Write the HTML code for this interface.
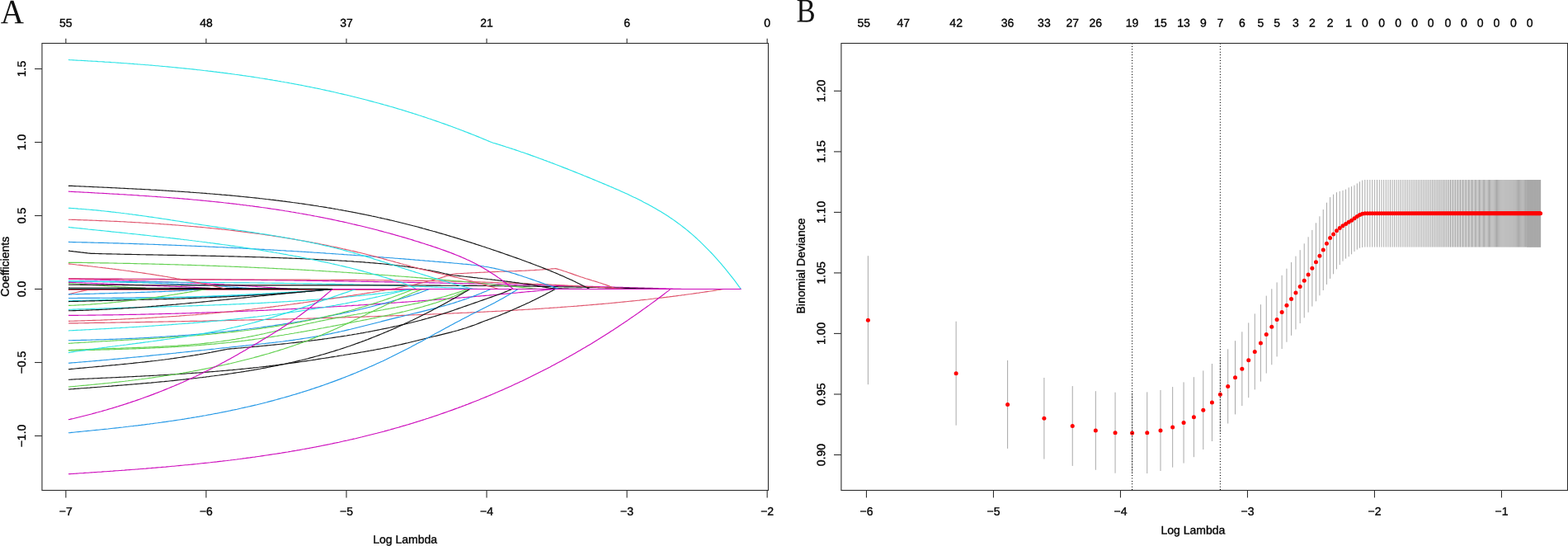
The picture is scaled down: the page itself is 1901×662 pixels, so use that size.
<!DOCTYPE html>
<html lang="en"><head><meta charset="utf-8"><title>LASSO coefficient paths and cross-validation</title>
<style>
html,body{margin:0;padding:0;background:#fff;}
body{width:1901px;height:662px;overflow:hidden;}
svg{display:block;}
</style></head><body>
<svg width="1901" height="662" viewBox="0 0 1901 662" role="img" aria-label="LASSO coefficient profiles and cross-validated binomial deviance">
<rect x="0" y="0" width="1901" height="662" fill="#ffffff"/>
<g fill="none" stroke-linejoin="round" stroke-linecap="butt" stroke-width="1.15">
<path d="M83.0,338.0 L85.0,338.0 L87.0,338.0 L89.0,338.0 L91.0,338.0 L93.0,338.0 L95.0,338.0 L97.0,338.0 L99.0,338.0 L101.0,338.0 L103.0,338.0 L105.1,338.0 L107.1,338.0 L109.1,338.0 L111.1,338.0 L113.1,338.0 L115.1,338.0 L117.1,338.0 L119.1,338.0 L121.1,338.0 L123.1,338.0 L125.1,338.1 L127.1,338.1 L129.1,338.1 L131.1,338.1 L133.1,338.1 L135.1,338.1 L137.1,338.1 L139.1,338.1 L141.1,338.1 L143.1,338.1 L145.1,338.1 L147.1,338.1 L149.2,338.2 L151.2,338.2 L153.2,338.2 L155.2,338.2 L157.2,338.2 L159.2,338.2 L161.2,338.2 L163.2,338.2 L165.2,338.2 L167.2,338.2 L169.2,338.3 L171.2,338.3 L173.2,338.3 L175.2,338.3 L177.2,338.3 L179.2,338.3 L181.2,338.3 L183.2,338.3 L185.2,338.3 L187.2,338.4 L189.2,338.4 L191.2,338.4 L193.3,338.4 L195.3,338.4 L197.3,338.4 L199.3,338.4 L201.3,338.5 L203.3,338.5 L205.3,338.5 L207.3,338.5 L209.3,338.5 L211.3,338.5 L213.3,338.5 L215.3,338.6 L217.3,338.6 L219.3,338.6 L221.3,338.6 L223.3,338.6 L225.3,338.6 L227.3,338.6 L229.3,338.7 L231.3,338.7 L233.3,338.7 L235.3,338.7 L237.4,338.7 L239.4,338.7 L241.4,338.8 L243.4,338.8 L245.4,338.8 L247.4,338.8 L249.4,338.8 L251.4,338.9 L253.4,338.9 L255.4,338.9 L257.4,338.9 L259.4,338.9 L261.4,339.0 L263.4,339.0 L265.4,339.0 L267.4,339.0 L269.4,339.0 L271.4,339.0 L273.4,339.1 L275.4,339.1 L277.4,339.1 L279.4,339.1 L281.5,339.2 L283.5,339.2 L285.5,339.2 L287.5,339.2 L289.5,339.2 L291.5,339.3 L293.5,339.3 L295.5,339.3 L297.5,339.3 L299.5,339.3 L301.5,339.4 L303.5,339.4 L305.5,339.4 L307.5,339.4 L309.5,339.5 L311.5,339.5 L313.5,339.5 L315.5,339.5 L317.5,339.6 L319.5,339.6 L321.5,339.6 L323.5,339.6 L325.6,339.7 L327.6,339.7 L329.6,339.7 L331.6,339.7 L333.6,339.8 L335.6,339.8 L337.6,339.8 L339.6,339.8 L341.6,339.9 L343.6,339.9 L345.6,339.9 L347.6,339.9 L349.6,340.0 L351.6,340.0 L353.6,340.0 L355.6,340.0 L357.6,340.1 L359.6,340.1 L361.6,340.1 L363.6,340.1 L365.6,340.2 L367.7,340.2 L369.7,340.2 L371.7,340.3 L373.7,340.3 L375.7,340.3 L377.7,340.3 L379.7,340.4 L381.7,340.4 L383.7,340.4 L385.7,340.5 L387.7,340.5 L389.7,340.5 L391.7,340.6 L393.7,340.6 L395.7,340.6 L397.7,340.6 L399.7,340.7 L401.7,340.7 L403.7,340.7 L405.7,340.8 L407.7,340.8 L409.7,340.8 L411.8,340.9 L413.8,340.9 L415.8,340.9 L417.8,341.0 L419.8,341.0 L421.8,341.0 L423.8,341.1 L425.8,341.1 L427.8,341.1 L429.8,341.1 L431.8,341.2 L433.8,341.2 L435.8,341.2 L437.8,341.3 L439.8,341.3 L441.8,341.4 L443.8,341.4 L445.8,341.4 L447.8,341.5 L449.8,341.5 L451.8,341.5 L453.8,341.6 L455.9,341.6 L457.9,341.6 L459.9,341.7 L461.9,341.7 L463.9,341.7 L465.9,341.8 L467.9,341.8 L469.9,341.8 L471.9,341.9 L473.9,341.9 L475.9,341.9 L477.9,342.0 L479.9,342.0 L481.9,342.1 L483.9,342.1 L485.9,342.1 L487.9,342.2 L489.9,342.2 L491.9,342.2 L493.9,342.3 L495.9,342.3 L497.9,342.4 L500.0,342.4 L502.0,342.4 L504.0,342.5 L506.0,342.5 L508.0,342.6 L510.0,342.6 L512.0,342.6 L514.0,342.7 L516.0,342.7 L518.0,342.7 L520.0,342.8 L522.0,342.8 L524.0,342.9 L526.0,342.9 L528.0,343.0 L530.0,343.0 L532.0,343.0 L534.0,343.1 L536.0,343.1 L538.0,343.2 L540.0,343.2 L542.0,343.2 L544.1,343.3 L546.1,343.3 L548.1,343.4 L550.1,343.4 L552.1,343.4 L554.1,343.5 L556.1,343.5 L558.1,343.6 L560.1,343.6 L562.1,343.7 L564.1,343.7 L566.1,343.7 L568.1,343.8 L570.1,343.8 L572.1,343.9 L574.1,343.9 L576.1,344.0 L578.1,344.0 L580.1,344.1 L582.1,344.1 L584.1,344.1 L586.2,344.2 L588.2,344.2 L590.2,344.3 L592.2,344.3 L594.2,344.4 L596.2,344.4 L598.2,344.5 L600.2,344.5 L602.2,344.5 L604.2,344.6 L606.2,344.6 L608.2,344.7 L610.2,344.7 L612.2,344.8 L614.2,344.8 L616.2,344.9 L618.2,344.9 L620.2,345.0 L622.2,345.0 L624.2,345.1 L626.2,345.1 L628.2,345.2 L630.3,345.2 L632.3,345.2 L634.3,345.3 L636.3,345.3 L638.3,345.4 L640.3,345.4 L642.3,345.5 L644.3,345.5 L646.3,345.6 L648.3,345.6 L650.3,345.7 L652.3,345.7 L654.3,345.8 L656.3,345.8 L658.3,345.9 L660.3,345.9 L662.3,346.0 L664.3,346.0 L666.3,346.1 L668.3,346.1 L670.3,346.2 L672.3,346.2 L674.4,346.3 L676.4,346.3 L678.4,346.4 L680.4,346.4 L682.4,346.5 L684.4,346.5 L686.4,346.6 L688.4,346.6 L690.4,346.7 L692.4,346.7 L694.4,346.8 L696.4,346.8 L698.4,346.9 L700.4,347.0 L702.4,347.0 L704.4,347.1 L706.4,347.1 L708.4,347.2 L710.4,347.2 L712.4,347.3 L714.4,347.3 L716.4,347.4 L718.5,347.4 L720.5,347.5 L722.5,347.5 L724.5,347.6 L726.5,347.6 L728.5,347.7 L730.5,347.8 L732.5,347.8 L734.5,347.9 L736.5,347.9 L738.5,348.0 L740.5,348.0 L742.5,348.1 L744.5,348.1 L746.5,348.2 L748.5,348.2 L750.5,348.3 L752.5,348.4 L754.5,348.4 L756.5,348.5 L758.5,348.5 L760.5,348.6 L762.6,348.6 L764.6,348.7 L766.6,348.7 L768.6,348.8 L770.6,348.9 L772.6,348.9 L774.6,349.0 L776.6,349.0 L778.6,349.1 L780.6,349.1 L782.6,349.2 L784.6,349.3 L786.6,349.3 L788.6,349.4 L790.6,349.4 L792.6,349.5 L794.6,349.6 L796.6,349.6 L798.6,349.7 L800.6,349.7 L802.6,349.8 L804.6,349.8 L806.7,349.9 L808.7,350.0 L810.7,350.0 L812.7,350.1 L814.7,350.1 L816.7,350.2 L818.7,350.3 L820.7,350.3 L822.7,350.4 L824.7,350.4 L826.7,350.5" stroke="#CD0BBC"/>
<path d="M83.0,338.2 L85.0,338.3 L87.0,338.3 L89.0,338.4 L91.1,338.4 L93.1,338.5 L95.1,338.5 L97.1,338.6 L99.1,338.6 L101.1,338.7 L103.1,338.8 L105.1,338.8 L107.2,338.9 L109.2,338.9 L111.2,339.0 L113.2,339.0 L115.2,339.1 L117.2,339.1 L119.2,339.2 L121.2,339.3 L123.3,339.3 L125.3,339.4 L127.3,339.4 L129.3,339.5 L131.3,339.5 L133.3,339.6 L135.3,339.7 L137.3,339.7 L139.4,339.8 L141.4,339.8 L143.4,339.9 L145.4,340.0 L147.4,340.0 L149.4,340.1 L151.4,340.2 L153.4,340.2 L155.5,340.3 L157.5,340.4 L159.5,340.4 L161.5,340.5 L163.5,340.5 L165.5,340.6 L167.5,340.7 L169.5,340.7 L171.6,340.8 L173.6,340.9 L175.6,340.9 L177.6,341.0 L179.6,341.1 L181.6,341.2 L183.6,341.2 L185.6,341.3 L187.7,341.4 L189.7,341.4 L191.7,341.5 L193.7,341.6 L195.7,341.6 L197.7,341.7 L199.7,341.8 L201.7,341.9 L203.8,341.9 L205.8,342.0 L207.8,342.1 L209.8,342.2 L211.8,342.2 L213.8,342.3 L215.8,342.4 L217.8,342.5 L219.9,342.6 L221.9,342.6 L223.9,342.7 L225.9,342.8 L227.9,342.9 L229.9,343.0 L231.9,343.1 L233.9,343.1 L236.0,343.2 L238.0,343.3 L240.0,343.4 L242.0,343.5 L244.0,343.6 L246.0,343.7 L248.0,343.8 L250.0,343.9 L252.1,344.0 L254.1,344.1 L256.1,344.2 L258.1,344.3 L260.1,344.4 L262.1,344.5 L264.1,344.6 L266.1,344.7 L268.2,344.8 L270.2,344.9 L272.2,345.1 L274.2,345.2 L276.2,345.3 L278.2,345.4 L280.2,345.5 L282.2,345.7 L284.3,345.8 L286.3,345.9 L288.3,346.0 L290.3,346.2 L292.3,346.3 L294.3,346.4 L296.3,346.5 L298.3,346.7 L300.4,346.8 L302.4,346.9 L304.4,347.0 L306.4,347.2 L308.4,347.3 L310.4,347.4 L312.4,347.6 L314.4,347.7 L316.5,347.8 L318.5,348.0 L320.5,348.1 L322.5,348.2 L324.5,348.4 L326.5,348.5 L328.5,348.6 L330.5,348.8 L332.6,348.9 L334.6,349.1 L336.6,349.2 L338.6,349.3 L340.6,349.5 L342.6,349.6 L344.6,349.8 L346.6,349.9 L348.7,350.1 L350.7,350.2 L352.7,350.4 L354.7,350.5" stroke="#CD0BBC"/>
<path d="M83.0,340.9 L85.0,340.9 L87.0,340.9 L89.0,340.9 L91.0,341.0 L93.0,341.0 L95.0,341.0 L97.0,341.0 L99.0,341.1 L101.1,341.1 L103.1,341.2 L105.1,341.2 L107.1,341.2 L109.1,341.3 L111.1,341.3 L113.1,341.3 L115.1,341.4 L117.1,341.4 L119.1,341.5 L121.1,341.5 L123.1,341.5 L125.1,341.6 L127.1,341.6 L129.1,341.7 L131.1,341.7 L133.1,341.8 L135.2,341.8 L137.2,341.9 L139.2,341.9 L141.2,342.0 L143.2,342.0 L145.2,342.1 L147.2,342.1 L149.2,342.2 L151.2,342.2 L153.2,342.3 L155.2,342.3 L157.2,342.4 L159.2,342.5 L161.2,342.5 L163.2,342.6 L165.2,342.6 L167.2,342.7 L169.3,342.7 L171.3,342.8 L173.3,342.9 L175.3,342.9 L177.3,343.0 L179.3,343.0 L181.3,343.1 L183.3,343.2 L185.3,343.2 L187.3,343.3 L189.3,343.4 L191.3,343.4 L193.3,343.5 L195.3,343.6 L197.3,343.7 L199.3,343.7 L201.3,343.8 L203.4,343.9 L205.4,344.0 L207.4,344.1 L209.4,344.1 L211.4,344.2 L213.4,344.3 L215.4,344.4 L217.4,344.5 L219.4,344.6 L221.4,344.6 L223.4,344.7 L225.4,344.8 L227.4,344.9 L229.4,345.0 L231.4,345.1 L233.4,345.2 L235.5,345.3 L237.5,345.4 L239.5,345.5 L241.5,345.6 L243.5,345.7 L245.5,345.8 L247.5,345.9 L249.5,346.0 L251.5,346.1 L253.5,346.2 L255.5,346.3 L257.5,346.4 L259.5,346.5 L261.5,346.6 L263.5,346.8 L265.5,346.9 L267.5,347.0 L269.6,347.2 L271.6,347.3 L273.6,347.4 L275.6,347.6 L277.6,347.7 L279.6,347.9 L281.6,348.0 L283.6,348.1 L285.6,348.3 L287.6,348.4 L289.6,348.6 L291.6,348.7 L293.6,348.8 L295.6,349.0 L297.6,349.1 L299.6,349.2 L301.6,349.4 L303.7,349.5 L305.7,349.6 L307.7,349.8 L309.7,349.9 L311.7,350.0 L313.7,350.1 L315.7,350.3 L317.7,350.4 L319.7,350.5" stroke="#2297E6"/>
<path d="M83.0,340.7 L85.0,340.7 L87.0,340.7 L89.0,340.7 L91.0,340.8 L93.0,340.8 L95.0,340.8 L97.0,340.9 L99.0,340.9 L101.0,340.9 L103.0,341.0 L105.0,341.0 L107.0,341.0 L109.0,341.0 L111.0,341.1 L113.0,341.1 L115.0,341.1 L117.0,341.1 L119.1,341.2 L121.1,341.2 L123.1,341.2 L125.1,341.2 L127.1,341.3 L129.1,341.3 L131.1,341.3 L133.1,341.3 L135.1,341.4 L137.1,341.4 L139.1,341.4 L141.1,341.4 L143.1,341.5 L145.1,341.5 L147.1,341.5 L149.1,341.5 L151.1,341.5 L153.1,341.6 L155.1,341.6 L157.1,341.6 L159.1,341.6 L161.1,341.7 L163.1,341.7 L165.1,341.7 L167.1,341.7 L169.1,341.7 L171.1,341.8 L173.1,341.8 L175.1,341.8 L177.1,341.8 L179.1,341.8 L181.1,341.8 L183.1,341.9 L185.1,341.9 L187.1,341.9 L189.1,341.9 L191.2,341.9 L193.2,342.0 L195.2,342.0 L197.2,342.0 L199.2,342.0 L201.2,342.0 L203.2,342.0 L205.2,342.1 L207.2,342.1 L209.2,342.1 L211.2,342.1 L213.2,342.1 L215.2,342.2 L217.2,342.2 L219.2,342.2 L221.2,342.2 L223.2,342.2 L225.2,342.2 L227.2,342.3 L229.2,342.3 L231.2,342.3 L233.2,342.3 L235.2,342.3 L237.2,342.3 L239.2,342.4 L241.2,342.4 L243.2,342.4 L245.2,342.4 L247.2,342.4 L249.2,342.4 L251.2,342.5 L253.2,342.5 L255.2,342.5 L257.2,342.5 L259.2,342.5 L261.3,342.6 L263.3,342.6 L265.3,342.6 L267.3,342.6 L269.3,342.6 L271.3,342.6 L273.3,342.7 L275.3,342.7 L277.3,342.7 L279.3,342.7 L281.3,342.7 L283.3,342.8 L285.3,342.8 L287.3,342.8 L289.3,342.8 L291.3,342.8 L293.3,342.9 L295.3,342.9 L297.3,342.9 L299.3,342.9 L301.3,342.9 L303.3,343.0 L305.3,343.0 L307.3,343.0 L309.3,343.0 L311.3,343.0 L313.3,343.1 L315.3,343.1 L317.3,343.1 L319.3,343.1 L321.3,343.2 L323.3,343.2 L325.3,343.2 L327.3,343.2 L329.3,343.3 L331.4,343.3 L333.4,343.3 L335.4,343.3 L337.4,343.4 L339.4,343.4 L341.4,343.4 L343.4,343.4 L345.4,343.5 L347.4,343.5 L349.4,343.5 L351.4,343.5 L353.4,343.6 L355.4,343.6 L357.4,343.6 L359.4,343.7 L361.4,343.7 L363.4,343.7 L365.4,343.7 L367.4,343.8 L369.4,343.8 L371.4,343.8 L373.4,343.9 L375.4,343.9 L377.4,343.9 L379.4,344.0 L381.4,344.0 L383.4,344.0 L385.4,344.1 L387.4,344.1 L389.4,344.1 L391.4,344.2 L393.4,344.2 L395.4,344.3 L397.4,344.3 L399.4,344.3 L401.4,344.4 L403.5,344.4 L405.5,344.4 L407.5,344.5 L409.5,344.5 L411.5,344.6 L413.5,344.6 L415.5,344.7 L417.5,344.7 L419.5,344.7 L421.5,344.8 L423.5,344.8 L425.5,344.9 L427.5,344.9 L429.5,345.0 L431.5,345.0 L433.5,345.1 L435.5,345.1 L437.5,345.2 L439.5,345.2 L441.5,345.3 L443.5,345.3 L445.5,345.4 L447.5,345.4 L449.5,345.5 L451.5,345.5 L453.5,345.6 L455.5,345.6 L457.5,345.7 L459.5,345.7 L461.5,345.8 L463.5,345.8 L465.5,345.9 L467.5,346.0 L469.5,346.0 L471.5,346.1 L473.6,346.1 L475.6,346.2 L477.6,346.3 L479.6,346.3 L481.6,346.4 L483.6,346.5 L485.6,346.5 L487.6,346.6 L489.6,346.6 L491.6,346.7 L493.6,346.8 L495.6,346.9 L497.6,346.9 L499.6,347.0 L501.6,347.1 L503.6,347.1 L505.6,347.2 L507.6,347.3 L509.6,347.4 L511.6,347.4 L513.6,347.5 L515.6,347.6 L517.6,347.7 L519.6,347.7 L521.6,347.8 L523.6,347.9 L525.6,348.0 L527.6,348.1 L529.6,348.1 L531.6,348.2 L533.6,348.3 L535.6,348.4 L537.6,348.5 L539.6,348.6 L541.6,348.7 L543.6,348.7 L545.7,348.8 L547.7,348.9 L549.7,349.0 L551.7,349.1 L553.7,349.2 L555.7,349.3 L557.7,349.4 L559.7,349.5 L561.7,349.6 L563.7,349.7 L565.7,349.8 L567.7,349.9 L569.7,350.0 L571.7,350.1 L573.7,350.2 L575.7,350.3 L577.7,350.4 L579.7,350.5" stroke="#28E2E5"/>
<path d="M83.0,342.4 L85.0,342.4 L87.0,342.5 L89.0,342.6 L91.0,342.6 L93.0,342.7 L95.0,342.8 L97.1,342.9 L99.1,342.9 L101.1,343.0 L103.1,343.1 L105.1,343.2 L107.1,343.2 L109.1,343.3 L111.1,343.4 L113.1,343.5 L115.1,343.5 L117.1,343.6 L119.1,343.7 L121.1,343.8 L123.2,343.9 L125.2,343.9 L127.2,344.0 L129.2,344.1 L131.2,344.2 L133.2,344.3 L135.2,344.3 L137.2,344.4 L139.2,344.5 L141.2,344.6 L143.2,344.7 L145.2,344.7 L147.3,344.8 L149.3,344.9 L151.3,345.0 L153.3,345.1 L155.3,345.1 L157.3,345.2 L159.3,345.3 L161.3,345.4 L163.3,345.5 L165.3,345.6 L167.3,345.6 L169.3,345.7 L171.3,345.8 L173.4,345.9 L175.4,346.0 L177.4,346.1 L179.4,346.1 L181.4,346.2 L183.4,346.3 L185.4,346.4 L187.4,346.4 L189.4,346.5 L191.4,346.6 L193.4,346.6 L195.4,346.7 L197.4,346.8 L199.5,346.9 L201.5,346.9 L203.5,347.0 L205.5,347.1 L207.5,347.2 L209.5,347.2 L211.5,347.3 L213.5,347.4 L215.5,347.5 L217.5,347.6 L219.5,347.6 L221.5,347.7 L223.6,347.8 L225.6,347.9 L227.6,348.0 L229.6,348.1 L231.6,348.2 L233.6,348.3 L235.6,348.4 L237.6,348.5 L239.6,348.6 L241.6,348.8 L243.6,348.9 L245.6,349.0 L247.6,349.1 L249.7,349.3 L251.7,349.4 L253.7,349.6 L255.7,349.7 L257.7,350.0 L259.7,350.2 L261.7,350.5" stroke="#CD0BBC"/>
<path d="M83.0,343.4 L85.0,343.6 L87.0,343.7 L89.0,343.9 L91.1,344.0 L93.1,344.2 L95.1,344.3 L97.1,344.5 L99.1,344.6 L101.1,344.8 L103.1,344.9 L105.2,345.0 L107.2,345.2 L109.2,345.3 L111.2,345.5 L113.2,345.6 L115.2,345.7 L117.2,345.9 L119.3,346.0 L121.3,346.2 L123.3,346.3 L125.3,346.4 L127.3,346.6 L129.3,346.7 L131.3,346.9 L133.4,347.0 L135.4,347.1 L137.4,347.3 L139.4,347.4 L141.4,347.5 L143.4,347.6 L145.5,347.7 L147.5,347.9 L149.5,348.0 L151.5,348.1 L153.5,348.2 L155.5,348.4 L157.5,348.5 L159.6,348.6 L161.6,348.8 L163.6,348.9 L165.6,349.1 L167.6,349.3 L169.6,349.4 L171.6,349.6 L173.7,349.8 L175.7,350.0 L177.7,350.3 L179.7,350.5" stroke="#61D04F"/>
<path d="M83.0,345.2 L85.0,345.2 L87.0,345.2 L89.0,345.2 L91.0,345.2 L93.0,345.2 L95.0,345.2 L97.0,345.3 L99.0,345.3 L101.0,345.3 L103.0,345.3 L105.0,345.3 L107.0,345.3 L109.0,345.3 L111.0,345.4 L113.0,345.4 L115.0,345.4 L117.0,345.4 L119.0,345.4 L121.0,345.4 L123.0,345.4 L125.0,345.4 L127.0,345.5 L129.0,345.5 L131.0,345.5 L133.0,345.5 L135.1,345.5 L137.1,345.5 L139.1,345.5 L141.1,345.5 L143.1,345.5 L145.1,345.5 L147.1,345.5 L149.1,345.6 L151.1,345.6 L153.1,345.6 L155.1,345.6 L157.1,345.6 L159.1,345.6 L161.1,345.6 L163.1,345.6 L165.1,345.6 L167.1,345.6 L169.1,345.6 L171.1,345.6 L173.1,345.6 L175.1,345.7 L177.1,345.7 L179.1,345.7 L181.1,345.7 L183.1,345.7 L185.1,345.7 L187.1,345.7 L189.1,345.7 L191.1,345.7 L193.1,345.7 L195.1,345.7 L197.1,345.7 L199.1,345.7 L201.1,345.7 L203.1,345.7 L205.1,345.7 L207.1,345.7 L209.1,345.7 L211.1,345.7 L213.1,345.7 L215.1,345.7 L217.1,345.7 L219.1,345.8 L221.1,345.8 L223.1,345.8 L225.1,345.8 L227.1,345.8 L229.1,345.8 L231.1,345.8 L233.1,345.8 L235.1,345.8 L237.2,345.8 L239.2,345.8 L241.2,345.8 L243.2,345.8 L245.2,345.8 L247.2,345.8 L249.2,345.8 L251.2,345.8 L253.2,345.8 L255.2,345.8 L257.2,345.8 L259.2,345.8 L261.2,345.8 L263.2,345.8 L265.2,345.8 L267.2,345.8 L269.2,345.8 L271.2,345.8 L273.2,345.8 L275.2,345.8 L277.2,345.8 L279.2,345.8 L281.2,345.8 L283.2,345.8 L285.2,345.8 L287.2,345.8 L289.2,345.8 L291.2,345.8 L293.2,345.8 L295.2,345.8 L297.2,345.8 L299.2,345.8 L301.2,345.8 L303.2,345.8 L305.2,345.8 L307.2,345.8 L309.2,345.8 L311.2,345.8 L313.2,345.8 L315.2,345.8 L317.2,345.8 L319.2,345.8 L321.2,345.8 L323.2,345.8 L325.2,345.8 L327.2,345.8 L329.2,345.8 L331.2,345.8 L333.2,345.8 L335.2,345.8 L337.2,345.8 L339.3,345.8 L341.3,345.8 L343.3,345.8 L345.3,345.8 L347.3,345.8 L349.3,345.8 L351.3,345.8 L353.3,345.8 L355.3,345.8 L357.3,345.8 L359.3,345.8 L361.3,345.8 L363.3,345.8 L365.3,345.8 L367.3,345.8 L369.3,345.8 L371.3,345.8 L373.3,345.8 L375.3,345.8 L377.3,345.8 L379.3,345.8 L381.3,345.8 L383.3,345.8 L385.3,345.8 L387.3,345.8 L389.3,345.8 L391.3,345.8 L393.3,345.8 L395.3,345.8 L397.3,345.8 L399.3,345.8 L401.3,345.8 L403.3,345.8 L405.3,345.8 L407.3,345.8 L409.3,345.8 L411.3,345.8 L413.3,345.8 L415.3,345.8 L417.3,345.8 L419.3,345.8 L421.3,345.8 L423.3,345.8 L425.3,345.8 L427.3,345.8 L429.3,345.8 L431.3,345.8 L433.3,345.8 L435.3,345.8 L437.3,345.8 L439.3,345.8 L441.3,345.8 L443.4,345.8 L445.4,345.8 L447.4,345.8 L449.4,345.8 L451.4,345.8 L453.4,345.9 L455.4,345.9 L457.4,345.9 L459.4,345.9 L461.4,345.9 L463.4,345.9 L465.4,345.9 L467.4,345.9 L469.4,345.9 L471.4,345.9 L473.4,345.9 L475.4,345.9 L477.4,345.9 L479.4,345.9 L481.4,345.9 L483.4,345.9 L485.4,345.9 L487.4,345.9 L489.4,345.9 L491.4,346.0 L493.4,346.0 L495.4,346.0 L497.4,346.0 L499.4,346.0 L501.4,346.0 L503.4,346.0 L505.4,346.0 L507.4,346.0 L509.4,346.0 L511.4,346.0 L513.4,346.0 L515.4,346.0 L517.4,346.1 L519.4,346.1 L521.4,346.1 L523.4,346.1 L525.4,346.1 L527.4,346.1 L529.4,346.1 L531.4,346.1 L533.4,346.1 L535.4,346.2 L537.4,346.2 L539.4,346.2 L541.4,346.2 L543.4,346.2 L545.5,346.2 L547.5,346.2 L549.5,346.2 L551.5,346.2 L553.5,346.3 L555.5,346.3 L557.5,346.3 L559.5,346.3 L561.5,346.3 L563.5,346.3 L565.5,346.3 L567.5,346.4 L569.5,346.4 L571.5,346.4 L573.5,346.4 L575.5,346.4 L577.5,346.4 L579.5,346.5 L581.5,346.5 L583.5,346.5 L585.5,346.5 L587.5,346.5 L589.5,346.5 L591.5,346.6 L593.5,346.6 L595.5,346.6 L597.5,346.6 L599.5,346.6 L601.5,346.7 L603.5,346.7 L605.5,346.7 L607.5,346.7 L609.5,346.7 L611.5,346.8 L613.5,346.8 L615.5,346.8 L617.5,346.8 L619.5,346.9 L621.5,346.9 L623.5,346.9 L625.5,346.9 L627.5,347.0 L629.5,347.0 L631.5,347.0 L633.5,347.0 L635.5,347.1 L637.5,347.1 L639.5,347.1 L641.5,347.1 L643.5,347.2 L645.5,347.2 L647.6,347.2 L649.6,347.2 L651.6,347.3 L653.6,347.3 L655.6,347.3 L657.6,347.4 L659.6,347.4 L661.6,347.4 L663.6,347.4 L665.6,347.5 L667.6,347.5 L669.6,347.5 L671.6,347.6 L673.6,347.6 L675.6,347.6 L677.6,347.7 L679.6,347.7 L681.6,347.7 L683.6,347.8 L685.6,347.8 L687.6,347.8 L689.6,347.9 L691.6,347.9 L693.6,347.9 L695.6,348.0 L697.6,348.0 L699.6,348.1 L701.6,348.1 L703.6,348.1 L705.6,348.2 L707.6,348.2 L709.6,348.2 L711.6,348.3 L713.6,348.3 L715.6,348.4 L717.6,348.4 L719.6,348.5 L721.6,348.5 L723.6,348.5 L725.6,348.6 L727.6,348.6 L729.6,348.7 L731.6,348.7 L733.6,348.8 L735.6,348.8 L737.6,348.8 L739.6,348.9 L741.6,348.9 L743.6,349.0 L745.6,349.0 L747.6,349.1 L749.7,349.1 L751.7,349.2 L753.7,349.2 L755.7,349.3 L757.7,349.3 L759.7,349.4 L761.7,349.4 L763.7,349.5 L765.7,349.5 L767.7,349.6 L769.7,349.6 L771.7,349.7 L773.7,349.7 L775.7,349.8 L777.7,349.9 L779.7,349.9 L781.7,350.0 L783.7,350.0 L785.7,350.1 L787.7,350.1 L789.7,350.2 L791.7,350.3 L793.7,350.3 L795.7,350.4 L797.7,350.4 L799.7,350.5" stroke="#141414"/>
<path d="M83.0,337.7 L85.0,337.8 L87.0,337.8 L89.0,337.8 L91.0,337.9 L93.0,337.9 L95.0,337.9 L97.0,337.9 L99.0,338.0 L101.0,338.0 L103.0,338.0 L105.0,338.1 L107.0,338.1 L109.0,338.1 L111.0,338.1 L113.0,338.1 L115.0,338.2 L117.0,338.2 L119.0,338.2 L121.0,338.2 L123.0,338.3 L125.0,338.3 L127.0,338.3 L129.0,338.3 L131.0,338.3 L133.1,338.4 L135.1,338.4 L137.1,338.4 L139.1,338.4 L141.1,338.4 L143.1,338.4 L145.1,338.5 L147.1,338.5 L149.1,338.5 L151.1,338.5 L153.1,338.5 L155.1,338.5 L157.1,338.6 L159.1,338.6 L161.1,338.6 L163.1,338.6 L165.1,338.6 L167.1,338.6 L169.1,338.6 L171.1,338.6 L173.1,338.7 L175.1,338.7 L177.1,338.7 L179.1,338.7 L181.1,338.7 L183.1,338.7 L185.1,338.7 L187.1,338.7 L189.1,338.7 L191.1,338.7 L193.1,338.8 L195.1,338.8 L197.1,338.8 L199.1,338.8 L201.1,338.8 L203.1,338.8 L205.1,338.8 L207.1,338.8 L209.1,338.8 L211.1,338.8 L213.1,338.8 L215.1,338.8 L217.1,338.8 L219.1,338.8 L221.1,338.9 L223.1,338.9 L225.1,338.9 L227.1,338.9 L229.2,338.9 L231.2,338.9 L233.2,338.9 L235.2,338.9 L237.2,338.9 L239.2,338.9 L241.2,338.9 L243.2,338.9 L245.2,338.9 L247.2,338.9 L249.2,338.9 L251.2,338.9 L253.2,338.9 L255.2,338.9 L257.2,338.9 L259.2,338.9 L261.2,338.9 L263.2,338.9 L265.2,338.9 L267.2,338.9 L269.2,339.0 L271.2,339.0 L273.2,339.0 L275.2,339.0 L277.2,339.0 L279.2,339.0 L281.2,339.0 L283.2,339.0 L285.2,339.0 L287.2,339.0 L289.2,339.0 L291.2,339.0 L293.2,339.0 L295.2,339.0 L297.2,339.0 L299.2,339.0 L301.2,339.0 L303.2,339.0 L305.2,339.0 L307.2,339.0 L309.2,339.0 L311.2,339.0 L313.2,339.0 L315.2,339.0 L317.2,339.0 L319.2,339.0 L321.2,339.0 L323.2,339.0 L325.3,339.0 L327.3,339.0 L329.3,339.0 L331.3,339.0 L333.3,339.0 L335.3,339.0 L337.3,339.0 L339.3,339.1 L341.3,339.1 L343.3,339.1 L345.3,339.1 L347.3,339.1 L349.3,339.1 L351.3,339.1 L353.3,339.1 L355.3,339.1 L357.3,339.1 L359.3,339.1 L361.3,339.1 L363.3,339.1 L365.3,339.1 L367.3,339.1 L369.3,339.1 L371.3,339.1 L373.3,339.1 L375.3,339.1 L377.3,339.2 L379.3,339.2 L381.3,339.2 L383.3,339.2 L385.3,339.2 L387.3,339.2 L389.3,339.2 L391.3,339.2 L393.3,339.2 L395.3,339.2 L397.3,339.2 L399.3,339.2 L401.3,339.3 L403.3,339.3 L405.3,339.3 L407.3,339.3 L409.3,339.3 L411.3,339.3 L413.3,339.3 L415.3,339.3 L417.3,339.4 L419.3,339.4 L421.4,339.4 L423.4,339.4 L425.4,339.4 L427.4,339.4 L429.4,339.4 L431.4,339.4 L433.4,339.5 L435.4,339.5 L437.4,339.5 L439.4,339.5 L441.4,339.5 L443.4,339.5 L445.4,339.6 L447.4,339.6 L449.4,339.6 L451.4,339.6 L453.4,339.6 L455.4,339.7 L457.4,339.7 L459.4,339.7 L461.4,339.7 L463.4,339.7 L465.4,339.8 L467.4,339.8 L469.4,339.8 L471.4,339.8 L473.4,339.8 L475.4,339.9 L477.4,339.9 L479.4,339.9 L481.4,339.9 L483.4,340.0 L485.4,340.0 L487.4,340.0 L489.4,340.1 L491.4,340.1 L493.4,340.1 L495.4,340.1 L497.4,340.2 L499.4,340.2 L501.4,340.2 L503.4,340.3 L505.4,340.3 L507.4,340.3 L509.4,340.4 L511.4,340.4 L513.4,340.4 L515.4,340.5 L517.4,340.5 L519.5,340.5 L521.5,340.6 L523.5,340.6 L525.5,340.6 L527.5,340.7 L529.5,340.7 L531.5,340.8 L533.5,340.8 L535.5,340.8 L537.5,340.9 L539.5,340.9 L541.5,341.0 L543.5,341.0 L545.5,341.0 L547.5,341.1 L549.5,341.1 L551.5,341.2 L553.5,341.2 L555.5,341.3 L557.5,341.3 L559.5,341.4 L561.5,341.4 L563.5,341.5 L565.5,341.5 L567.5,341.6 L569.5,341.6 L571.5,341.7 L573.5,341.7 L575.5,341.8 L577.5,341.8 L579.5,341.9 L581.5,341.9 L583.5,342.0 L585.5,342.1 L587.5,342.1 L589.5,342.2 L591.5,342.2 L593.5,342.3 L595.5,342.4 L597.5,342.4 L599.5,342.5 L601.5,342.5 L603.5,342.6 L605.5,342.7 L607.5,342.7 L609.5,342.8 L611.5,342.9 L613.5,342.9 L615.6,343.0 L617.6,343.1 L619.6,343.2 L621.6,343.2 L623.6,343.3 L625.6,343.4 L627.6,343.4 L629.6,343.5 L631.6,343.6 L633.6,343.7 L635.6,343.7 L637.6,343.8 L639.6,343.9 L641.6,344.0 L643.6,344.1 L645.6,344.2 L647.6,344.2 L649.6,344.3 L651.6,344.4 L653.6,344.5 L655.6,344.6 L657.6,344.7 L659.6,344.8 L661.6,344.8 L663.6,344.9 L665.6,345.0 L667.6,345.1 L669.6,345.2 L671.6,345.3 L673.6,345.4 L675.6,345.5 L677.6,345.6 L679.6,345.7 L681.6,345.8 L683.6,345.9 L685.6,346.0 L687.6,346.1 L689.6,346.2 L691.6,346.3 L693.6,346.4 L695.6,346.5 L697.6,346.6 L699.6,346.7 L701.6,346.8 L703.6,347.0 L705.6,347.1 L707.6,347.2 L709.6,347.3 L711.7,347.4 L713.7,347.5 L715.7,347.6 L717.7,347.8 L719.7,347.9 L721.7,348.0 L723.7,348.1 L725.7,348.2 L727.7,348.4 L729.7,348.5 L731.7,348.6 L733.7,348.7 L735.7,348.9 L737.7,349.0 L739.7,349.1 L741.7,349.3 L743.7,349.4 L745.7,349.5 L747.7,349.7 L749.7,349.8 L751.7,349.9 L753.7,350.1 L755.7,350.2 L757.7,350.4 L759.7,350.5" stroke="#DF536B"/>
<path d="M83.0,350.4 L85.0,350.4 L87.0,350.4 L89.0,350.4 L91.0,350.4 L93.1,350.4 L95.1,350.4 L97.1,350.4 L99.1,350.4 L101.1,350.4 L103.1,350.4 L105.1,350.4 L107.1,350.4 L109.2,350.4 L111.2,350.4 L113.2,350.4 L115.2,350.4 L117.2,350.4 L119.2,350.4 L121.2,350.4 L123.2,350.4 L125.3,350.4 L127.3,350.4 L129.3,350.4 L131.3,350.4 L133.3,350.4 L135.3,350.4 L137.3,350.4 L139.3,350.4 L141.3,350.4 L143.4,350.4 L145.4,350.4 L147.4,350.4 L149.4,350.4 L151.4,350.4 L153.4,350.4 L155.4,350.4 L157.4,350.4 L159.5,350.4 L161.5,350.5 L163.5,350.5 L165.5,350.5 L167.5,350.5 L169.5,350.5 L171.5,350.5 L173.5,350.5 L175.6,350.5 L177.6,350.5 L179.6,350.5 L181.6,350.5 L183.6,350.5 L185.6,350.5 L187.6,350.5 L189.6,350.5 L191.7,350.5 L193.7,350.5 L195.7,350.5 L197.7,350.5 L199.7,350.5" stroke="#28E2E5"/>
<path d="M83.0,348.9 L85.0,349.0 L87.0,349.0 L89.0,349.0 L91.0,349.0 L93.1,349.0 L95.1,349.0 L97.1,349.0 L99.1,349.0 L101.1,349.0 L103.1,349.0 L105.1,349.0 L107.1,349.0 L109.1,349.0 L111.1,349.0 L113.2,349.0 L115.2,349.0 L117.2,349.0 L119.2,349.0 L121.2,349.0 L123.2,349.0 L125.2,349.0 L127.2,349.0 L129.2,349.0 L131.3,349.0 L133.3,349.0 L135.3,349.0 L137.3,349.0 L139.3,349.0 L141.3,349.0 L143.3,349.1 L145.3,349.1 L147.3,349.1 L149.4,349.1 L151.4,349.1 L153.4,349.1 L155.4,349.1 L157.4,349.1 L159.4,349.1 L161.4,349.1 L163.4,349.1 L165.4,349.1 L167.4,349.1 L169.5,349.1 L171.5,349.1 L173.5,349.1 L175.5,349.1 L177.5,349.2 L179.5,349.2 L181.5,349.2 L183.5,349.2 L185.5,349.2 L187.6,349.2 L189.6,349.2 L191.6,349.2 L193.6,349.2 L195.6,349.2 L197.6,349.2 L199.6,349.2 L201.6,349.2 L203.6,349.2 L205.7,349.3 L207.7,349.3 L209.7,349.3 L211.7,349.3 L213.7,349.3 L215.7,349.3 L217.7,349.3 L219.7,349.3 L221.7,349.3 L223.7,349.3 L225.8,349.3 L227.8,349.3 L229.8,349.3 L231.8,349.4 L233.8,349.4 L235.8,349.4 L237.8,349.4 L239.8,349.4 L241.8,349.4 L243.9,349.4 L245.9,349.4 L247.9,349.4 L249.9,349.4 L251.9,349.4 L253.9,349.4 L255.9,349.5 L257.9,349.5 L259.9,349.5 L262.0,349.5 L264.0,349.5 L266.0,349.5 L268.0,349.5 L270.0,349.5 L272.0,349.5 L274.0,349.5 L276.0,349.6 L278.0,349.6 L280.0,349.6 L282.1,349.6 L284.1,349.6 L286.1,349.6 L288.1,349.6 L290.1,349.6 L292.1,349.6 L294.1,349.7 L296.1,349.7 L298.1,349.7 L300.2,349.7 L302.2,349.7 L304.2,349.7 L306.2,349.7 L308.2,349.7 L310.2,349.8 L312.2,349.8 L314.2,349.8 L316.2,349.8 L318.3,349.8 L320.3,349.8 L322.3,349.8 L324.3,349.9 L326.3,349.9 L328.3,349.9 L330.3,349.9 L332.3,349.9 L334.3,349.9 L336.3,349.9 L338.4,350.0 L340.4,350.0 L342.4,350.0 L344.4,350.0 L346.4,350.0 L348.4,350.0 L350.4,350.1 L352.4,350.1 L354.4,350.1 L356.5,350.1 L358.5,350.1 L360.5,350.1 L362.5,350.2 L364.5,350.2 L366.5,350.2 L368.5,350.2 L370.5,350.2 L372.5,350.2 L374.6,350.3 L376.6,350.3 L378.6,350.3 L380.6,350.3 L382.6,350.3 L384.6,350.3 L386.6,350.4 L388.6,350.4 L390.6,350.4 L392.6,350.4 L394.7,350.4 L396.7,350.4 L398.7,350.5 L400.7,350.5 L402.7,350.5" stroke="#141414"/>
<path d="M83.0,351.6 L85.0,351.5 L87.0,351.5 L89.0,351.5 L91.0,351.5 L93.0,351.5 L95.0,351.5 L97.0,351.5 L99.0,351.5 L101.0,351.5 L103.0,351.5 L105.0,351.5 L107.0,351.5 L109.0,351.5 L111.0,351.5 L113.0,351.5 L115.1,351.5 L117.1,351.5 L119.1,351.5 L121.1,351.5 L123.1,351.5 L125.1,351.5 L127.1,351.5 L129.1,351.5 L131.1,351.5 L133.1,351.5 L135.1,351.5 L137.1,351.5 L139.1,351.5 L141.1,351.5 L143.1,351.5 L145.1,351.5 L147.1,351.5 L149.1,351.5 L151.1,351.5 L153.1,351.5 L155.1,351.5 L157.1,351.5 L159.1,351.5 L161.1,351.5 L163.1,351.5 L165.1,351.5 L167.1,351.5 L169.1,351.5 L171.1,351.5 L173.1,351.5 L175.1,351.5 L177.2,351.5 L179.2,351.5 L181.2,351.5 L183.2,351.5 L185.2,351.5 L187.2,351.5 L189.2,351.5 L191.2,351.5 L193.2,351.5 L195.2,351.5 L197.2,351.5 L199.2,351.5 L201.2,351.5 L203.2,351.5 L205.2,351.5 L207.2,351.5 L209.2,351.5 L211.2,351.5 L213.2,351.5 L215.2,351.5 L217.2,351.5 L219.2,351.5 L221.2,351.5 L223.2,351.5 L225.2,351.5 L227.2,351.5 L229.2,351.5 L231.2,351.5 L233.2,351.5 L235.2,351.5 L237.2,351.5 L239.3,351.5 L241.3,351.5 L243.3,351.5 L245.3,351.5 L247.3,351.5 L249.3,351.5 L251.3,351.4 L253.3,351.4 L255.3,351.4 L257.3,351.4 L259.3,351.4 L261.3,351.4 L263.3,351.4 L265.3,351.4 L267.3,351.4 L269.3,351.4 L271.3,351.4 L273.3,351.4 L275.3,351.4 L277.3,351.4 L279.3,351.4 L281.3,351.4 L283.3,351.4 L285.3,351.4 L287.3,351.4 L289.3,351.4 L291.3,351.3 L293.3,351.3 L295.3,351.3 L297.3,351.3 L299.3,351.3 L301.4,351.3 L303.4,351.3 L305.4,351.3 L307.4,351.3 L309.4,351.3 L311.4,351.3 L313.4,351.3 L315.4,351.3 L317.4,351.3 L319.4,351.3 L321.4,351.3 L323.4,351.3 L325.4,351.3 L327.4,351.3 L329.4,351.3 L331.4,351.3 L333.4,351.3 L335.4,351.3 L337.4,351.3 L339.4,351.3 L341.4,351.2 L343.4,351.2 L345.4,351.2 L347.4,351.2 L349.4,351.2 L351.4,351.2 L353.4,351.2 L355.4,351.2 L357.4,351.2 L359.4,351.2 L361.4,351.2 L363.4,351.2 L365.5,351.2 L367.5,351.2 L369.5,351.2 L371.5,351.2 L373.5,351.2 L375.5,351.2 L377.5,351.2 L379.5,351.2 L381.5,351.2 L383.5,351.2 L385.5,351.2 L387.5,351.2 L389.5,351.2 L391.5,351.2 L393.5,351.2 L395.5,351.2 L397.5,351.2 L399.5,351.2 L401.5,351.2 L403.5,351.2 L405.5,351.2 L407.5,351.2 L409.5,351.2 L411.5,351.2 L413.5,351.2 L415.5,351.2 L417.5,351.2 L419.5,351.2 L421.5,351.2 L423.5,351.2 L425.5,351.2 L427.6,351.2 L429.6,351.2 L431.6,351.2 L433.6,351.2 L435.6,351.2 L437.6,351.2 L439.6,351.2 L441.6,351.2 L443.6,351.2 L445.6,351.2 L447.6,351.2 L449.6,351.2 L451.6,351.2 L453.6,351.2 L455.6,351.2 L457.6,351.2 L459.6,351.2 L461.6,351.2 L463.6,351.2 L465.6,351.2 L467.6,351.2 L469.6,351.2 L471.6,351.2 L473.6,351.2 L475.6,351.2 L477.6,351.2 L479.6,351.2 L481.6,351.2 L483.6,351.2 L485.6,351.1 L487.6,351.1 L489.7,351.1 L491.7,351.0 L493.7,351.0 L495.7,351.0 L497.7,350.9 L499.7,350.9 L501.7,350.9 L503.7,350.8 L505.7,350.8 L507.7,350.7 L509.7,350.7 L511.7,350.7 L513.7,350.6 L515.7,350.6 L517.7,350.5 L519.7,350.5" stroke="#DF536B"/>
<path d="M83.0,356.9 L85.1,356.3 L87.2,355.8 L89.3,355.3 L91.4,354.8 L93.5,354.3 L95.6,353.8 L97.7,353.4 L99.8,352.9 L101.9,352.5 L104.0,352.1 L106.1,351.6 L108.1,351.6 L110.1,351.6 L112.1,351.6 L114.1,351.6 L116.1,351.6 L118.1,351.6 L120.2,351.5 L122.2,351.5 L124.2,351.5 L126.2,351.5 L128.2,351.5 L130.2,351.5 L132.2,351.5 L134.2,351.5 L136.2,351.5 L138.2,351.5 L140.2,351.5 L142.2,351.5 L144.2,351.5 L146.3,351.5 L148.3,351.5 L150.3,351.5 L152.3,351.5 L154.3,351.5 L156.3,351.5 L158.3,351.5 L160.3,351.5 L162.3,351.5 L164.3,351.5 L166.3,351.5 L168.3,351.5 L170.3,351.5 L172.4,351.5 L174.4,351.5 L176.4,351.5 L178.4,351.5 L180.4,351.5 L182.4,351.5 L184.4,351.5 L186.4,351.5 L188.4,351.5 L190.4,351.5 L192.4,351.5 L194.4,351.5 L196.4,351.5 L198.5,351.5 L200.5,351.5 L202.5,351.5 L204.5,351.5 L206.5,351.5 L208.5,351.5 L210.5,351.5 L212.5,351.5 L214.5,351.5 L216.5,351.5 L218.5,351.5 L220.5,351.5 L222.6,351.5 L224.6,351.5 L226.6,351.5 L228.6,351.5 L230.6,351.5 L232.6,351.5 L234.6,351.5 L236.6,351.5 L238.6,351.5 L240.6,351.5 L242.6,351.5 L244.6,351.5 L246.6,351.5 L248.7,351.5 L250.7,351.4 L252.7,351.4 L254.7,351.4 L256.7,351.4 L258.7,351.4 L260.7,351.4 L262.7,351.4 L264.7,351.4 L266.7,351.4 L268.7,351.4 L270.7,351.4 L272.7,351.4 L274.8,351.4 L276.8,351.4 L278.8,351.4 L280.8,351.4 L282.8,351.4 L284.8,351.4 L286.8,351.4 L288.8,351.4 L290.8,351.4 L292.8,351.4 L294.8,351.4 L296.8,351.4 L298.8,351.4 L300.9,351.4 L302.9,351.4 L304.9,351.4 L306.9,351.4 L308.9,351.4 L310.9,351.4 L312.9,351.4 L314.9,351.4 L316.9,351.4 L318.9,351.4 L320.9,351.4 L322.9,351.4 L324.9,351.4 L327.0,351.4 L329.0,351.4 L331.0,351.4 L333.0,351.4 L335.0,351.4 L337.0,351.4 L339.0,351.4 L341.0,351.4 L343.0,351.4 L345.0,351.4 L347.0,351.4 L349.0,351.4 L351.0,351.4 L353.1,351.4 L355.1,351.4 L357.1,351.4 L359.1,351.4 L361.1,351.4 L363.1,351.4 L365.1,351.4 L367.1,351.4 L369.1,351.4 L371.1,351.4 L373.1,351.4 L375.1,351.4 L377.1,351.4 L379.2,351.4 L381.2,351.4 L383.2,351.4 L385.2,351.4 L387.2,351.4 L389.2,351.4 L391.2,351.4 L393.2,351.4 L395.2,351.4 L397.2,351.4 L399.2,351.4 L401.2,351.4 L403.2,351.4 L405.3,351.3 L407.3,351.3 L409.3,351.3 L411.3,351.3 L413.3,351.3 L415.3,351.3 L417.3,351.3 L419.3,351.3 L421.3,351.3 L423.3,351.3 L425.3,351.3 L427.3,351.3 L429.4,351.3 L431.4,351.3 L433.4,351.3 L435.4,351.3 L437.4,351.3 L439.4,351.3 L441.4,351.3 L443.4,351.3 L445.4,351.3 L447.4,351.3 L449.4,351.3 L451.4,351.3 L453.4,351.3 L455.5,351.3 L457.5,351.3 L459.5,351.3 L461.5,351.3 L463.5,351.3 L465.5,351.3 L467.5,351.3 L469.5,351.3 L471.5,351.2 L473.5,351.2 L475.5,351.2 L477.5,351.2 L479.5,351.2 L481.6,351.2 L483.6,351.1 L485.6,351.1 L487.6,351.1 L489.6,351.1 L491.6,351.0 L493.6,351.0 L495.6,351.0 L497.6,350.9 L499.6,350.9 L501.6,350.8 L503.6,350.8 L505.6,350.8 L507.7,350.7 L509.7,350.7 L511.7,350.6 L513.7,350.6 L515.7,350.6 L517.7,350.5 L519.7,350.5" stroke="#DF536B"/>
<path d="M83.0,356.9 L85.0,356.8 L87.0,356.8 L89.0,356.7 L91.0,356.7 L93.0,356.6 L95.1,356.6 L97.1,356.5 L99.1,356.5 L101.1,356.5 L103.1,356.4 L105.1,356.4 L107.1,356.3 L109.1,356.3 L111.1,356.2 L113.1,356.2 L115.1,356.1 L117.1,356.0 L119.2,356.0 L121.2,355.9 L123.2,355.9 L125.2,355.8 L127.2,355.8 L129.2,355.7 L131.2,355.7 L133.2,355.6 L135.2,355.5 L137.2,355.5 L139.2,355.4 L141.2,355.4 L143.3,355.3 L145.3,355.2 L147.3,355.2 L149.3,355.1 L151.3,355.0 L153.3,355.0 L155.3,354.9 L157.3,354.9 L159.3,354.8 L161.3,354.7 L163.3,354.7 L165.3,354.6 L167.4,354.5 L169.4,354.5 L171.4,354.4 L173.4,354.3 L175.4,354.3 L177.4,354.2 L179.4,354.1 L181.4,354.1 L183.4,354.0 L185.4,353.9 L187.4,353.9 L189.4,353.8 L191.5,353.7 L193.5,353.6 L195.5,353.6 L197.5,353.5 L199.5,353.4 L201.5,353.3 L203.5,353.2 L205.5,353.1 L207.5,353.1 L209.5,353.0 L211.5,352.9 L213.5,352.8 L215.6,352.7 L217.6,352.6 L219.6,352.5 L221.6,352.4 L223.6,352.2 L225.6,352.1 L227.6,351.9 L229.6,351.8 L231.6,351.6 L233.6,351.5 L235.6,351.3 L237.6,351.2 L239.7,351.0 L241.7,350.9 L243.7,350.8 L245.7,350.7 L247.7,350.6 L249.7,350.5" stroke="#2297E6"/>
<path d="M83.0,361.5 L85.0,361.5 L87.0,361.5 L89.0,361.5 L91.0,361.5 L93.0,361.5 L95.0,361.4 L97.0,361.4 L99.0,361.4 L101.0,361.4 L103.0,361.4 L105.0,361.4 L107.0,361.4 L109.0,361.3 L111.0,361.3 L113.0,361.3 L115.0,361.3 L117.0,361.3 L119.0,361.3 L121.0,361.3 L123.0,361.2 L125.0,361.2 L127.0,361.2 L129.0,361.2 L131.0,361.2 L133.0,361.2 L135.0,361.2 L137.0,361.1 L139.0,361.1 L141.0,361.1 L143.0,361.1 L145.0,361.1 L147.0,361.1 L149.0,361.1 L151.0,361.0 L153.0,361.0 L155.0,361.0 L157.0,361.0 L159.0,361.0 L161.0,361.0 L163.0,361.0 L165.1,360.9 L167.1,360.9 L169.1,360.9 L171.1,360.9 L173.1,360.9 L175.1,360.9 L177.1,360.8 L179.1,360.8 L181.1,360.8 L183.1,360.8 L185.1,360.8 L187.1,360.7 L189.1,360.7 L191.1,360.7 L193.1,360.7 L195.1,360.6 L197.1,360.6 L199.1,360.6 L201.1,360.6 L203.1,360.5 L205.1,360.5 L207.1,360.5 L209.1,360.5 L211.1,360.4 L213.1,360.4 L215.1,360.4 L217.1,360.3 L219.1,360.3 L221.1,360.3 L223.1,360.2 L225.1,360.2 L227.1,360.1 L229.1,360.1 L231.1,360.1 L233.1,360.0 L235.1,360.0 L237.1,359.9 L239.1,359.9 L241.1,359.9 L243.1,359.8 L245.1,359.8 L247.1,359.7 L249.1,359.7 L251.1,359.6 L253.1,359.6 L255.1,359.5 L257.1,359.4 L259.1,359.4 L261.1,359.3 L263.1,359.3 L265.1,359.2 L267.1,359.2 L269.1,359.1 L271.1,359.0 L273.1,359.0 L275.1,358.9 L277.1,358.8 L279.1,358.8 L281.1,358.7 L283.1,358.6 L285.1,358.5 L287.1,358.5 L289.1,358.4 L291.1,358.3 L293.1,358.2 L295.1,358.1 L297.1,358.0 L299.1,358.0 L301.1,357.9 L303.1,357.8 L305.1,357.7 L307.1,357.6 L309.1,357.5 L311.1,357.4 L313.1,357.3 L315.1,357.2 L317.1,357.1 L319.1,357.0 L321.1,356.9 L323.1,356.8 L325.2,356.7 L327.2,356.5 L329.2,356.4 L331.2,356.3 L333.2,356.2 L335.2,356.1 L337.2,355.9 L339.2,355.8 L341.2,355.7 L343.2,355.6 L345.2,355.4 L347.2,355.3 L349.2,355.1 L351.2,355.0 L353.2,354.9 L355.2,354.7 L357.2,354.6 L359.2,354.4 L361.2,354.3 L363.2,354.1 L365.2,354.0 L367.2,353.8 L369.2,353.6 L371.2,353.5 L373.2,353.3 L375.2,353.1 L377.2,353.0 L379.2,352.8 L381.2,352.6 L383.2,352.4 L385.2,352.3 L387.2,352.1 L389.2,351.9 L391.2,351.7 L393.2,351.5 L395.2,351.3 L397.2,351.1 L399.2,350.9 L401.2,350.7 L403.2,350.5" stroke="#2297E6"/>
<path d="M83.0,364.9 L85.0,364.8 L87.0,364.7 L89.0,364.6 L91.0,364.6 L93.0,364.5 L95.0,364.4 L97.0,364.4 L99.0,364.3 L101.0,364.2 L103.0,364.2 L105.0,364.1 L107.0,364.0 L109.0,364.0 L111.0,363.9 L113.0,363.8 L115.0,363.8 L117.0,363.7 L119.0,363.6 L121.0,363.6 L123.0,363.5 L125.0,363.4 L127.0,363.4 L129.0,363.3 L131.0,363.3 L133.0,363.2 L135.0,363.1 L137.0,363.1 L139.0,363.0 L141.0,362.9 L143.0,362.9 L145.0,362.8 L147.0,362.7 L149.0,362.7 L151.0,362.6 L153.0,362.6 L155.0,362.5 L157.0,362.4 L159.0,362.4 L161.0,362.3 L163.0,362.2 L165.1,362.2 L167.1,362.1 L169.1,362.0 L171.1,362.0 L173.1,361.9 L175.1,361.9 L177.1,361.8 L179.1,361.7 L181.1,361.7 L183.1,361.6 L185.1,361.5 L187.1,361.5 L189.1,361.4 L191.1,361.3 L193.1,361.3 L195.1,361.2 L197.1,361.1 L199.1,361.1 L201.1,361.0 L203.1,360.9 L205.1,360.9 L207.1,360.8 L209.1,360.7 L211.1,360.7 L213.1,360.6 L215.1,360.5 L217.1,360.5 L219.1,360.4 L221.1,360.3 L223.1,360.3 L225.1,360.2 L227.1,360.1 L229.1,360.0 L231.1,360.0 L233.1,359.9 L235.1,359.8 L237.1,359.7 L239.1,359.7 L241.1,359.6 L243.1,359.5 L245.1,359.4 L247.1,359.4 L249.1,359.3 L251.1,359.2 L253.1,359.1 L255.1,359.0 L257.1,359.0 L259.1,358.9 L261.1,358.8 L263.1,358.7 L265.1,358.6 L267.1,358.6 L269.1,358.5 L271.1,358.4 L273.1,358.3 L275.1,358.2 L277.1,358.1 L279.1,358.0 L281.1,357.9 L283.1,357.9 L285.1,357.8 L287.1,357.7 L289.1,357.6 L291.1,357.5 L293.1,357.4 L295.1,357.3 L297.1,357.2 L299.1,357.1 L301.1,357.0 L303.1,356.9 L305.1,356.8 L307.1,356.7 L309.1,356.6 L311.1,356.5 L313.1,356.4 L315.1,356.3 L317.1,356.2 L319.1,356.1 L321.1,356.0 L323.1,355.9 L325.2,355.8 L327.2,355.7 L329.2,355.5 L331.2,355.4 L333.2,355.3 L335.2,355.2 L337.2,355.1 L339.2,355.0 L341.2,354.8 L343.2,354.7 L345.2,354.6 L347.2,354.5 L349.2,354.4 L351.2,354.2 L353.2,354.1 L355.2,354.0 L357.2,353.8 L359.2,353.7 L361.2,353.6 L363.2,353.5 L365.2,353.3 L367.2,353.2 L369.2,353.0 L371.2,352.9 L373.2,352.8 L375.2,352.6 L377.2,352.5 L379.2,352.3 L381.2,352.2 L383.2,352.0 L385.2,351.9 L387.2,351.8 L389.2,351.6 L391.2,351.4 L393.2,351.3 L395.2,351.1 L397.2,351.0 L399.2,350.8 L401.2,350.7 L403.2,350.5" stroke="#28E2E5"/>
<path d="M83.0,365.6 L85.0,365.5 L87.0,365.5 L89.0,365.4 L91.0,365.4 L93.0,365.3 L95.0,365.3 L97.0,365.2 L99.0,365.2 L101.0,365.1 L103.0,365.1 L105.0,365.0 L107.0,365.0 L109.0,364.9 L111.0,364.9 L113.0,364.8 L115.0,364.8 L117.0,364.7 L119.0,364.7 L121.0,364.6 L123.0,364.6 L125.0,364.5 L127.0,364.5 L129.0,364.4 L131.0,364.4 L133.0,364.4 L135.0,364.3 L137.0,364.3 L139.0,364.2 L141.0,364.2 L143.0,364.1 L145.0,364.1 L147.0,364.0 L149.0,364.0 L151.0,363.9 L153.0,363.9 L155.0,363.8 L157.0,363.8 L159.0,363.7 L161.0,363.7 L163.0,363.6 L165.1,363.6 L167.1,363.5 L169.1,363.5 L171.1,363.4 L173.1,363.4 L175.1,363.3 L177.1,363.2 L179.1,363.2 L181.1,363.1 L183.1,363.1 L185.1,363.0 L187.1,363.0 L189.1,362.9 L191.1,362.9 L193.1,362.8 L195.1,362.7 L197.1,362.7 L199.1,362.6 L201.1,362.6 L203.1,362.5 L205.1,362.4 L207.1,362.4 L209.1,362.3 L211.1,362.3 L213.1,362.2 L215.1,362.1 L217.1,362.1 L219.1,362.0 L221.1,361.9 L223.1,361.9 L225.1,361.8 L227.1,361.7 L229.1,361.6 L231.1,361.6 L233.1,361.5 L235.1,361.4 L237.1,361.4 L239.1,361.3 L241.1,361.2 L243.1,361.1 L245.1,361.0 L247.1,361.0 L249.1,360.9 L251.1,360.8 L253.1,360.7 L255.1,360.6 L257.1,360.6 L259.1,360.5 L261.1,360.4 L263.1,360.3 L265.1,360.2 L267.1,360.1 L269.1,360.0 L271.1,359.9 L273.1,359.8 L275.1,359.8 L277.1,359.7 L279.1,359.6 L281.1,359.5 L283.1,359.4 L285.1,359.3 L287.1,359.2 L289.1,359.1 L291.1,359.0 L293.1,358.8 L295.1,358.7 L297.1,358.6 L299.1,358.5 L301.1,358.4 L303.1,358.3 L305.1,358.2 L307.1,358.1 L309.1,358.0 L311.1,357.8 L313.1,357.7 L315.1,357.6 L317.1,357.5 L319.1,357.3 L321.1,357.2 L323.1,357.1 L325.2,357.0 L327.2,356.8 L329.2,356.7 L331.2,356.6 L333.2,356.4 L335.2,356.3 L337.2,356.1 L339.2,356.0 L341.2,355.9 L343.2,355.7 L345.2,355.6 L347.2,355.4 L349.2,355.3 L351.2,355.1 L353.2,355.0 L355.2,354.8 L357.2,354.7 L359.2,354.5 L361.2,354.3 L363.2,354.2 L365.2,354.0 L367.2,353.8 L369.2,353.7 L371.2,353.5 L373.2,353.3 L375.2,353.2 L377.2,353.0 L379.2,352.8 L381.2,352.6 L383.2,352.4 L385.2,352.3 L387.2,352.1 L389.2,351.9 L391.2,351.7 L393.2,351.5 L395.2,351.3 L397.2,351.1 L399.2,350.9 L401.2,350.7 L403.2,350.5" stroke="#141414"/>
<path d="M83.0,370.4 L85.0,370.4 L87.0,370.3 L89.1,370.2 L91.1,370.1 L93.1,370.0 L95.1,369.9 L97.2,369.8 L99.2,369.7 L101.2,369.6 L103.2,369.5 L105.2,369.3 L107.3,369.2 L109.3,369.1 L111.3,368.9 L113.3,368.8 L115.3,368.6 L117.4,368.5 L119.4,368.3 L121.4,368.2 L123.4,368.0 L125.5,367.8 L127.5,367.6 L129.5,367.5 L131.5,367.3 L133.5,367.1 L135.6,366.9 L137.6,366.7 L139.6,366.5 L141.6,366.3 L143.7,366.1 L145.7,365.9 L147.7,365.6 L149.7,365.4 L151.7,365.2 L153.8,365.0 L155.8,364.7 L157.8,364.5 L159.8,364.3 L161.8,364.0 L163.9,363.8 L165.9,363.5 L167.9,363.3 L169.9,363.0 L172.0,362.7 L174.0,362.5 L176.0,362.2 L178.0,361.9 L180.0,361.7 L182.1,361.4 L184.1,361.1 L186.1,360.8 L188.1,360.5 L190.1,360.2 L192.2,359.9 L194.2,359.7 L196.2,359.4 L198.2,359.1 L200.3,358.8 L202.3,358.5 L204.3,358.1 L206.3,357.8 L208.3,357.5 L210.4,357.2 L212.4,356.9 L214.4,356.6 L216.4,356.2 L218.5,355.9 L220.5,355.6 L222.5,355.3 L224.5,354.9 L226.5,354.6 L228.6,354.3 L230.6,353.9 L232.6,353.6 L234.6,353.3 L236.6,352.9 L238.7,352.6 L240.7,352.2 L242.7,351.9 L244.7,351.5 L246.8,351.2 L248.8,350.9 L250.8,350.5" stroke="#61D04F"/>
<path d="M83.0,375.4 L85.0,375.3 L87.0,375.2 L89.0,375.1 L91.0,375.1 L93.0,375.0 L95.0,374.9 L97.0,374.9 L99.0,374.8 L101.0,374.7 L103.0,374.7 L105.0,374.6 L107.0,374.5 L109.0,374.5 L111.0,374.4 L113.0,374.3 L115.0,374.3 L117.0,374.2 L119.0,374.2 L121.0,374.1 L123.0,374.0 L125.1,374.0 L127.1,373.9 L129.1,373.8 L131.1,373.8 L133.1,373.7 L135.1,373.7 L137.1,373.6 L139.1,373.6 L141.1,373.5 L143.1,373.4 L145.1,373.4 L147.1,373.3 L149.1,373.3 L151.1,373.2 L153.1,373.1 L155.1,373.1 L157.1,373.0 L159.1,373.0 L161.1,372.9 L163.1,372.9 L165.1,372.8 L167.1,372.7 L169.1,372.7 L171.1,372.6 L173.1,372.6 L175.1,372.5 L177.1,372.5 L179.1,372.4 L181.1,372.4 L183.1,372.3 L185.1,372.2 L187.1,372.2 L189.1,372.1 L191.1,372.1 L193.1,372.0 L195.1,371.9 L197.1,371.9 L199.1,371.8 L201.1,371.8 L203.1,371.7 L205.1,371.7 L207.1,371.6 L209.2,371.5 L211.2,371.5 L213.2,371.4 L215.2,371.4 L217.2,371.3 L219.2,371.2 L221.2,371.2 L223.2,371.1 L225.2,371.0 L227.2,371.0 L229.2,370.9 L231.2,370.8 L233.2,370.8 L235.2,370.7 L237.2,370.7 L239.2,370.6 L241.2,370.5 L243.2,370.4 L245.2,370.4 L247.2,370.3 L249.2,370.2 L251.2,370.2 L253.2,370.1 L255.2,370.0 L257.2,370.0 L259.2,369.9 L261.2,369.8 L263.2,369.7 L265.2,369.7 L267.2,369.6 L269.2,369.5 L271.2,369.4 L273.2,369.3 L275.2,369.3 L277.2,369.2 L279.2,369.1 L281.2,369.0 L283.2,368.9 L285.2,368.9 L287.2,368.8 L289.2,368.7 L291.2,368.6 L293.3,368.5 L295.3,368.4 L297.3,368.3 L299.3,368.2 L301.3,368.1 L303.3,368.0 L305.3,367.9 L307.3,367.9 L309.3,367.8 L311.3,367.7 L313.3,367.6 L315.3,367.5 L317.3,367.4 L319.3,367.3 L321.3,367.1 L323.3,367.0 L325.3,366.9 L327.3,366.8 L329.3,366.7 L331.3,366.6 L333.3,366.5 L335.3,366.4 L337.3,366.3 L339.3,366.1 L341.3,366.0 L343.3,365.9 L345.3,365.8 L347.3,365.7 L349.3,365.5 L351.3,365.4 L353.3,365.3 L355.3,365.2 L357.3,365.0 L359.3,364.9 L361.3,364.8 L363.3,364.6 L365.3,364.5 L367.3,364.4 L369.3,364.2 L371.3,364.1 L373.3,363.9 L375.3,363.8 L377.4,363.6 L379.4,363.5 L381.4,363.3 L383.4,363.2 L385.4,363.0 L387.4,362.9 L389.4,362.7 L391.4,362.6 L393.4,362.4 L395.4,362.2 L397.4,362.1 L399.4,361.9 L401.4,361.7 L403.4,361.6 L405.4,361.4 L407.4,361.2 L409.4,361.0 L411.4,360.9 L413.4,360.7 L415.4,360.5 L417.4,360.3 L419.4,360.1 L421.4,359.9 L423.4,359.8 L425.4,359.6 L427.4,359.4 L429.4,359.2 L431.4,359.0 L433.4,358.8 L435.4,358.6 L437.4,358.4 L439.4,358.2 L441.4,357.9 L443.4,357.7 L445.4,357.5 L447.4,357.3 L449.4,357.1 L451.4,356.9 L453.4,356.6 L455.4,356.4 L457.4,356.2 L459.4,355.9 L461.5,355.7 L463.5,355.5 L465.5,355.2 L467.5,355.0 L469.5,354.8 L471.5,354.5 L473.5,354.3 L475.5,354.0 L477.5,353.8 L479.5,353.5 L481.5,353.2 L483.5,353.0 L485.5,352.7 L487.5,352.4 L489.5,352.2 L491.5,351.9 L493.5,351.6 L495.5,351.4 L497.5,351.1 L499.5,350.8 L501.5,350.5" stroke="#28E2E5"/>
<path d="M83.0,376.7 L85.0,376.7 L87.0,376.7 L89.0,376.6 L91.0,376.6 L93.0,376.5 L95.0,376.5 L97.0,376.4 L99.0,376.3 L101.0,376.3 L103.0,376.2 L105.0,376.1 L107.0,376.1 L109.0,376.0 L111.0,375.9 L113.0,375.8 L115.0,375.7 L117.0,375.6 L119.0,375.6 L121.0,375.5 L123.0,375.4 L125.0,375.3 L127.0,375.2 L129.0,375.1 L131.0,375.0 L133.0,374.9 L135.0,374.8 L137.0,374.7 L139.0,374.5 L141.0,374.4 L143.0,374.3 L145.0,374.2 L147.0,374.1 L149.0,373.9 L151.0,373.8 L153.0,373.7 L155.0,373.6 L157.0,373.4 L159.0,373.3 L161.0,373.2 L163.0,373.0 L165.1,372.9 L167.1,372.8 L169.1,372.6 L171.1,372.5 L173.1,372.3 L175.1,372.2 L177.1,372.0 L179.1,371.9 L181.1,371.7 L183.1,371.6 L185.1,371.4 L187.1,371.2 L189.1,371.1 L191.1,370.9 L193.1,370.8 L195.1,370.6 L197.1,370.4 L199.1,370.3 L201.1,370.1 L203.1,369.9 L205.1,369.8 L207.1,369.6 L209.1,369.4 L211.1,369.2 L213.1,369.1 L215.1,368.9 L217.1,368.7 L219.1,368.5 L221.1,368.3 L223.1,368.2 L225.1,368.0 L227.1,367.8 L229.1,367.6 L231.1,367.4 L233.1,367.2 L235.1,367.0 L237.1,366.9 L239.1,366.7 L241.1,366.5 L243.1,366.3 L245.1,366.1 L247.1,365.9 L249.1,365.7 L251.1,365.5 L253.1,365.3 L255.1,365.1 L257.1,364.9 L259.1,364.7 L261.1,364.5 L263.1,364.3 L265.1,364.1 L267.1,363.9 L269.1,363.7 L271.1,363.5 L273.1,363.3 L275.1,363.1 L277.1,362.9 L279.1,362.7 L281.1,362.5 L283.1,362.3 L285.1,362.1 L287.1,361.9 L289.1,361.7 L291.1,361.5 L293.1,361.3 L295.1,361.1 L297.1,360.9 L299.1,360.7 L301.1,360.5 L303.1,360.3 L305.1,360.0 L307.1,359.8 L309.1,359.6 L311.1,359.4 L313.1,359.2 L315.1,359.0 L317.1,358.8 L319.1,358.6 L321.1,358.4 L323.1,358.2 L325.2,358.0 L327.2,357.8 L329.2,357.6 L331.2,357.4 L333.2,357.2 L335.2,357.0 L337.2,356.8 L339.2,356.6 L341.2,356.4 L343.2,356.2 L345.2,356.0 L347.2,355.8 L349.2,355.6 L351.2,355.4 L353.2,355.2 L355.2,355.0 L357.2,354.8 L359.2,354.6 L361.2,354.4 L363.2,354.2 L365.2,354.0 L367.2,353.8 L369.2,353.6 L371.2,353.4 L373.2,353.2 L375.2,353.0 L377.2,352.9 L379.2,352.7 L381.2,352.5 L383.2,352.3 L385.2,352.1 L387.2,351.9 L389.2,351.7 L391.2,351.6 L393.2,351.4 L395.2,351.2 L397.2,351.0 L399.2,350.8 L401.2,350.7 L403.2,350.5" stroke="#141414"/>
<path d="M83.0,382.3 L85.0,382.3 L87.0,382.3 L89.0,382.3 L91.0,382.3 L93.0,382.3 L95.0,382.3 L97.0,382.2 L99.1,382.2 L101.1,382.2 L103.1,382.2 L105.1,382.2 L107.1,382.1 L109.1,382.1 L111.1,382.1 L113.1,382.1 L115.1,382.1 L117.1,382.0 L119.1,382.0 L121.1,382.0 L123.1,382.0 L125.1,381.9 L127.1,381.9 L129.1,381.9 L131.2,381.9 L133.2,381.8 L135.2,381.8 L137.2,381.8 L139.2,381.7 L141.2,381.7 L143.2,381.7 L145.2,381.6 L147.2,381.6 L149.2,381.6 L151.2,381.5 L153.2,381.5 L155.2,381.5 L157.2,381.4 L159.2,381.4 L161.3,381.3 L163.3,381.3 L165.3,381.3 L167.3,381.2 L169.3,381.2 L171.3,381.1 L173.3,381.1 L175.3,381.1 L177.3,381.0 L179.3,381.0 L181.3,380.9 L183.3,380.9 L185.3,380.8 L187.3,380.8 L189.3,380.7 L191.3,380.7 L193.4,380.6 L195.4,380.6 L197.4,380.5 L199.4,380.5 L201.4,380.4 L203.4,380.4 L205.4,380.3 L207.4,380.3 L209.4,380.2 L211.4,380.2 L213.4,380.1 L215.4,380.1 L217.4,380.0 L219.4,380.0 L221.4,379.9 L223.5,379.8 L225.5,379.8 L227.5,379.7 L229.5,379.7 L231.5,379.6 L233.5,379.5 L235.5,379.5 L237.5,379.4 L239.5,379.3 L241.5,379.3 L243.5,379.2 L245.5,379.1 L247.5,379.1 L249.5,379.0 L251.5,378.9 L253.5,378.9 L255.6,378.8 L257.6,378.7 L259.6,378.7 L261.6,378.6 L263.6,378.5 L265.6,378.5 L267.6,378.4 L269.6,378.3 L271.6,378.2 L273.6,378.2 L275.6,378.1 L277.6,378.0 L279.6,377.9 L281.6,377.9 L283.6,377.8 L285.7,377.7 L287.7,377.6 L289.7,377.5 L291.7,377.5 L293.7,377.4 L295.7,377.3 L297.7,377.2 L299.7,377.1 L301.7,377.0 L303.7,377.0 L305.7,376.9 L307.7,376.8 L309.7,376.7 L311.7,376.6 L313.7,376.5 L315.7,376.4 L317.8,376.3 L319.8,376.3 L321.8,376.2 L323.8,376.1 L325.8,376.0 L327.8,375.9 L329.8,375.8 L331.8,375.7 L333.8,375.6 L335.8,375.5 L337.8,375.4 L339.8,375.3 L341.8,375.2 L343.8,375.1 L345.8,375.0 L347.9,374.9 L349.9,374.8 L351.9,374.7 L353.9,374.6 L355.9,374.5 L357.9,374.4 L359.9,374.3 L361.9,374.2 L363.9,374.1 L365.9,374.0 L367.9,373.9 L369.9,373.8 L371.9,373.7 L373.9,373.6 L375.9,373.5 L378.0,373.4 L380.0,373.3 L382.0,373.1 L384.0,373.0 L386.0,372.9 L388.0,372.8 L390.0,372.7 L392.0,372.6 L394.0,372.5 L396.0,372.4 L398.0,372.2 L400.0,372.1 L402.0,372.0 L404.0,371.9 L406.0,371.8 L408.0,371.7 L410.1,371.5 L412.1,371.4 L414.1,371.3 L416.1,371.2 L418.1,371.1 L420.1,370.9 L422.1,370.8 L424.1,370.7 L426.1,370.6 L428.1,370.4 L430.1,370.3 L432.1,370.2 L434.1,370.1 L436.1,369.9 L438.1,369.8 L440.2,369.7 L442.2,369.5 L444.2,369.4 L446.2,369.3 L448.2,369.2 L450.2,369.0 L452.2,368.9 L454.2,368.8 L456.2,368.6 L458.2,368.5 L460.2,368.4 L462.2,368.2 L464.2,368.1 L466.2,368.0 L468.2,367.8 L470.2,367.7 L472.3,367.5 L474.3,367.4 L476.3,367.3 L478.3,367.1 L480.3,367.0 L482.3,366.8 L484.3,366.7 L486.3,366.5 L488.3,366.4 L490.3,366.3 L492.3,366.1 L494.3,366.0 L496.3,365.8 L498.3,365.7 L500.3,365.5 L502.4,365.4 L504.4,365.2 L506.4,365.1 L508.4,364.9 L510.4,364.8 L512.4,364.6 L514.4,364.5 L516.4,364.3 L518.4,364.2 L520.4,364.0 L522.4,363.9 L524.4,363.7 L526.4,363.6 L528.4,363.4 L530.4,363.2 L532.4,363.1 L534.5,362.9 L536.5,362.8 L538.5,362.6 L540.5,362.4 L542.5,362.3 L544.5,362.1 L546.5,362.0 L548.5,361.8 L550.5,361.6 L552.5,361.5 L554.5,361.3 L556.5,361.1 L558.5,361.0 L560.5,360.8 L562.5,360.6 L564.6,360.5 L566.6,360.3 L568.6,360.1 L570.6,360.0 L572.6,359.8 L574.6,359.6 L576.6,359.5 L578.6,359.3 L580.6,359.1 L582.6,358.9 L584.6,358.8 L586.6,358.6 L588.6,358.4 L590.6,358.2 L592.6,358.1 L594.6,357.9 L596.7,357.7 L598.7,357.5 L600.7,357.4 L602.7,357.2 L604.7,357.0 L606.7,356.8 L608.7,356.6 L610.7,356.4 L612.7,356.3 L614.7,356.1 L616.7,355.9 L618.7,355.7 L620.7,355.5 L622.7,355.3 L624.7,355.2 L626.8,355.0 L628.8,354.8 L630.8,354.6 L632.8,354.4 L634.8,354.2 L636.8,354.0 L638.8,353.8 L640.8,353.6 L642.8,353.5 L644.8,353.3 L646.8,353.1 L648.8,352.9 L650.8,352.7 L652.8,352.5 L654.8,352.3 L656.8,352.1 L658.9,351.9 L660.9,351.7 L662.9,351.5 L664.9,351.3 L666.9,351.1 L668.9,350.9 L670.9,350.7 L672.9,350.5" stroke="#CD0BBC"/>
<path d="M83.0,389.3 L85.0,389.3 L87.0,389.2 L89.0,389.2 L91.0,389.1 L93.0,389.1 L95.0,389.0 L97.0,389.0 L99.0,388.9 L101.0,388.8 L103.0,388.8 L105.0,388.7 L107.0,388.6 L109.0,388.6 L111.0,388.5 L113.0,388.4 L115.0,388.4 L117.0,388.3 L119.0,388.2 L121.0,388.2 L123.0,388.1 L125.0,388.0 L127.0,387.9 L129.0,387.9 L131.0,387.8 L133.0,387.7 L135.0,387.6 L137.0,387.5 L139.0,387.5 L141.0,387.4 L143.0,387.3 L145.0,387.2 L147.0,387.1 L149.0,387.0 L151.0,386.9 L153.0,386.8 L155.0,386.7 L157.0,386.6 L159.0,386.5 L161.0,386.4 L163.0,386.3 L165.0,386.2 L167.0,386.1 L169.0,386.0 L171.0,385.9 L173.0,385.8 L175.0,385.7 L177.0,385.6 L179.0,385.5 L181.0,385.4 L183.0,385.3 L185.0,385.1 L187.0,385.0 L189.0,384.9 L191.0,384.8 L193.0,384.7 L195.0,384.5 L197.0,384.4 L199.0,384.3 L201.1,384.2 L203.1,384.0 L205.1,383.9 L207.1,383.8 L209.1,383.6 L211.1,383.5 L213.1,383.4 L215.1,383.2 L217.1,383.1 L219.1,382.9 L221.1,382.8 L223.1,382.6 L225.1,382.5 L227.1,382.3 L229.1,382.2 L231.1,382.0 L233.1,381.9 L235.1,381.7 L237.1,381.6 L239.1,381.4 L241.1,381.2 L243.1,381.1 L245.1,380.9 L247.1,380.7 L249.1,380.6 L251.1,380.4 L253.1,380.2 L255.1,380.0 L257.1,379.9 L259.1,379.7 L261.1,379.5 L263.1,379.3 L265.1,379.1 L267.1,378.9 L269.1,378.7 L271.1,378.6 L273.1,378.4 L275.1,378.2 L277.1,378.0 L279.1,377.8 L281.1,377.6 L283.1,377.4 L285.1,377.1 L287.1,376.9 L289.1,376.7 L291.1,376.5 L293.1,376.3 L295.1,376.1 L297.1,375.9 L299.1,375.6 L301.1,375.4 L303.1,375.2 L305.1,375.0 L307.1,374.7 L309.1,374.5 L311.1,374.3 L313.1,374.0 L315.1,373.8 L317.1,373.6 L319.1,373.3 L321.1,373.1 L323.1,372.8 L325.1,372.6 L327.1,372.4 L329.1,372.1 L331.1,371.9 L333.1,371.6 L335.1,371.3 L337.1,371.1 L339.1,370.8 L341.1,370.6 L343.1,370.3 L345.1,370.1 L347.1,369.8 L349.1,369.5 L351.1,369.3 L353.1,369.0 L355.1,368.7 L357.1,368.4 L359.1,368.2 L361.1,367.9 L363.1,367.6 L365.1,367.3 L367.1,367.1 L369.1,366.8 L371.1,366.5 L373.1,366.2 L375.1,365.9 L377.1,365.7 L379.1,365.4 L381.1,365.1 L383.1,364.8 L385.1,364.5 L387.1,364.2 L389.1,363.9 L391.1,363.6 L393.1,363.3 L395.1,363.1 L397.1,362.8 L399.1,362.5 L401.1,362.2 L403.1,361.9 L405.1,361.6 L407.1,361.3 L409.1,361.0 L411.1,360.7 L413.1,360.4 L415.1,360.1 L417.1,359.8 L419.1,359.5 L421.1,359.1 L423.1,358.8 L425.1,358.5 L427.1,358.2 L429.1,357.9 L431.1,357.6 L433.2,357.3 L435.2,357.0 L437.2,356.7 L439.2,356.4 L441.2,356.1 L443.2,355.7 L445.2,355.4 L447.2,355.1 L449.2,354.8 L451.2,354.5 L453.2,354.1 L455.2,353.8 L457.2,353.5 L459.2,353.2 L461.2,352.8 L463.2,352.5 L465.2,352.1 L467.2,351.8 L469.2,351.5 L471.2,351.1 L473.2,350.8 L475.2,350.4 L477.2,350.0 L479.2,349.7 L481.2,349.3 L483.2,348.9 L485.2,348.5 L487.2,348.1 L489.2,347.7 L491.2,347.3 L493.2,346.9 L495.2,346.5 L497.2,346.1 L499.2,345.7 L501.2,345.2 L503.2,344.8 L505.2,344.4 L507.2,343.9 L509.2,343.4 L511.2,343.0 L513.2,342.5 L515.2,342.0 L517.2,341.5 L519.2,341.0 L521.2,340.5 L523.2,340.0 L525.2,339.4 L527.2,338.9 L529.2,338.3 L531.2,337.8 L533.2,337.2 L535.2,336.6 L537.2,336.0 L539.2,335.4 L541.2,334.8 L543.2,334.1 L545.2,333.5 L547.2,332.8 L549.2,332.2 L551.2,332.0 L553.2,331.9 L555.2,331.8 L557.2,331.7 L559.2,331.6 L561.2,331.5 L563.2,331.3 L565.3,331.2 L567.3,331.1 L569.3,331.0 L571.3,330.9 L573.3,330.8 L575.3,330.7 L577.3,330.6 L579.3,330.5 L581.3,330.4 L583.3,330.3 L585.3,330.2 L587.3,330.1 L589.3,330.0 L591.3,329.9 L593.3,329.8 L595.3,329.7 L597.4,329.6 L599.4,329.6 L601.4,329.5 L603.4,329.4 L605.4,329.3 L607.4,329.2 L609.4,329.2 L611.4,329.1 L613.4,329.0 L615.4,329.0 L617.4,328.9 L619.4,328.8 L621.4,328.7 L623.4,328.7 L625.4,328.6 L627.5,328.5 L629.5,328.4 L631.5,328.4 L633.5,328.3 L635.5,328.2 L637.5,328.1 L639.5,328.0 L641.5,327.9 L643.5,327.8 L645.5,327.7 L647.5,327.6 L649.5,327.4 L651.5,327.3 L653.5,327.2 L655.5,327.0 L657.5,326.9 L659.6,326.7 L661.6,326.6 L663.6,326.4 L665.6,326.2 L667.6,326.1 L669.6,325.9 L671.6,325.7 L673.6,325.6 L675.6,326.1 L677.7,326.7 L679.7,327.3 L681.7,328.0 L683.8,328.7 L685.8,329.3 L687.8,330.0 L689.8,330.7 L691.9,331.4 L693.9,332.1 L695.9,332.9 L698.0,333.6 L700.0,334.3 L702.0,335.0 L704.1,335.7 L706.1,336.3 L708.1,337.0 L710.2,337.7 L712.2,338.3 L714.2,338.9 L716.2,339.5 L718.3,340.2 L720.3,340.8 L722.3,341.4 L724.4,342.0 L726.4,342.7 L728.4,343.3 L730.5,344.0 L732.5,344.7 L734.5,345.4 L736.5,346.1 L738.6,346.9 L740.6,347.7 L742.6,348.6 L744.7,349.5 L746.7,350.5" stroke="#DF536B"/>
<path d="M83.0,392.0 L85.0,391.9 L87.0,391.9 L89.0,391.9 L91.0,391.8 L93.0,391.8 L95.0,391.8 L97.0,391.7 L99.0,391.7 L101.0,391.7 L103.0,391.6 L105.0,391.6 L107.0,391.6 L109.0,391.5 L111.0,391.5 L113.0,391.5 L115.0,391.4 L117.0,391.4 L119.0,391.4 L121.0,391.4 L123.0,391.3 L125.0,391.3 L127.0,391.3 L129.0,391.2 L131.0,391.2 L133.0,391.2 L135.0,391.1 L137.0,391.1 L139.0,391.1 L141.0,391.0 L143.0,391.0 L145.0,391.0 L147.0,390.9 L149.0,390.9 L151.0,390.9 L153.0,390.8 L155.0,390.8 L157.0,390.8 L159.0,390.7 L161.0,390.7 L163.0,390.7 L165.0,390.6 L167.0,390.6 L169.0,390.6 L171.0,390.5 L173.0,390.5 L175.0,390.5 L177.0,390.4 L179.0,390.4 L181.0,390.3 L183.0,390.3 L185.0,390.3 L187.0,390.2 L189.0,390.2 L191.0,390.2 L193.0,390.1 L195.0,390.1 L197.0,390.1 L199.0,390.0 L201.0,390.0 L203.0,390.0 L205.0,389.9 L207.0,389.9 L209.0,389.8 L211.0,389.8 L213.0,389.8 L215.0,389.7 L217.1,389.7 L219.1,389.7 L221.1,389.6 L223.1,389.6 L225.1,389.5 L227.1,389.5 L229.1,389.5 L231.1,389.4 L233.1,389.4 L235.1,389.3 L237.1,389.3 L239.1,389.3 L241.1,389.2 L243.1,389.2 L245.1,389.2 L247.1,389.1 L249.1,389.1 L251.1,389.0 L253.1,389.0 L255.1,388.9 L257.1,388.9 L259.1,388.9 L261.1,388.8 L263.1,388.8 L265.1,388.7 L267.1,388.7 L269.1,388.7 L271.1,388.6 L273.1,388.6 L275.1,388.5 L277.1,388.5 L279.1,388.4 L281.1,388.4 L283.1,388.4 L285.1,388.3 L287.1,388.3 L289.1,388.2 L291.1,388.2 L293.1,388.1 L295.1,388.1 L297.1,388.0 L299.1,388.0 L301.1,388.0 L303.1,387.9 L305.1,387.9 L307.1,387.8 L309.1,387.8 L311.1,387.7 L313.1,387.7 L315.1,387.6 L317.1,387.6 L319.1,387.5 L321.1,387.5 L323.1,387.4 L325.1,387.4 L327.1,387.3 L329.1,387.3 L331.1,387.2 L333.1,387.2 L335.1,387.1 L337.1,387.1 L339.1,387.0 L341.1,387.0 L343.1,386.9 L345.1,386.9 L347.1,386.8 L349.1,386.8 L351.1,386.7 L353.1,386.7 L355.1,386.6 L357.1,386.6 L359.1,386.5 L361.1,386.5 L363.1,386.4 L365.1,386.4 L367.1,386.3 L369.1,386.2 L371.1,386.2 L373.1,386.1 L375.1,386.1 L377.1,386.0 L379.1,386.0 L381.1,385.9 L383.1,385.9 L385.1,385.8 L387.1,385.7 L389.1,385.7 L391.1,385.6 L393.1,385.6 L395.1,385.5 L397.1,385.4 L399.1,385.4 L401.1,385.3 L403.1,385.3 L405.1,385.2 L407.1,385.1 L409.1,385.1 L411.1,385.0 L413.1,385.0 L415.1,384.9 L417.1,384.8 L419.1,384.8 L421.1,384.7 L423.1,384.6 L425.1,384.6 L427.1,384.5 L429.1,384.5 L431.1,384.4 L433.1,384.3 L435.1,384.3 L437.1,384.2 L439.1,384.1 L441.1,384.1 L443.1,384.0 L445.1,383.9 L447.1,383.9 L449.1,383.8 L451.1,383.7 L453.1,383.7 L455.1,383.6 L457.1,383.5 L459.1,383.4 L461.1,383.4 L463.1,383.3 L465.1,383.2 L467.1,383.2 L469.1,383.1 L471.1,383.0 L473.1,382.9 L475.1,382.9 L477.1,382.8 L479.1,382.7 L481.2,382.6 L483.2,382.6 L485.2,382.5 L487.2,382.4 L489.2,382.3 L491.2,382.3 L493.2,382.2 L495.2,382.1 L497.2,382.0 L499.2,382.0 L501.2,381.9 L503.2,381.8 L505.2,381.7 L507.2,381.6 L509.2,381.6 L511.2,381.5 L513.2,381.4 L515.2,381.3 L517.2,381.2 L519.2,381.2 L521.2,381.1 L523.2,381.0 L525.2,380.9 L527.2,380.8 L529.2,380.7 L531.2,380.7 L533.2,380.6 L535.2,380.5 L537.2,380.4 L539.2,380.3 L541.2,380.2 L543.2,380.1 L545.2,380.1 L547.2,380.0 L549.2,379.9 L551.2,379.8 L553.2,379.7 L555.2,379.6 L557.2,379.5 L559.2,379.4 L561.2,379.3 L563.2,379.2 L565.2,379.2 L567.2,379.1 L569.2,379.0 L571.2,378.9 L573.2,378.8 L575.2,378.7 L577.2,378.6 L579.2,378.5 L581.2,378.4 L583.2,378.3 L585.2,378.2 L587.2,378.1 L589.2,378.0 L591.2,377.9 L593.2,377.8 L595.2,377.7 L597.2,377.6 L599.2,377.5 L601.2,377.4 L603.2,377.3 L605.2,377.2 L607.2,377.1 L609.2,376.9 L611.2,376.8 L613.2,376.7 L615.2,376.6 L617.2,376.5 L619.2,376.4 L621.2,376.3 L623.2,376.2 L625.2,376.1 L627.2,375.9 L629.2,375.8 L631.2,375.7 L633.2,375.6 L635.2,375.5 L637.2,375.3 L639.2,375.2 L641.2,375.1 L643.2,375.0 L645.2,374.9 L647.2,374.7 L649.2,374.6 L651.2,374.5 L653.2,374.4 L655.2,374.2 L657.2,374.1 L659.2,374.0 L661.2,373.8 L663.2,373.7 L665.2,373.6 L667.2,373.4 L669.2,373.3 L671.2,373.1 L673.2,373.0 L675.2,372.9 L677.2,372.7 L679.2,372.6 L681.2,372.4 L683.2,372.3 L685.2,372.1 L687.2,372.0 L689.2,371.8 L691.2,371.7 L693.2,371.5 L695.2,371.4 L697.2,371.2 L699.2,371.1 L701.2,370.9 L703.2,370.8 L705.2,370.6 L707.2,370.4 L709.2,370.3 L711.2,370.1 L713.2,370.0 L715.2,369.8 L717.2,369.6 L719.2,369.4 L721.2,369.3 L723.2,369.1 L725.2,368.9 L727.2,368.8 L729.2,368.6 L731.2,368.4 L733.2,368.2 L735.2,368.0 L737.2,367.9 L739.2,367.7 L741.2,367.5 L743.2,367.3 L745.3,367.1 L747.3,366.9 L749.3,366.7 L751.3,366.5 L753.3,366.3 L755.3,366.1 L757.3,365.9 L759.3,365.7 L761.3,365.5 L763.3,365.3 L765.3,365.1 L767.3,364.9 L769.3,364.7 L771.3,364.5 L773.3,364.3 L775.3,364.1 L777.3,363.8 L779.3,363.6 L781.3,363.4 L783.3,363.2 L785.3,363.0 L787.3,362.7 L789.3,362.5 L791.3,362.3 L793.3,362.0 L795.3,361.8 L797.3,361.6 L799.3,361.3 L801.3,361.1 L803.3,360.9 L805.3,360.6 L807.3,360.4 L809.3,360.1 L811.3,359.9 L813.3,359.6 L815.3,359.4 L817.3,359.1 L819.3,358.9 L821.3,358.6 L823.3,358.3 L825.3,358.1 L827.3,357.8 L829.3,357.6 L831.3,357.3 L833.3,357.0 L835.3,356.7 L837.3,356.5 L839.3,356.2 L841.3,355.9 L843.3,355.6 L845.3,355.3 L847.3,355.1 L849.3,354.8 L851.3,354.5 L853.3,354.2 L855.3,353.9 L857.3,353.6 L859.3,353.3 L861.3,353.0 L863.3,352.7 L865.3,352.4 L867.3,352.1 L869.3,351.8 L871.3,351.5 L873.3,351.1 L875.3,350.8 L877.3,350.5" stroke="#DF536B"/>
<path d="M82.9,401.0 L84.9,400.8 L86.9,400.7 L88.9,400.6 L90.9,400.5 L92.9,400.4 L95.0,400.3 L97.0,400.2 L99.0,400.1 L101.0,400.0 L103.0,399.9 L105.0,399.8 L107.0,399.7 L109.0,399.6 L111.0,399.5 L113.0,399.3 L115.0,399.2 L117.0,399.1 L119.1,399.0 L121.1,398.9 L123.1,398.8 L125.1,398.7 L127.1,398.6 L129.1,398.5 L131.1,398.4 L133.1,398.2 L135.1,398.1 L137.1,398.0 L139.1,397.9 L141.2,397.8 L143.2,397.7 L145.2,397.6 L147.2,397.4 L149.2,397.3 L151.2,397.2 L153.2,397.1 L155.2,397.0 L157.2,396.8 L159.2,396.7 L161.2,396.6 L163.2,396.5 L165.3,396.4 L167.3,396.2 L169.3,396.1 L171.3,396.0 L173.3,395.9 L175.3,395.7 L177.3,395.6 L179.3,395.5 L181.3,395.3 L183.3,395.2 L185.3,395.1 L187.4,395.0 L189.4,394.8 L191.4,394.7 L193.4,394.5 L195.4,394.4 L197.4,394.3 L199.4,394.1 L201.4,394.0 L203.4,393.9 L205.4,393.7 L207.4,393.6 L209.5,393.4 L211.5,393.3 L213.5,393.1 L215.5,393.0 L217.5,392.8 L219.5,392.7 L221.5,392.5 L223.5,392.4 L225.5,392.2 L227.5,392.1 L229.5,391.9 L231.5,391.7 L233.6,391.6 L235.6,391.4 L237.6,391.3 L239.6,391.1 L241.6,390.9 L243.6,390.8 L245.6,390.6 L247.6,390.4 L249.6,390.2 L251.6,390.1 L253.6,389.9 L255.7,389.7 L257.7,389.5 L259.7,389.3 L261.7,389.2 L263.7,389.0 L265.7,388.8 L267.7,388.6 L269.7,388.4 L271.7,388.2 L273.7,388.0 L275.7,387.8 L277.7,387.6 L279.8,387.4 L281.8,387.2 L283.8,387.0 L285.8,386.8 L287.8,386.6 L289.8,386.4 L291.8,386.2 L293.8,386.0 L295.8,385.8 L297.8,385.5 L299.8,385.3 L301.9,385.1 L303.9,384.9 L305.9,384.7 L307.9,384.4 L309.9,384.2 L311.9,384.0 L313.9,383.7 L315.9,383.5 L317.9,383.2 L319.9,383.0 L321.9,382.8 L323.9,382.5 L326.0,382.3 L328.0,382.0 L330.0,381.8 L332.0,381.5 L334.0,381.2 L336.0,381.0 L338.0,380.7 L340.0,380.5 L342.0,380.2 L344.0,379.9 L346.0,379.6 L348.1,379.4 L350.1,379.1 L352.1,378.8 L354.1,378.5 L356.1,378.2 L358.1,378.0 L360.1,377.7 L362.1,377.4 L364.1,377.1 L366.1,376.8 L368.1,376.5 L370.1,376.2 L372.2,375.9 L374.2,375.5 L376.2,375.2 L378.2,374.9 L380.2,374.6 L382.2,374.3 L384.2,373.9 L386.2,373.6 L388.2,373.3 L390.2,373.0 L392.2,372.6 L394.3,372.3 L396.3,371.9 L398.3,371.6 L400.3,371.2 L402.3,370.9 L404.3,370.5 L406.3,370.2 L408.3,369.8 L410.3,369.4 L412.3,369.1 L414.3,368.7 L416.4,368.3 L418.4,368.0 L420.4,367.6 L422.4,367.2 L424.4,366.8 L426.4,366.4 L428.4,366.0 L430.4,365.6 L432.4,365.2 L434.4,364.8 L436.4,364.4 L438.4,364.0 L440.5,363.6 L442.5,363.2 L444.5,362.7 L446.5,362.3 L448.5,361.9 L450.5,361.5 L452.5,361.0 L454.5,360.6 L456.5,360.1 L458.5,359.7 L460.5,359.2 L462.6,358.8 L464.6,358.3 L466.6,357.9 L468.6,357.4 L470.6,356.9 L472.6,356.5 L474.6,356.0 L476.6,355.5 L478.6,355.0 L480.6,354.5 L482.6,354.0 L484.6,353.6 L486.7,353.1 L488.7,352.6 L490.7,352.0 L492.7,351.5 L494.7,351.0 L496.7,350.5" stroke="#28E2E5"/>
<path d="M82.9,412.7 L84.9,412.7 L86.9,412.7 L88.9,412.6 L90.9,412.6 L92.9,412.5 L94.9,412.5 L97.0,412.5 L99.0,412.4 L101.0,412.4 L103.0,412.3 L105.0,412.3 L107.0,412.2 L109.0,412.2 L111.0,412.1 L113.0,412.0 L115.0,412.0 L117.0,411.9 L119.0,411.9 L121.1,411.8 L123.1,411.7 L125.1,411.7 L127.1,411.6 L129.1,411.5 L131.1,411.5 L133.1,411.4 L135.1,411.3 L137.1,411.3 L139.1,411.2 L141.1,411.1 L143.1,411.0 L145.2,411.0 L147.2,410.9 L149.2,410.8 L151.2,410.7 L153.2,410.6 L155.2,410.5 L157.2,410.4 L159.2,410.4 L161.2,410.3 L163.2,410.2 L165.2,410.1 L167.2,410.0 L169.3,409.9 L171.3,409.8 L173.3,409.7 L175.3,409.6 L177.3,409.5 L179.3,409.4 L181.3,409.2 L183.3,409.1 L185.3,409.0 L187.3,408.9 L189.3,408.8 L191.3,408.7 L193.4,408.5 L195.4,408.4 L197.4,408.3 L199.4,408.2 L201.4,408.0 L203.4,407.9 L205.4,407.8 L207.4,407.6 L209.4,407.5 L211.4,407.4 L213.4,407.2 L215.4,407.1 L217.5,406.9 L219.5,406.8 L221.5,406.6 L223.5,406.5 L225.5,406.3 L227.5,406.2 L229.5,406.0 L231.5,405.9 L233.5,405.7 L235.5,405.5 L237.5,405.4 L239.5,405.2 L241.6,405.0 L243.6,404.9 L245.6,404.7 L247.6,404.5 L249.6,404.3 L251.6,404.1 L253.6,404.0 L255.6,403.8 L257.6,403.6 L259.6,403.4 L261.6,403.2 L263.6,403.0 L265.7,402.8 L267.7,402.6 L269.7,402.4 L271.7,402.2 L273.7,402.0 L275.7,401.8 L277.7,401.5 L279.7,401.3 L281.7,401.1 L283.7,400.9 L285.7,400.7 L287.7,400.4 L289.8,400.2 L291.8,400.0 L293.8,399.7 L295.8,399.5 L297.8,399.2 L299.8,399.0 L301.8,398.8 L303.8,398.5 L305.8,398.3 L307.8,398.0 L309.8,397.7 L311.8,397.5 L313.8,397.2 L315.9,397.0 L317.9,396.7 L319.9,396.4 L321.9,396.1 L323.9,395.9 L325.9,395.6 L327.9,395.3 L329.9,395.0 L331.9,394.7 L333.9,394.4 L335.9,394.1 L337.9,393.8 L340.0,393.5 L342.0,393.2 L344.0,392.9 L346.0,392.6 L348.0,392.3 L350.0,392.0 L352.0,391.7 L354.0,391.3 L356.0,391.0 L358.0,390.7 L360.0,390.4 L362.0,390.0 L364.1,389.7 L366.1,389.3 L368.1,389.0 L370.1,388.7 L372.1,388.3 L374.1,388.0 L376.1,387.6 L378.1,387.2 L380.1,386.9 L382.1,386.5 L384.1,386.1 L386.1,385.8 L388.2,385.4 L390.2,385.0 L392.2,384.6 L394.2,384.2 L396.2,383.8 L398.2,383.4 L400.2,383.0 L402.2,382.6 L404.2,382.2 L406.2,381.8 L408.2,381.4 L410.2,381.0 L412.3,380.6 L414.3,380.2 L416.3,379.7 L418.3,379.3 L420.3,378.9 L422.3,378.4 L424.3,378.0 L426.3,377.5 L428.3,377.1 L430.3,376.6 L432.3,376.2 L434.3,375.7 L436.4,375.2 L438.4,374.8 L440.4,374.3 L442.4,373.8 L444.4,373.3 L446.4,372.8 L448.4,372.3 L450.4,371.8 L452.4,371.3 L454.4,370.8 L456.4,370.3 L458.4,369.8 L460.5,369.3 L462.5,368.7 L464.5,368.2 L466.5,367.7 L468.5,367.1 L470.5,366.6 L472.5,366.0 L474.5,365.5 L476.5,364.9 L478.5,364.3 L480.5,363.7 L482.5,363.2 L484.6,362.6 L486.6,362.0 L488.6,361.4 L490.6,360.8 L492.6,360.2 L494.6,359.6 L496.6,358.9 L498.6,358.3 L500.6,357.7 L502.6,357.0 L504.6,356.3 L506.6,355.6 L508.7,355.0 L510.7,354.2 L512.7,353.5 L514.7,352.8 L516.7,352.0 L518.7,351.3 L520.7,350.5" stroke="#2297E6"/>
<path d="M82.9,416.4 L84.9,416.2 L86.9,416.1 L88.9,416.0 L90.9,415.8 L92.9,415.7 L94.9,415.6 L96.9,415.5 L98.9,415.3 L100.9,415.2 L102.9,415.1 L104.9,415.0 L106.9,414.9 L108.9,414.7 L110.9,414.6 L112.9,414.5 L114.9,414.4 L116.9,414.3 L119.0,414.2 L121.0,414.0 L123.0,413.9 L125.0,413.8 L127.0,413.7 L129.0,413.6 L131.0,413.5 L133.0,413.4 L135.0,413.2 L137.0,413.1 L139.0,413.0 L141.0,412.9 L143.0,412.8 L145.0,412.7 L147.0,412.6 L149.0,412.5 L151.0,412.3 L153.0,412.2 L155.0,412.1 L157.0,412.0 L159.0,411.9 L161.0,411.8 L163.0,411.7 L165.0,411.5 L167.0,411.4 L169.0,411.3 L171.0,411.2 L173.0,411.1 L175.0,411.0 L177.0,410.8 L179.0,410.7 L181.0,410.6 L183.0,410.5 L185.0,410.4 L187.0,410.2 L189.1,410.1 L191.1,410.0 L193.1,409.9 L195.1,409.7 L197.1,409.6 L199.1,409.5 L201.1,409.3 L203.1,409.2 L205.1,409.1 L207.1,408.9 L209.1,408.8 L211.1,408.7 L213.1,408.5 L215.1,408.4 L217.1,408.2 L219.1,408.1 L221.1,408.0 L223.1,407.8 L225.1,407.7 L227.1,407.5 L229.1,407.4 L231.1,407.2 L233.1,407.0 L235.1,406.9 L237.1,406.7 L239.1,406.6 L241.1,406.4 L243.1,406.2 L245.1,406.1 L247.1,405.9 L249.1,405.7 L251.1,405.5 L253.1,405.4 L255.1,405.2 L257.1,405.0 L259.2,404.8 L261.2,404.6 L263.2,404.4 L265.2,404.2 L267.2,404.0 L269.2,403.8 L271.2,403.6 L273.2,403.4 L275.2,403.2 L277.2,403.0 L279.2,402.8 L281.2,402.6 L283.2,402.4 L285.2,402.1 L287.2,401.9 L289.2,401.7 L291.2,401.5 L293.2,401.2 L295.2,401.0 L297.2,400.7 L299.2,400.5 L301.2,400.2 L303.2,400.0 L305.2,399.7 L307.2,399.5 L309.2,399.2 L311.2,398.9 L313.2,398.7 L315.2,398.4 L317.2,398.1 L319.2,397.8 L321.2,397.6 L323.2,397.3 L325.2,397.0 L327.3,396.7 L329.3,396.4 L331.3,396.1 L333.3,395.8 L335.3,395.4 L337.3,395.1 L339.3,394.8 L341.3,394.5 L343.3,394.1 L345.3,393.8 L347.3,393.5 L349.3,393.1 L351.3,392.8 L353.3,392.4 L355.3,392.1 L357.3,391.7 L359.3,391.3 L361.3,391.0 L363.3,390.6 L365.3,390.2 L367.3,389.8 L369.3,389.4 L371.3,389.0 L373.3,388.6 L375.3,388.2 L377.3,387.8 L379.3,387.4 L381.3,387.0 L383.3,386.5 L385.3,386.1 L387.3,385.7 L389.3,385.2 L391.3,384.8 L393.3,384.3 L395.3,383.9 L397.4,383.4 L399.4,382.9 L401.4,382.4 L403.4,382.0 L405.4,381.5 L407.4,381.0 L409.4,380.5 L411.4,380.0 L413.4,379.5 L415.4,378.9 L417.4,378.4 L419.4,377.9 L421.4,377.4 L423.4,376.8 L425.4,376.3 L427.4,375.7 L429.4,375.2 L431.4,374.6 L433.4,374.0 L435.4,373.4 L437.4,372.9 L439.4,372.3 L441.4,371.7 L443.4,371.1 L445.4,370.5 L447.4,369.8 L449.4,369.2 L451.4,368.6 L453.4,367.9 L455.4,367.3 L457.4,366.6 L459.4,366.0 L461.4,365.3 L463.4,364.7 L465.4,364.0 L467.5,363.3 L469.5,362.6 L471.5,361.9 L473.5,361.2 L475.5,360.5 L477.5,359.7 L479.5,359.0 L481.5,358.3 L483.5,357.5 L485.5,356.8 L487.5,356.0 L489.5,355.3 L491.5,354.5 L493.5,353.7 L495.5,352.9 L497.5,352.1 L499.5,351.3 L501.5,350.5" stroke="#61D04F"/>
<path d="M82.9,424.7 L84.9,424.5 L86.9,424.4 L88.9,424.3 L90.9,424.2 L92.9,424.1 L94.9,424.0 L96.9,423.9 L98.9,423.9 L101.0,423.8 L103.0,423.7 L105.0,423.6 L107.0,423.5 L109.0,423.4 L111.0,423.4 L113.0,423.3 L115.0,423.2 L117.0,423.1 L119.0,423.1 L121.0,423.0 L123.0,422.9 L125.0,422.8 L127.0,422.8 L129.0,422.7 L131.0,422.6 L133.0,422.6 L135.1,422.5 L137.1,422.4 L139.1,422.4 L141.1,422.3 L143.1,422.2 L145.1,422.2 L147.1,422.1 L149.1,422.1 L151.1,422.0 L153.1,421.9 L155.1,421.9 L157.1,421.8 L159.1,421.7 L161.1,421.6 L163.1,421.6 L165.1,421.5 L167.1,421.4 L169.1,421.4 L171.2,421.3 L173.2,421.2 L175.2,421.1 L177.2,421.1 L179.2,421.0 L181.2,420.9 L183.2,420.8 L185.2,420.7 L187.2,420.6 L189.2,420.5 L191.2,420.4 L193.2,420.3 L195.2,420.2 L197.2,420.1 L199.2,420.0 L201.2,419.9 L203.2,419.8 L205.3,419.7 L207.3,419.6 L209.3,419.5 L211.3,419.3 L213.3,419.2 L215.3,419.1 L217.3,418.9 L219.3,418.8 L221.3,418.6 L223.3,418.5 L225.3,418.3 L227.3,418.2 L229.3,418.0 L231.3,417.9 L233.3,417.7 L235.3,417.5 L237.3,417.3 L239.4,417.2 L241.4,417.0 L243.4,416.8 L245.4,416.6 L247.4,416.4 L249.4,416.1 L251.4,415.9 L253.4,415.7 L255.4,415.5 L257.4,415.2 L259.4,415.0 L261.4,414.8 L263.4,414.5 L265.4,414.2 L267.4,414.0 L269.4,413.7 L271.4,413.4 L273.5,413.1 L275.5,412.9 L277.5,412.6 L279.5,412.2 L281.5,411.9 L283.5,411.6 L285.5,411.3 L287.5,410.9 L289.5,410.6 L291.5,410.3 L293.5,409.9 L295.5,409.5 L297.5,409.2 L299.5,408.8 L301.5,408.4 L303.5,408.0 L305.5,407.6 L307.6,407.2 L309.6,406.8 L311.6,406.4 L313.6,406.0 L315.6,405.5 L317.6,405.1 L319.6,404.7 L321.6,404.2 L323.6,403.8 L325.6,403.3 L327.6,402.9 L329.6,402.5 L331.6,402.0 L333.6,401.5 L335.6,401.1 L337.6,400.6 L339.6,400.2 L341.6,399.7 L343.7,399.3 L345.7,398.8 L347.7,398.3 L349.7,397.9 L351.7,397.4 L353.7,396.9 L355.7,396.5 L357.7,396.0 L359.7,395.6 L361.7,395.1 L363.7,394.6 L365.7,394.2 L367.7,393.7 L369.7,393.3 L371.7,392.8 L373.7,392.4 L375.7,392.0 L377.8,391.5 L379.8,391.1 L381.8,390.7 L383.8,390.2 L385.8,389.8 L387.8,389.4 L389.8,389.0 L391.8,388.6 L393.8,388.2 L395.8,387.8 L397.8,387.4 L399.8,387.0 L401.8,386.6 L403.8,386.2 L405.8,385.9 L407.8,385.5 L409.8,385.1 L411.9,384.7 L413.9,384.4 L415.9,384.0 L417.9,383.7 L419.9,383.3 L421.9,382.9 L423.9,382.6 L425.9,382.2 L427.9,381.9 L429.9,381.5 L431.9,381.2 L433.9,380.8 L435.9,380.5 L437.9,380.2 L439.9,379.8 L441.9,379.5 L443.9,379.1 L446.0,378.8 L448.0,378.4 L450.0,378.1 L452.0,377.7 L454.0,377.4 L456.0,377.1 L458.0,376.7 L460.0,376.4 L462.0,376.0 L464.0,375.7 L466.0,375.3 L468.0,374.9 L470.0,374.6 L472.0,374.2 L474.0,373.9 L476.0,373.5 L478.0,373.1 L480.1,372.8 L482.1,372.4 L484.1,372.0 L486.1,371.6 L488.1,371.2 L490.1,370.8 L492.1,370.4 L494.1,370.0 L496.1,369.6 L498.1,369.2 L500.1,368.8 L502.1,368.4 L504.1,368.0 L506.1,367.6 L508.1,367.1 L510.1,366.7 L512.1,366.2 L514.1,365.8 L516.2,365.3 L518.2,364.9 L520.2,364.4 L522.2,363.9 L524.2,363.4 L526.2,362.9 L528.2,362.4 L530.2,361.9 L532.2,361.4 L534.2,360.9 L536.2,360.3 L538.2,359.8 L540.2,359.2 L542.2,358.6 L544.2,358.0 L546.2,357.4 L548.2,356.8 L550.3,356.2 L552.3,355.5 L554.3,354.9 L556.3,354.2 L558.3,353.5 L560.3,352.8 L562.3,352.0 L564.3,351.3 L566.3,350.5" stroke="#61D04F"/>
<path d="M82.9,425.0 L84.9,425.0 L86.9,424.9 L88.9,424.9 L90.9,424.9 L92.9,424.8 L94.9,424.8 L96.9,424.7 L98.9,424.7 L100.9,424.6 L103.0,424.6 L105.0,424.5 L107.0,424.5 L109.0,424.4 L111.0,424.4 L113.0,424.3 L115.0,424.3 L117.0,424.2 L119.0,424.2 L121.0,424.1 L123.0,424.0 L125.0,424.0 L127.0,423.9 L129.0,423.9 L131.0,423.8 L133.0,423.8 L135.0,423.7 L137.0,423.7 L139.1,423.6 L141.1,423.5 L143.1,423.5 L145.1,423.4 L147.1,423.4 L149.1,423.3 L151.1,423.2 L153.1,423.2 L155.1,423.1 L157.1,423.0 L159.1,423.0 L161.1,422.9 L163.1,422.8 L165.1,422.8 L167.1,422.7 L169.1,422.6 L171.1,422.5 L173.1,422.5 L175.1,422.4 L177.2,422.3 L179.2,422.2 L181.2,422.1 L183.2,422.0 L185.2,421.9 L187.2,421.9 L189.2,421.8 L191.2,421.7 L193.2,421.6 L195.2,421.5 L197.2,421.4 L199.2,421.3 L201.2,421.2 L203.2,421.1 L205.2,421.0 L207.2,420.9 L209.2,420.7 L211.2,420.6 L213.2,420.5 L215.3,420.4 L217.3,420.3 L219.3,420.1 L221.3,420.0 L223.3,419.9 L225.3,419.8 L227.3,419.6 L229.3,419.5 L231.3,419.3 L233.3,419.2 L235.3,419.0 L237.3,418.9 L239.3,418.7 L241.3,418.6 L243.3,418.4 L245.3,418.3 L247.3,418.1 L249.3,417.9 L251.4,417.8 L253.4,417.6 L255.4,417.4 L257.4,417.2 L259.4,417.1 L261.4,416.9 L263.4,416.7 L265.4,416.5 L267.4,416.3 L269.4,416.1 L271.4,415.9 L273.4,415.7 L275.4,415.5 L277.4,415.3 L279.4,415.1 L281.4,414.8 L283.4,414.6 L285.4,414.4 L287.4,414.1 L289.5,413.9 L291.5,413.7 L293.5,413.4 L295.5,413.2 L297.5,412.9 L299.5,412.7 L301.5,412.4 L303.5,412.1 L305.5,411.9 L307.5,411.6 L309.5,411.3 L311.5,411.0 L313.5,410.8 L315.5,410.5 L317.5,410.2 L319.5,409.9 L321.5,409.6 L323.5,409.3 L325.6,409.0 L327.6,408.7 L329.6,408.4 L331.6,408.1 L333.6,407.8 L335.6,407.5 L337.6,407.1 L339.6,406.8 L341.6,406.5 L343.6,406.2 L345.6,405.8 L347.6,405.5 L349.6,405.2 L351.6,404.8 L353.6,404.5 L355.6,404.2 L357.6,403.8 L359.6,403.5 L361.6,403.1 L363.7,402.8 L365.7,402.4 L367.7,402.1 L369.7,401.7 L371.7,401.4 L373.7,401.0 L375.7,400.6 L377.7,400.3 L379.7,399.9 L381.7,399.5 L383.7,399.2 L385.7,398.8 L387.7,398.4 L389.7,398.0 L391.7,397.7 L393.7,397.3 L395.7,396.9 L397.7,396.5 L399.7,396.2 L401.8,395.8 L403.8,395.4 L405.8,395.0 L407.8,394.6 L409.8,394.2 L411.8,393.9 L413.8,393.5 L415.8,393.1 L417.8,392.7 L419.8,392.3 L421.8,391.9 L423.8,391.5 L425.8,391.1 L427.8,390.7 L429.8,390.3 L431.8,389.9 L433.8,389.5 L435.8,389.2 L437.9,388.8 L439.9,388.4 L441.9,388.0 L443.9,387.6 L445.9,387.2 L447.9,386.8 L449.9,386.4 L451.9,386.0 L453.9,385.6 L455.9,385.2 L457.9,384.7 L459.9,384.3 L461.9,383.9 L463.9,383.5 L465.9,383.1 L467.9,382.6 L469.9,382.2 L471.9,381.8 L473.9,381.3 L476.0,380.9 L478.0,380.5 L480.0,380.0 L482.0,379.5 L484.0,379.1 L486.0,378.6 L488.0,378.1 L490.0,377.7 L492.0,377.2 L494.0,376.7 L496.0,376.2 L498.0,375.7 L500.0,375.2 L502.0,374.7 L504.0,374.1 L506.0,373.6 L508.0,373.1 L510.0,372.5 L512.0,372.0 L514.1,371.4 L516.1,370.8 L518.1,370.2 L520.1,369.6 L522.1,369.0 L524.1,368.4 L526.1,367.8 L528.1,367.2 L530.1,366.5 L532.1,365.9 L534.1,365.2 L536.1,364.5 L538.1,363.8 L540.1,363.1 L542.1,362.4 L544.1,361.6 L546.1,360.9 L548.1,360.1 L550.2,359.3 L552.2,358.4 L554.2,357.5 L556.2,356.6 L558.2,355.7 L560.2,354.7 L562.2,353.7 L564.2,352.7 L566.2,351.6 L568.2,350.5" stroke="#61D04F"/>
<path d="M82.9,427.6 L84.9,427.2 L86.9,426.9 L88.9,426.6 L90.9,426.3 L92.9,426.0 L94.9,425.8 L96.9,425.5 L98.9,425.2 L100.9,424.9 L102.9,424.6 L105.0,424.3 L107.0,424.0 L109.0,423.8 L111.0,423.5 L113.0,423.2 L115.0,422.9 L117.0,422.7 L119.0,422.4 L121.0,422.1 L123.0,421.9 L125.0,421.6 L127.0,421.3 L129.0,421.1 L131.0,420.8 L133.0,420.5 L135.0,420.3 L137.0,420.0 L139.0,419.8 L141.0,419.5 L143.0,419.2 L145.0,419.0 L147.0,418.7 L149.1,418.5 L151.1,418.2 L153.1,418.0 L155.1,417.7 L157.1,417.4 L159.1,417.2 L161.1,416.9 L163.1,416.7 L165.1,416.4 L167.1,416.1 L169.1,415.9 L171.1,415.6 L173.1,415.4 L175.1,415.1 L177.1,414.8 L179.1,414.6 L181.1,414.3 L183.1,414.0 L185.1,413.8 L187.1,413.5 L189.1,413.2 L191.1,412.9 L193.2,412.7 L195.2,412.4 L197.2,412.1 L199.2,411.8 L201.2,411.5 L203.2,411.2 L205.2,411.0 L207.2,410.7 L209.2,410.4 L211.2,410.1 L213.2,409.8 L215.2,409.5 L217.2,409.2 L219.2,408.9 L221.2,408.6 L223.2,408.2 L225.2,407.9 L227.2,407.6 L229.2,407.3 L231.2,407.0 L233.2,406.6 L235.2,406.3 L237.3,406.0 L239.3,405.6 L241.3,405.3 L243.3,404.9 L245.3,404.6 L247.3,404.2 L249.3,403.9 L251.3,403.5 L253.3,403.1 L255.3,402.7 L257.3,402.4 L259.3,402.0 L261.3,401.6 L263.3,401.2 L265.3,400.8 L267.3,400.4 L269.3,400.0 L271.3,399.6 L273.3,399.2 L275.3,398.7 L277.3,398.3 L279.4,397.9 L281.4,397.4 L283.4,397.0 L285.4,396.5 L287.4,396.1 L289.4,395.6 L291.4,395.1 L293.4,394.7 L295.4,394.2 L297.4,393.7 L299.4,393.2 L301.4,392.7 L303.4,392.2 L305.4,391.7 L307.4,391.2 L309.4,390.6 L311.4,390.1 L313.4,389.6 L315.4,389.0 L317.4,388.4 L319.4,387.9 L321.4,387.3 L323.5,386.7 L325.5,386.1 L327.5,385.6 L329.5,385.0 L331.5,384.4 L333.5,383.7 L335.5,383.1 L337.5,382.5 L339.5,381.9 L341.5,381.2 L343.5,380.6 L345.5,380.0 L347.5,379.3 L349.5,378.7 L351.5,378.0 L353.5,377.4 L355.5,376.7 L357.5,376.0 L359.5,375.4 L361.5,374.7 L363.5,374.0 L365.5,373.3 L367.6,372.6 L369.6,371.9 L371.6,371.3 L373.6,370.6 L375.6,369.9 L377.6,369.2 L379.6,368.5 L381.6,367.8 L383.6,367.1 L385.6,366.4 L387.6,365.7 L389.6,365.0 L391.6,364.3 L393.6,363.6 L395.6,362.9 L397.6,362.2 L399.6,361.5 L401.6,360.8 L403.6,360.1 L405.6,359.4 L407.6,358.7 L409.6,358.0 L411.7,357.3 L413.7,356.6 L415.7,355.9 L417.7,355.2 L419.7,354.6 L421.7,353.9 L423.7,353.2 L425.7,352.5 L427.7,351.8 L429.7,351.2 L431.7,350.5" stroke="#28E2E5"/>
<path d="M82.9,440.3 L84.9,440.1 L86.9,439.9 L88.9,439.8 L90.9,439.6 L92.9,439.5 L94.9,439.3 L96.9,439.1 L98.9,439.0 L100.9,438.8 L102.9,438.6 L104.9,438.5 L106.9,438.3 L108.9,438.1 L110.9,438.0 L112.9,437.8 L114.9,437.6 L116.9,437.4 L118.9,437.3 L120.9,437.1 L122.9,436.9 L124.9,436.7 L126.9,436.5 L128.9,436.4 L130.9,436.2 L132.9,436.0 L134.9,435.8 L136.9,435.6 L138.9,435.4 L140.9,435.3 L142.9,435.1 L144.9,434.9 L146.9,434.7 L148.9,434.5 L150.9,434.3 L152.9,434.1 L154.9,433.9 L156.9,433.7 L158.9,433.5 L160.9,433.3 L162.9,433.1 L164.9,433.0 L166.9,432.8 L168.9,432.6 L170.9,432.4 L172.9,432.2 L174.9,432.0 L176.9,431.8 L178.9,431.6 L180.9,431.4 L182.9,431.1 L184.9,430.9 L186.9,430.7 L188.9,430.5 L190.9,430.3 L192.9,430.1 L194.9,429.9 L196.9,429.7 L198.9,429.5 L200.9,429.3 L202.9,429.1 L204.9,428.9 L206.9,428.7 L208.9,428.5 L210.9,428.3 L212.9,428.1 L214.9,427.8 L216.9,427.6 L218.9,427.4 L220.9,427.2 L222.9,427.0 L224.9,426.8 L226.9,426.6 L228.9,426.4 L230.9,426.2 L232.9,425.9 L234.9,425.7 L236.9,425.5 L238.9,425.3 L240.9,425.1 L242.9,424.9 L244.9,424.7 L246.9,424.5 L248.9,424.2 L250.9,424.0 L252.9,423.8 L254.9,423.6 L256.9,423.4 L258.9,423.2 L260.9,423.0 L262.9,422.7 L264.9,422.5 L266.9,422.3 L268.9,422.1 L270.9,421.9 L272.9,421.7 L274.9,421.5 L276.9,421.3 L278.9,421.0 L280.9,420.8 L282.9,420.6 L284.9,420.4 L286.9,420.2 L288.9,420.0 L290.9,419.8 L292.9,419.6 L294.9,419.4 L296.9,419.2 L298.9,418.9 L300.9,418.7 L302.9,418.5 L304.9,418.3 L306.9,418.1 L308.9,417.9 L310.9,417.7 L312.9,417.4 L314.9,417.2 L316.9,417.0 L318.9,416.8 L320.9,416.6 L322.9,416.3 L324.9,416.1 L326.9,415.9 L328.9,415.7 L330.9,415.4 L332.9,415.2 L334.9,414.9 L336.9,414.7 L338.9,414.5 L340.9,414.2 L342.9,414.0 L344.9,413.7 L346.9,413.4 L348.9,413.2 L350.9,412.9 L352.9,412.6 L354.9,412.4 L356.9,412.1 L358.9,411.8 L360.9,411.5 L362.9,411.2 L364.9,410.9 L366.9,410.6 L368.9,410.3 L370.9,410.0 L372.9,409.7 L374.9,409.4 L376.9,409.0 L378.9,408.7 L380.9,408.4 L382.9,408.0 L384.9,407.6 L386.9,407.3 L388.9,406.9 L390.9,406.5 L392.9,406.2 L394.9,405.8 L396.9,405.4 L398.9,405.0 L400.9,404.6 L402.9,404.1 L404.9,403.7 L406.9,403.3 L408.9,402.9 L410.9,402.4 L412.9,402.0 L414.9,401.5 L416.9,401.1 L418.9,400.6 L420.9,400.1 L422.9,399.6 L424.9,399.2 L426.9,398.7 L428.9,398.2 L430.9,397.7 L432.9,397.2 L434.9,396.7 L436.9,396.2 L438.9,395.7 L440.9,395.2 L442.9,394.7 L444.9,394.2 L446.9,393.7 L448.9,393.2 L450.9,392.7 L452.9,392.2 L454.9,391.7 L456.9,391.2 L458.9,390.7 L460.9,390.2 L462.9,389.6 L464.9,389.1 L466.9,388.6 L468.9,388.1 L470.9,387.6 L472.9,387.1 L474.9,386.6 L476.9,386.1 L478.9,385.6 L480.9,385.1 L482.9,384.6 L484.9,384.2 L486.9,383.7 L488.9,383.2 L490.9,382.7 L492.9,382.2 L494.9,381.8 L496.9,381.3 L498.9,380.8 L500.9,380.3 L502.9,379.8 L504.9,379.4 L506.9,378.9 L508.9,378.4 L510.9,377.9 L512.9,377.4 L514.9,376.9 L516.9,376.4 L518.9,375.9 L520.9,375.4 L522.9,374.9 L524.9,374.4 L526.9,373.9 L528.9,373.4 L530.9,372.8 L532.9,372.3 L534.9,371.7 L536.9,371.2 L538.9,370.6 L540.9,370.0 L542.9,369.5 L544.9,368.9 L546.9,368.3 L548.9,367.7 L550.9,367.1 L552.9,366.4 L554.9,365.8 L556.9,365.1 L558.9,364.5 L560.9,363.8 L562.9,363.1 L564.9,362.5 L566.9,361.8 L568.9,361.0 L570.9,360.3 L572.9,359.6 L574.9,358.8 L576.9,358.1 L578.9,357.3 L580.9,356.5 L582.9,355.7 L584.9,354.8 L586.9,354.0 L588.9,353.2 L590.9,352.3 L592.9,351.4 L594.9,350.5" stroke="#2297E6"/>
<path d="M82.9,447.8 L84.9,447.6 L86.9,447.4 L88.9,447.2 L90.9,447.0 L92.9,446.8 L95.0,446.6 L97.0,446.4 L99.0,446.3 L101.0,446.1 L103.0,445.9 L105.0,445.7 L107.0,445.5 L109.0,445.3 L111.0,445.2 L113.0,445.0 L115.0,444.8 L117.0,444.6 L119.1,444.4 L121.1,444.2 L123.1,444.1 L125.1,443.9 L127.1,443.7 L129.1,443.5 L131.1,443.3 L133.1,443.1 L135.1,442.9 L137.1,442.7 L139.1,442.6 L141.1,442.4 L143.2,442.2 L145.2,442.0 L147.2,441.8 L149.2,441.6 L151.2,441.4 L153.2,441.2 L155.2,441.0 L157.2,440.8 L159.2,440.6 L161.2,440.4 L163.2,440.1 L165.2,439.9 L167.2,439.7 L169.3,439.5 L171.3,439.3 L173.3,439.1 L175.3,438.9 L177.3,438.6 L179.3,438.4 L181.3,438.2 L183.3,437.9 L185.3,437.7 L187.3,437.5 L189.3,437.2 L191.4,437.0 L193.4,436.7 L195.4,436.5 L197.4,436.2 L199.4,436.0 L201.4,435.7 L203.4,435.5 L205.4,435.2 L207.4,434.9 L209.4,434.7 L211.4,434.4 L213.4,434.1 L215.5,433.8 L217.5,433.5 L219.5,433.2 L221.5,432.9 L223.5,432.6 L225.5,432.3 L227.5,432.0 L229.5,431.7 L231.5,431.4 L233.5,431.1 L235.5,430.8 L237.5,430.4 L239.6,430.1 L241.6,429.8 L243.6,429.4 L245.6,429.1 L247.6,428.7 L249.6,428.4 L251.6,428.0 L253.6,427.6 L255.6,427.3 L257.6,426.9 L259.6,426.5 L261.6,426.1 L263.6,425.7 L265.7,425.3 L267.7,424.9 L269.7,424.5 L271.7,424.1 L273.7,423.7 L275.7,423.3 L277.7,423.1 L279.7,422.9 L281.7,422.7 L283.7,422.6 L285.7,422.4 L287.7,422.2 L289.7,422.0 L291.7,421.9 L293.7,421.7 L295.8,421.5 L297.8,421.3 L299.8,421.2 L301.8,421.0 L303.8,420.8 L305.8,420.6 L307.8,420.4 L309.8,420.3 L311.8,420.1 L313.8,419.9 L315.8,419.7 L317.8,419.5 L319.8,419.3 L321.8,419.1 L323.8,418.9 L325.8,418.7 L327.8,418.5 L329.8,418.3 L331.8,418.1 L333.9,417.9 L335.9,417.7 L337.9,417.5 L339.9,417.3 L341.9,417.1 L343.9,416.9 L345.9,416.7 L347.9,416.5 L349.9,416.2 L351.9,416.0 L353.9,415.8 L355.9,415.6 L357.9,415.4 L359.9,415.1 L361.9,414.9 L363.9,414.7 L365.9,414.4 L367.9,414.2 L369.9,413.9 L372.0,413.7 L374.0,413.5 L376.0,413.2 L378.0,412.9 L380.0,412.7 L382.0,412.4 L384.0,412.2 L386.0,411.9 L388.0,411.6 L390.0,411.4 L392.0,411.1 L394.0,410.8 L396.0,410.6 L398.0,410.3 L400.0,410.0 L402.0,409.7 L404.0,409.4 L406.0,409.1 L408.0,408.8 L410.1,408.5 L412.1,408.2 L414.1,407.9 L416.1,407.6 L418.1,407.3 L420.1,407.0 L422.1,406.6 L424.1,406.3 L426.1,406.0 L428.1,405.6 L430.1,405.3 L432.1,405.0 L434.1,404.6 L436.1,404.3 L438.1,403.9 L440.1,403.6 L442.1,403.2 L444.1,402.8 L446.1,402.5 L448.1,402.1 L450.2,401.7 L452.2,401.3 L454.2,400.9 L456.2,400.5 L458.2,400.1 L460.2,399.7 L462.2,399.3 L464.2,398.9 L466.2,398.5 L468.2,398.1 L470.2,397.7 L472.2,397.3 L474.2,396.8 L476.2,396.4 L478.2,395.9 L480.2,395.5 L482.2,395.0 L484.2,394.6 L486.2,394.1 L488.3,393.6 L490.3,393.2 L492.3,392.7 L494.3,392.2 L496.3,391.7 L498.3,391.2 L500.3,390.7 L502.3,390.2 L504.3,389.7 L506.3,389.2 L508.3,388.7 L510.3,388.2 L512.3,387.6 L514.3,387.1 L516.3,386.5 L518.3,386.0 L520.3,385.4 L522.3,384.9 L524.3,384.3 L526.4,383.7 L528.4,383.1 L530.4,382.5 L532.4,381.9 L534.4,381.3 L536.4,380.7 L538.4,380.0 L540.4,379.4 L542.4,378.7 L544.4,378.0 L546.4,377.4 L548.4,376.7 L550.4,376.0 L552.4,375.3 L554.4,374.6 L556.4,373.9 L558.4,373.2 L560.4,372.5 L562.4,371.8 L564.5,371.1 L566.5,370.4 L568.5,369.7 L570.5,369.0 L572.5,368.3 L574.5,367.6 L576.5,366.9 L578.5,366.2 L580.5,365.5 L582.5,364.8 L584.5,364.1 L586.5,363.4 L588.5,362.7 L590.5,362.0 L592.5,361.3 L594.5,360.6 L596.5,359.9 L598.5,359.2 L600.5,358.5 L602.6,357.7 L604.6,357.0 L606.6,356.2 L608.6,355.5 L610.6,354.7 L612.6,353.9 L614.6,353.1 L616.6,352.2 L618.6,351.4 L620.6,350.5" stroke="#141414"/>
<path d="M82.9,460.2 L84.9,460.2 L86.9,460.1 L88.9,460.0 L90.9,459.9 L92.9,459.8 L94.9,459.7 L97.0,459.6 L99.0,459.5 L101.0,459.4 L103.0,459.3 L105.0,459.2 L107.0,459.1 L109.0,459.0 L111.0,459.0 L113.0,458.9 L115.0,458.8 L117.0,458.7 L119.0,458.6 L121.0,458.5 L123.0,458.4 L125.1,458.3 L127.1,458.2 L129.1,458.1 L131.1,458.0 L133.1,458.0 L135.1,457.9 L137.1,457.8 L139.1,457.7 L141.1,457.6 L143.1,457.5 L145.1,457.4 L147.1,457.3 L149.1,457.2 L151.1,457.1 L153.2,457.0 L155.2,456.9 L157.2,456.8 L159.2,456.7 L161.2,456.6 L163.2,456.5 L165.2,456.4 L167.2,456.3 L169.2,456.2 L171.2,456.1 L173.2,456.0 L175.2,455.9 L177.2,455.8 L179.2,455.7 L181.3,455.6 L183.3,455.5 L185.3,455.4 L187.3,455.3 L189.3,455.2 L191.3,455.0 L193.3,454.9 L195.3,454.8 L197.3,454.7 L199.3,454.6 L201.3,454.5 L203.3,454.4 L205.3,454.2 L207.3,454.1 L209.4,454.0 L211.4,453.9 L213.4,453.7 L215.4,453.6 L217.4,453.5 L219.4,453.4 L221.4,453.2 L223.4,453.1 L225.4,453.0 L227.4,452.8 L229.4,452.7 L231.4,452.6 L233.4,452.4 L235.4,452.3 L237.5,452.1 L239.5,452.0 L241.5,451.9 L243.5,451.7 L245.5,451.6 L247.5,451.4 L249.5,451.3 L251.5,451.1 L253.5,450.9 L255.5,450.8 L257.5,450.6 L259.5,450.5 L261.5,450.3 L263.5,450.1 L265.6,450.0 L267.6,449.8 L269.6,449.6 L271.6,449.5 L273.6,449.3 L275.6,449.1 L277.6,448.9 L279.6,448.7 L281.6,448.6 L283.6,448.4 L285.6,448.2 L287.6,448.0 L289.6,447.8 L291.6,447.6 L293.7,447.4 L295.7,447.2 L297.7,447.0 L299.7,446.8 L301.7,446.6 L303.7,446.4 L305.7,446.2 L307.7,445.9 L309.7,445.7 L311.7,445.5 L313.7,445.3 L315.7,445.0 L317.7,444.8 L319.7,444.6 L321.8,444.4 L323.8,444.1 L325.8,443.9 L327.8,443.6 L329.8,443.4 L331.8,443.1 L333.8,442.9 L335.8,442.6 L337.8,442.4 L339.8,442.1 L341.8,441.8 L343.8,441.6 L345.8,441.3 L347.9,441.0 L349.9,440.8 L351.9,440.5 L353.9,440.2 L355.9,439.9 L357.9,439.6 L359.9,439.4 L361.9,439.1 L363.9,438.8 L365.9,438.5 L367.9,438.2 L369.9,437.9 L371.9,437.6 L373.9,437.3 L376.0,437.0 L378.0,436.7 L380.0,436.4 L382.0,436.1 L384.0,435.7 L386.0,435.4 L388.0,435.1 L390.0,434.8 L392.0,434.5 L394.0,434.2 L396.0,433.9 L398.0,433.6 L400.0,433.2 L402.0,432.9 L404.1,432.6 L406.1,432.3 L408.1,432.0 L410.1,431.6 L412.1,431.3 L414.1,431.0 L416.1,430.7 L418.1,430.3 L420.1,430.0 L422.1,429.7 L424.1,429.4 L426.1,429.0 L428.1,428.7 L430.1,428.4 L432.2,428.1 L434.2,427.7 L436.2,427.4 L438.2,427.0 L440.2,426.7 L442.2,426.4 L444.2,426.0 L446.2,425.6 L448.2,425.3 L450.2,424.9 L452.2,424.6 L454.2,424.2 L456.2,423.8 L458.2,423.4 L460.3,423.1 L462.3,422.7 L464.3,422.3 L466.3,421.9 L468.3,421.5 L470.3,421.1 L472.3,420.7 L474.3,420.2 L476.3,419.8 L478.3,419.4 L480.3,418.9 L482.3,418.5 L484.3,418.0 L486.3,417.6 L488.4,417.1 L490.4,416.6 L492.4,416.1 L494.4,415.7 L496.4,415.2 L498.4,414.7 L500.4,414.2 L502.4,413.7 L504.4,413.2 L506.4,412.7 L508.4,412.2 L510.4,411.7 L512.4,411.2 L514.4,410.7 L516.5,410.2 L518.5,409.8 L520.5,409.3 L522.5,408.8 L524.5,408.3 L526.5,407.8 L528.5,407.4 L530.5,406.9 L532.5,406.4 L534.5,405.9 L536.5,405.4 L538.5,404.9 L540.5,404.4 L542.5,403.9 L544.6,403.4 L546.6,402.9 L548.6,402.3 L550.6,401.8 L552.6,401.2 L554.6,400.7 L556.6,400.1 L558.6,399.5 L560.6,398.9 L562.6,398.3 L564.6,397.7 L566.6,397.0 L568.6,396.3 L570.6,395.6 L572.7,394.9 L574.7,394.2 L576.7,393.5 L578.7,392.7 L580.7,391.9 L582.7,391.1 L584.7,390.3 L586.7,389.5 L588.7,388.8 L590.7,388.1 L592.7,387.3 L594.8,386.6 L596.8,385.8 L598.8,385.0 L600.8,384.2 L602.8,383.5 L604.8,382.7 L606.8,381.9 L608.8,381.0 L610.8,380.2 L612.9,379.4 L614.9,378.6 L616.9,377.7 L618.9,376.8 L620.9,376.0 L622.9,375.1 L624.9,374.2 L626.9,373.3 L629.0,372.4 L631.0,371.5 L633.0,370.6 L635.0,369.7 L637.0,368.8 L639.0,367.8 L641.0,366.9 L643.0,365.9 L645.0,364.9 L647.1,364.0 L649.1,363.0 L651.1,362.0 L653.1,361.0 L655.1,360.0 L657.1,359.0 L659.1,357.9 L661.1,356.9 L663.1,355.8 L665.2,354.8 L667.2,353.7 L669.2,352.7 L671.2,351.6 L673.2,350.5" stroke="#141414"/>
<path d="M82.9,469.0 L84.9,468.9 L86.9,468.7 L88.9,468.5 L90.9,468.4 L92.9,468.2 L94.9,468.0 L96.9,467.8 L98.9,467.6 L100.9,467.4 L102.9,467.3 L105.0,467.1 L107.0,466.9 L109.0,466.7 L111.0,466.5 L113.0,466.3 L115.0,466.1 L117.0,465.9 L119.0,465.7 L121.0,465.5 L123.0,465.3 L125.0,465.1 L127.0,464.9 L129.0,464.7 L131.0,464.5 L133.0,464.3 L135.0,464.1 L137.0,463.8 L139.0,463.6 L141.0,463.4 L143.0,463.2 L145.0,462.9 L147.0,462.7 L149.1,462.5 L151.1,462.3 L153.1,462.0 L155.1,461.8 L157.1,461.5 L159.1,461.3 L161.1,461.0 L163.1,460.8 L165.1,460.5 L167.1,460.3 L169.1,460.0 L171.1,459.8 L173.1,459.5 L175.1,459.3 L177.1,459.0 L179.1,458.7 L181.1,458.4 L183.1,458.2 L185.1,457.9 L187.1,457.6 L189.1,457.3 L191.2,457.0 L193.2,456.7 L195.2,456.4 L197.2,456.1 L199.2,455.8 L201.2,455.5 L203.2,455.2 L205.2,454.9 L207.2,454.6 L209.2,454.3 L211.2,454.0 L213.2,453.6 L215.2,453.3 L217.2,453.0 L219.2,452.6 L221.2,452.3 L223.2,451.9 L225.2,451.6 L227.2,451.2 L229.2,450.9 L231.2,450.5 L233.3,450.2 L235.3,449.8 L237.3,449.4 L239.3,449.1 L241.3,448.7 L243.3,448.3 L245.3,447.9 L247.3,447.5 L249.3,447.1 L251.3,446.7 L253.3,446.3 L255.3,445.9 L257.3,445.5 L259.3,445.1 L261.3,444.7 L263.3,444.2 L265.3,443.8 L267.3,443.4 L269.3,442.9 L271.3,442.5 L273.3,442.0 L275.3,441.6 L277.4,441.1 L279.4,440.7 L281.4,440.2 L283.4,439.7 L285.4,439.3 L287.4,438.8 L289.4,438.3 L291.4,437.8 L293.4,437.3 L295.4,436.8 L297.4,436.3 L299.4,435.8 L301.4,435.3 L303.4,434.7 L305.4,434.2 L307.4,433.7 L309.4,433.1 L311.4,432.6 L313.4,432.1 L315.4,431.5 L317.4,430.9 L319.5,430.4 L321.5,429.8 L323.5,429.2 L325.5,428.7 L327.5,428.1 L329.5,427.5 L331.5,426.9 L333.5,426.3 L335.5,425.7 L337.5,425.1 L339.5,424.4 L341.5,423.8 L343.5,423.2 L345.5,422.5 L347.5,421.9 L349.5,421.2 L351.5,420.5 L353.5,419.9 L355.5,419.2 L357.5,418.5 L359.5,417.8 L361.5,417.1 L363.6,416.4 L365.6,415.7 L367.6,414.9 L369.6,414.2 L371.6,413.4 L373.6,412.7 L375.6,411.9 L377.6,411.1 L379.6,410.4 L381.6,409.6 L383.6,408.8 L385.6,407.9 L387.6,407.1 L389.6,406.3 L391.6,405.4 L393.6,404.6 L395.6,403.7 L397.6,402.9 L399.6,402.0 L401.6,401.1 L403.6,400.2 L405.7,399.3 L407.7,398.4 L409.7,397.5 L411.7,396.6 L413.7,395.7 L415.7,394.7 L417.7,393.8 L419.7,392.9 L421.7,391.9 L423.7,391.0 L425.7,390.0 L427.7,389.1 L429.7,388.1 L431.7,387.2 L433.7,386.2 L435.7,385.3 L437.7,384.3 L439.7,383.3 L441.7,382.4 L443.7,381.4 L445.7,380.4 L447.8,379.4 L449.8,378.5 L451.8,377.5 L453.8,376.5 L455.8,375.6 L457.8,374.6 L459.8,373.6 L461.8,372.7 L463.8,371.7 L465.8,370.7 L467.8,369.8 L469.8,368.8 L471.8,367.9 L473.8,366.9 L475.8,366.0 L477.8,365.1 L479.8,364.1 L481.8,363.2 L483.8,362.3 L485.8,361.4 L487.8,360.5 L489.8,359.6 L491.9,358.8 L493.9,357.9 L495.9,357.0 L497.9,356.2 L499.9,355.3 L501.9,354.5 L503.9,353.7 L505.9,352.9 L507.9,352.1 L509.9,351.3 L511.9,350.5" stroke="#61D04F"/>
<path d="M82.9,472.0 L84.9,471.9 L86.9,471.7 L88.9,471.6 L90.9,471.4 L92.9,471.3 L94.9,471.1 L96.9,471.0 L98.9,470.8 L100.9,470.7 L102.9,470.5 L104.9,470.4 L106.9,470.2 L108.9,470.1 L110.9,469.9 L112.9,469.8 L115.0,469.6 L117.0,469.5 L119.0,469.3 L121.0,469.2 L123.0,469.0 L125.0,468.8 L127.0,468.7 L129.0,468.5 L131.0,468.4 L133.0,468.2 L135.0,468.1 L137.0,467.9 L139.0,467.8 L141.0,467.6 L143.0,467.4 L145.0,467.3 L147.0,467.1 L149.0,467.0 L151.0,466.8 L153.0,466.6 L155.0,466.5 L157.0,466.3 L159.0,466.1 L161.0,466.0 L163.0,465.8 L165.0,465.6 L167.0,465.5 L169.0,465.3 L171.0,465.1 L173.0,464.9 L175.1,464.8 L177.1,464.6 L179.1,464.4 L181.1,464.2 L183.1,464.1 L185.1,463.9 L187.1,463.7 L189.1,463.5 L191.1,463.3 L193.1,463.1 L195.1,462.9 L197.1,462.7 L199.1,462.6 L201.1,462.4 L203.1,462.2 L205.1,462.0 L207.1,461.8 L209.1,461.6 L211.1,461.4 L213.1,461.1 L215.1,460.9 L217.1,460.7 L219.1,460.5 L221.1,460.3 L223.1,460.1 L225.1,459.9 L227.1,459.6 L229.1,459.4 L231.1,459.2 L233.1,459.0 L235.2,458.7 L237.2,458.5 L239.2,458.3 L241.2,458.0 L243.2,457.8 L245.2,457.6 L247.2,457.3 L249.2,457.1 L251.2,456.8 L253.2,456.6 L255.2,456.3 L257.2,456.0 L259.2,455.8 L261.2,455.5 L263.2,455.2 L265.2,455.0 L267.2,454.7 L269.2,454.4 L271.2,454.2 L273.2,453.9 L275.2,453.6 L277.2,453.3 L279.2,453.0 L281.2,452.7 L283.2,452.4 L285.2,452.1 L287.2,451.8 L289.2,451.5 L291.2,451.2 L293.2,450.9 L295.2,450.6 L297.3,450.2 L299.3,449.9 L301.3,449.6 L303.3,449.2 L305.3,448.9 L307.3,448.6 L309.3,448.2 L311.3,447.9 L313.3,447.5 L315.3,447.2 L317.3,446.8 L319.3,446.4 L321.3,446.1 L323.3,445.7 L325.3,445.3 L327.3,444.9 L329.3,444.5 L331.3,444.2 L333.3,443.8 L335.3,443.4 L337.3,442.9 L339.3,442.5 L341.3,442.1 L343.3,441.7 L345.3,441.3 L347.3,440.8 L349.3,440.4 L351.3,439.9 L353.3,439.5 L355.3,439.0 L357.4,438.6 L359.4,438.1 L361.4,437.6 L363.4,437.1 L365.4,436.7 L367.4,436.2 L369.4,435.7 L371.4,435.2 L373.4,434.7 L375.4,434.1 L377.4,433.6 L379.4,433.1 L381.4,432.5 L383.4,432.0 L385.4,431.5 L387.4,430.9 L389.4,430.3 L391.4,429.8 L393.4,429.2 L395.4,428.6 L397.4,428.0 L399.4,427.4 L401.4,426.8 L403.4,426.2 L405.4,425.6 L407.4,424.9 L409.4,424.3 L411.4,423.7 L413.4,423.0 L415.4,422.4 L417.4,421.7 L419.5,421.0 L421.5,420.3 L423.5,419.7 L425.5,419.0 L427.5,418.3 L429.5,417.6 L431.5,416.8 L433.5,416.1 L435.5,415.4 L437.5,414.7 L439.5,413.9 L441.5,413.2 L443.5,412.4 L445.5,411.7 L447.5,410.9 L449.5,410.1 L451.5,409.3 L453.5,408.5 L455.5,407.7 L457.5,406.9 L459.5,406.1 L461.5,405.3 L463.5,404.5 L465.5,403.6 L467.5,402.8 L469.5,401.9 L471.5,401.1 L473.5,400.2 L475.5,399.4 L477.5,398.5 L479.6,397.6 L481.6,396.7 L483.6,395.8 L485.6,394.9 L487.6,394.0 L489.6,393.1 L491.6,392.1 L493.6,391.2 L495.6,390.3 L497.6,389.3 L499.6,388.4 L501.6,387.4 L503.6,386.4 L505.6,385.5 L507.6,384.5 L509.6,383.5 L511.6,382.5 L513.6,381.5 L515.6,380.5 L517.6,379.5 L519.6,378.4 L521.6,377.4 L523.6,376.4 L525.6,375.3 L527.6,374.3 L529.6,373.2 L531.6,372.1 L533.6,371.1 L535.6,370.0 L537.6,368.9 L539.7,367.8 L541.7,366.7 L543.7,365.6 L545.7,364.5 L547.7,363.3 L549.7,362.2 L551.7,361.1 L553.7,359.9 L555.7,358.8 L557.7,357.6 L559.7,356.4 L561.7,355.3 L563.7,354.1 L565.7,352.9 L567.7,351.7 L569.7,350.5" stroke="#141414"/>
<path d="M82.9,524.7 L84.9,524.6 L86.9,524.4 L88.9,524.2 L90.9,524.0 L92.9,523.8 L94.9,523.6 L96.9,523.4 L98.9,523.2 L100.9,523.0 L102.9,522.8 L104.9,522.6 L106.9,522.4 L109.0,522.2 L111.0,522.0 L113.0,521.8 L115.0,521.6 L117.0,521.4 L119.0,521.2 L121.0,521.0 L123.0,520.8 L125.0,520.6 L127.0,520.4 L129.0,520.2 L131.0,520.0 L133.0,519.7 L135.0,519.5 L137.0,519.3 L139.0,519.1 L141.0,518.9 L143.0,518.7 L145.0,518.4 L147.0,518.2 L149.0,518.0 L151.0,517.7 L153.0,517.5 L155.0,517.3 L157.0,517.0 L159.1,516.8 L161.1,516.6 L163.1,516.3 L165.1,516.1 L167.1,515.9 L169.1,515.6 L171.1,515.4 L173.1,515.1 L175.1,514.9 L177.1,514.6 L179.1,514.3 L181.1,514.1 L183.1,513.8 L185.1,513.6 L187.1,513.3 L189.1,513.0 L191.1,512.8 L193.1,512.5 L195.1,512.2 L197.1,511.9 L199.1,511.6 L201.1,511.4 L203.1,511.1 L205.1,510.8 L207.2,510.5 L209.2,510.2 L211.2,509.9 L213.2,509.6 L215.2,509.3 L217.2,509.0 L219.2,508.7 L221.2,508.4 L223.2,508.1 L225.2,507.7 L227.2,507.4 L229.2,507.1 L231.2,506.8 L233.2,506.4 L235.2,506.1 L237.2,505.8 L239.2,505.4 L241.2,505.1 L243.2,504.7 L245.2,504.4 L247.2,504.0 L249.2,503.7 L251.2,503.3 L253.2,502.9 L255.2,502.6 L257.3,502.2 L259.3,501.8 L261.3,501.4 L263.3,501.1 L265.3,500.7 L267.3,500.3 L269.3,499.9 L271.3,499.5 L273.3,499.1 L275.3,498.7 L277.3,498.3 L279.3,497.9 L281.3,497.4 L283.3,497.0 L285.3,496.6 L287.3,496.2 L289.3,495.7 L291.3,495.3 L293.3,494.8 L295.3,494.4 L297.3,493.9 L299.3,493.5 L301.3,493.0 L303.3,492.6 L305.3,492.1 L307.4,491.6 L309.4,491.1 L311.4,490.7 L313.4,490.2 L315.4,489.7 L317.4,489.2 L319.4,488.7 L321.4,488.2 L323.4,487.7 L325.4,487.1 L327.4,486.6 L329.4,486.1 L331.4,485.6 L333.4,485.0 L335.4,484.5 L337.4,483.9 L339.4,483.4 L341.4,482.8 L343.4,482.3 L345.4,481.7 L347.4,481.1 L349.4,480.6 L351.4,480.0 L353.4,479.4 L355.4,478.8 L357.5,478.2 L359.5,477.6 L361.5,477.0 L363.5,476.4 L365.5,475.8 L367.5,475.1 L369.5,474.5 L371.5,473.9 L373.5,473.2 L375.5,472.6 L377.5,471.9 L379.5,471.3 L381.5,470.6 L383.5,469.9 L385.5,469.2 L387.5,468.6 L389.5,467.9 L391.5,467.2 L393.5,466.5 L395.5,465.8 L397.5,465.1 L399.5,464.3 L401.5,463.6 L403.5,462.9 L405.6,462.1 L407.6,461.4 L409.6,460.6 L411.6,459.9 L413.6,459.1 L415.6,458.3 L417.6,457.6 L419.6,456.8 L421.6,456.0 L423.6,455.2 L425.6,454.4 L427.6,453.6 L429.6,452.8 L431.6,452.0 L433.6,451.1 L435.6,450.3 L437.6,449.4 L439.6,448.6 L441.6,447.7 L443.6,446.9 L445.6,446.0 L447.6,445.1 L449.6,444.2 L451.6,443.4 L453.6,442.5 L455.7,441.5 L457.7,440.6 L459.7,439.7 L461.7,438.8 L463.7,437.9 L465.7,436.9 L467.7,436.0 L469.7,435.0 L471.7,434.0 L473.7,433.1 L475.7,432.1 L477.7,431.1 L479.7,430.1 L481.7,429.1 L483.7,428.1 L485.7,427.1 L487.7,426.1 L489.7,425.0 L491.7,424.0 L493.7,423.0 L495.7,421.9 L497.7,420.9 L499.7,419.8 L501.7,418.7 L503.7,417.7 L505.8,416.6 L507.8,415.5 L509.8,414.4 L511.8,413.4 L513.8,412.3 L515.8,411.2 L517.8,410.1 L519.8,409.0 L521.8,407.9 L523.8,406.8 L525.8,405.7 L527.8,404.6 L529.8,403.6 L531.8,402.5 L533.8,401.4 L535.8,400.3 L537.8,399.2 L539.8,398.1 L541.8,397.0 L543.8,395.9 L545.8,394.8 L547.8,393.8 L549.8,392.7 L551.8,391.6 L553.9,390.5 L555.9,389.5 L557.9,388.4 L559.9,387.3 L561.9,386.3 L563.9,385.2 L565.9,384.2 L567.9,383.2 L569.9,382.1 L571.9,381.1 L573.9,380.1 L575.9,379.1 L577.9,378.1 L579.9,377.1 L581.9,376.1 L583.9,375.1 L585.9,374.0 L587.9,373.0 L589.9,372.0 L591.9,371.0 L593.9,370.0 L595.9,368.9 L597.9,367.9 L599.9,366.9 L601.9,365.8 L604.0,364.7 L606.0,363.6 L608.0,362.5 L610.0,361.4 L612.0,360.3 L614.0,359.1 L616.0,358.0 L618.0,356.8 L620.0,355.6 L622.0,354.3 L624.0,353.1 L626.0,351.8 L628.0,350.5" stroke="#2297E6"/>
<path d="M82.9,574.8 L84.9,574.6 L86.9,574.5 L88.9,574.4 L90.9,574.2 L92.9,574.1 L94.9,574.0 L96.9,573.8 L98.9,573.7 L100.9,573.6 L102.9,573.4 L104.9,573.3 L106.9,573.2 L108.9,573.0 L110.9,572.9 L112.9,572.8 L114.9,572.6 L116.9,572.5 L118.9,572.3 L120.9,572.2 L122.9,572.1 L124.9,571.9 L126.9,571.8 L128.9,571.7 L130.9,571.5 L132.9,571.4 L134.9,571.2 L136.9,571.1 L138.9,570.9 L140.9,570.8 L142.9,570.7 L144.9,570.5 L146.9,570.4 L148.9,570.2 L150.9,570.1 L152.9,569.9 L154.9,569.8 L156.9,569.6 L158.9,569.5 L160.9,569.3 L162.9,569.2 L164.9,569.0 L166.9,568.9 L168.9,568.7 L170.9,568.5 L172.9,568.4 L174.9,568.2 L176.9,568.1 L178.9,567.9 L180.9,567.7 L182.9,567.6 L184.9,567.4 L186.9,567.3 L188.9,567.1 L190.9,566.9 L192.9,566.7 L194.9,566.6 L196.9,566.4 L198.9,566.2 L200.9,566.1 L202.9,565.9 L204.9,565.7 L206.9,565.5 L208.9,565.3 L210.9,565.2 L212.9,565.0 L214.9,564.8 L216.9,564.6 L218.9,564.4 L220.9,564.2 L222.9,564.0 L224.9,563.8 L226.9,563.7 L228.9,563.5 L230.9,563.3 L232.9,563.1 L234.9,562.9 L236.9,562.7 L238.9,562.5 L240.9,562.2 L242.9,562.0 L244.9,561.8 L246.9,561.6 L248.9,561.4 L250.9,561.2 L252.9,561.0 L254.9,560.8 L256.9,560.5 L258.9,560.3 L260.9,560.1 L262.9,559.9 L264.9,559.6 L266.9,559.4 L268.9,559.2 L270.9,558.9 L272.9,558.7 L274.9,558.5 L276.9,558.2 L278.9,558.0 L280.9,557.7 L282.9,557.5 L284.9,557.2 L286.9,557.0 L288.9,556.7 L290.9,556.5 L292.9,556.2 L294.9,555.9 L296.9,555.7 L298.9,555.4 L300.9,555.1 L302.9,554.9 L304.9,554.6 L306.9,554.3 L308.9,554.1 L310.9,553.8 L312.9,553.5 L314.9,553.2 L316.9,552.9 L318.9,552.6 L320.9,552.3 L322.9,552.0 L324.9,551.7 L326.9,551.4 L328.9,551.1 L330.9,550.8 L332.9,550.5 L334.9,550.2 L336.9,549.9 L338.9,549.6 L340.9,549.3 L342.9,548.9 L344.9,548.6 L346.9,548.3 L348.9,548.0 L350.9,547.6 L352.9,547.3 L354.9,546.9 L356.9,546.6 L358.9,546.3 L360.9,545.9 L362.9,545.6 L364.9,545.2 L366.9,544.8 L368.9,544.5 L370.9,544.1 L372.9,543.7 L374.9,543.4 L376.9,543.0 L378.9,542.6 L380.9,542.2 L382.9,541.9 L384.9,541.5 L386.9,541.1 L388.9,540.7 L390.9,540.3 L392.9,539.9 L394.9,539.5 L396.9,539.1 L398.9,538.7 L400.9,538.3 L402.9,537.9 L404.9,537.4 L406.9,537.0 L408.9,536.6 L410.9,536.2 L412.9,535.7 L414.9,535.3 L416.9,534.8 L418.9,534.4 L420.9,534.0 L422.9,533.5 L424.9,533.0 L426.9,532.6 L428.9,532.1 L430.9,531.7 L432.9,531.2 L434.9,530.7 L436.9,530.2 L438.9,529.8 L440.9,529.3 L442.9,528.8 L444.9,528.3 L446.9,527.8 L448.9,527.3 L450.9,526.8 L452.9,526.3 L454.9,525.8 L456.9,525.3 L458.9,524.7 L460.9,524.2 L462.9,523.7 L464.9,523.2 L466.9,522.6 L468.9,522.1 L470.9,521.5 L472.9,521.0 L474.9,520.4 L476.9,519.9 L478.9,519.3 L480.9,518.7 L482.9,518.2 L484.9,517.6 L486.9,517.0 L488.9,516.4 L490.9,515.9 L492.9,515.3 L494.9,514.7 L496.9,514.1 L498.9,513.5 L500.9,512.9 L502.9,512.2 L504.9,511.6 L506.9,511.0 L508.9,510.4 L510.9,509.7 L512.9,509.1 L514.9,508.5 L516.9,507.8 L518.9,507.2 L520.9,506.5 L522.9,505.9 L524.9,505.2 L526.9,504.5 L528.9,503.9 L530.9,503.2 L532.9,502.5 L534.9,501.8 L536.9,501.1 L538.9,500.4 L540.9,499.7 L542.9,499.0 L544.9,498.3 L546.9,497.6 L548.9,496.9 L550.9,496.1 L552.9,495.4 L554.9,494.7 L556.9,493.9 L558.9,493.2 L560.9,492.4 L562.9,491.7 L564.9,490.9 L566.9,490.2 L568.9,489.4 L570.9,488.6 L572.9,487.8 L574.9,487.0 L576.9,486.3 L578.9,485.5 L580.9,484.7 L582.9,483.8 L584.9,483.0 L586.9,482.2 L588.9,481.4 L590.9,480.6 L592.9,479.7 L594.9,478.9 L596.9,478.0 L598.9,477.2 L600.9,476.3 L602.9,475.5 L604.9,474.6 L606.9,473.7 L608.9,472.9 L610.9,472.0 L612.9,471.1 L614.9,470.2 L616.9,469.3 L618.9,468.4 L620.9,467.5 L622.9,466.6 L624.9,465.6 L626.9,464.7 L628.9,463.8 L630.9,462.8 L632.9,461.9 L634.9,460.9 L636.9,460.0 L638.9,459.0 L640.9,458.0 L642.9,457.1 L644.9,456.1 L646.9,455.1 L648.9,454.1 L650.9,453.1 L652.9,452.1 L654.9,451.1 L656.9,450.1 L658.9,449.0 L660.9,448.0 L662.9,447.0 L664.9,445.9 L666.9,444.9 L668.9,443.8 L670.9,442.8 L672.9,441.7 L674.9,440.6 L676.9,439.6 L678.9,438.5 L680.9,437.4 L682.9,436.3 L684.9,435.2 L686.9,434.1 L688.9,433.0 L690.9,431.8 L692.9,430.7 L694.9,429.6 L696.9,428.4 L698.9,427.3 L700.9,426.1 L702.9,425.0 L704.9,423.8 L706.9,422.6 L708.9,421.5 L710.9,420.3 L712.9,419.1 L714.9,417.9 L716.9,416.7 L718.9,415.4 L720.9,414.2 L722.9,413.0 L724.9,411.8 L726.9,410.5 L728.9,409.3 L730.9,408.0 L732.9,406.8 L734.9,405.5 L736.9,404.2 L738.9,402.9 L740.9,401.6 L742.9,400.4 L744.9,399.1 L746.9,397.7 L748.9,396.4 L750.9,395.1 L752.9,393.8 L754.9,392.4 L756.9,391.1 L758.9,389.7 L760.9,388.4 L762.9,387.0 L764.9,385.6 L766.9,384.3 L768.9,382.9 L770.9,381.5 L772.9,380.1 L774.9,378.7 L776.9,377.3 L778.9,375.8 L780.9,374.4 L782.9,373.0 L784.9,371.5 L786.9,370.1 L788.9,368.6 L790.9,367.1 L792.9,365.7 L794.9,364.2 L796.9,362.7 L798.9,361.2 L800.9,359.7 L802.9,358.2 L804.9,356.7 L806.9,355.1 L808.9,353.6 L810.9,352.1 L812.9,350.5" stroke="#CD0BBC"/>
<path d="M82.9,318.3 L84.9,318.3 L86.9,318.3 L88.9,318.3 L90.9,318.3 L92.9,318.4 L94.9,318.4 L96.9,318.4 L98.9,318.4 L100.9,318.5 L102.9,318.5 L104.9,318.5 L106.9,318.6 L109.0,318.6 L111.0,318.6 L113.0,318.6 L115.0,318.7 L117.0,318.7 L119.0,318.7 L121.0,318.8 L123.0,318.8 L125.0,318.8 L127.0,318.9 L129.0,318.9 L131.0,318.9 L133.0,319.0 L135.0,319.0 L137.0,319.0 L139.0,319.1 L141.0,319.1 L143.0,319.2 L145.0,319.2 L147.0,319.2 L149.0,319.3 L151.0,319.3 L153.0,319.4 L155.0,319.4 L157.0,319.4 L159.0,319.5 L161.1,319.5 L163.1,319.6 L165.1,319.6 L167.1,319.7 L169.1,319.7 L171.1,319.8 L173.1,319.8 L175.1,319.8 L177.1,319.9 L179.1,319.9 L181.1,320.0 L183.1,320.0 L185.1,320.1 L187.1,320.1 L189.1,320.2 L191.1,320.2 L193.1,320.3 L195.1,320.3 L197.1,320.4 L199.1,320.5 L201.1,320.5 L203.1,320.6 L205.1,320.6 L207.1,320.7 L209.1,320.7 L211.1,320.8 L213.2,320.9 L215.2,320.9 L217.2,321.0 L219.2,321.0 L221.2,321.1 L223.2,321.2 L225.2,321.2 L227.2,321.3 L229.2,321.3 L231.2,321.4 L233.2,321.5 L235.2,321.5 L237.2,321.6 L239.2,321.7 L241.2,321.7 L243.2,321.8 L245.2,321.9 L247.2,321.9 L249.2,322.0 L251.2,322.1 L253.2,322.1 L255.2,322.2 L257.2,322.3 L259.2,322.4 L261.2,322.4 L263.2,322.5 L265.3,322.6 L267.3,322.7 L269.3,322.7 L271.3,322.8 L273.3,322.9 L275.3,323.0 L277.3,323.0 L279.3,323.1 L281.3,323.2 L283.3,323.3 L285.3,323.4 L287.3,323.4 L289.3,323.5 L291.3,323.6 L293.3,323.7 L295.3,323.8 L297.3,323.9 L299.3,323.9 L301.3,324.0 L303.3,324.1 L305.3,324.2 L307.3,324.3 L309.3,324.4 L311.3,324.5 L313.3,324.6 L315.3,324.7 L317.4,324.7 L319.4,324.8 L321.4,324.9 L323.4,325.0 L325.4,325.1 L327.4,325.2 L329.4,325.3 L331.4,325.4 L333.4,325.5 L335.4,325.6 L337.4,325.7 L339.4,325.8 L341.4,325.9 L343.4,326.0 L345.4,326.1 L347.4,326.2 L349.4,326.3 L351.4,326.4 L353.4,326.5 L355.4,326.6 L357.4,326.7 L359.4,326.8 L361.4,326.9 L363.4,327.0 L365.4,327.1 L367.5,327.3 L369.5,327.4 L371.5,327.5 L373.5,327.6 L375.5,327.7 L377.5,327.8 L379.5,327.9 L381.5,328.0 L383.5,328.2 L385.5,328.3 L387.5,328.4 L389.5,328.5 L391.5,328.6 L393.5,328.7 L395.5,328.9 L397.5,329.0 L399.5,329.1 L401.5,329.2 L403.5,329.3 L405.5,329.5 L407.5,329.6 L409.5,329.7 L411.5,329.8 L413.5,330.0 L415.5,330.1 L417.5,330.2 L419.6,330.3 L421.6,330.5 L423.6,330.6 L425.6,330.7 L427.6,330.9 L429.6,331.0 L431.6,331.1 L433.6,331.3 L435.6,331.4 L437.6,331.5 L439.6,331.7 L441.6,331.8 L443.6,331.9 L445.6,332.1 L447.6,332.2 L449.6,332.4 L451.6,332.5 L453.6,332.6 L455.6,332.8 L457.6,332.9 L459.6,333.1 L461.6,333.2 L463.6,333.4 L465.6,333.5 L467.6,333.7 L469.6,333.8 L471.7,334.0 L473.7,334.1 L475.7,334.3 L477.7,334.4 L479.7,334.6 L481.7,334.7 L483.7,334.9 L485.7,335.0 L487.7,335.2 L489.7,335.3 L491.7,335.5 L493.7,335.6 L495.7,335.8 L497.7,336.0 L499.7,336.1 L501.7,336.3 L503.7,336.4 L505.7,336.6 L507.7,336.8 L509.7,336.9 L511.7,337.1 L513.7,337.3 L515.7,337.4 L517.7,337.6 L519.7,337.8 L521.7,337.9 L523.8,338.1 L525.8,338.3 L527.8,338.4 L529.8,338.6 L531.8,338.8 L533.8,339.0 L535.8,339.1 L537.8,339.3 L539.8,339.5 L541.8,339.7 L543.8,339.8 L545.8,340.0 L547.8,340.2 L549.8,340.4 L551.8,340.5 L553.8,340.7 L555.8,340.9 L557.8,341.1 L559.8,341.3 L561.8,341.5 L563.8,341.6 L565.8,341.8 L567.8,342.0 L569.8,342.2 L571.8,342.4 L573.8,342.6 L575.9,342.8 L577.9,343.0 L579.9,343.1 L581.9,343.3 L583.9,343.5 L585.9,343.7 L587.9,343.9 L589.9,344.1 L591.9,344.3 L593.9,344.5 L595.9,344.7 L597.9,344.9 L599.9,345.1 L601.9,345.3 L603.9,345.5 L605.9,345.7 L607.9,345.9 L609.9,346.1 L611.9,346.3 L613.9,346.5 L615.9,346.7 L617.9,346.9 L619.9,347.1 L621.9,347.3 L623.9,347.5 L625.9,347.7 L628.0,347.9 L630.0,348.2 L632.0,348.4 L634.0,348.6 L636.0,348.8 L638.0,349.0 L640.0,349.2 L642.0,349.4 L644.0,349.6 L646.0,349.9 L648.0,350.1 L650.0,350.3 L652.0,350.5" stroke="#61D04F"/>
<path d="M82.9,319.9 L84.9,320.1 L86.9,320.3 L89.0,320.5 L91.0,320.7 L93.0,321.0 L95.0,321.2 L97.0,321.4 L99.1,321.6 L101.1,321.9 L103.1,322.1 L105.1,322.3 L107.1,322.6 L109.1,322.8 L111.2,323.0 L113.2,323.3 L115.2,323.5 L117.2,323.7 L119.2,324.0 L121.3,324.2 L123.3,324.4 L125.3,324.7 L127.3,324.9 L129.3,325.2 L131.4,325.4 L133.4,325.7 L135.4,325.9 L137.4,326.2 L139.4,326.4 L141.4,326.7 L143.5,326.9 L145.5,327.2 L147.5,327.5 L149.5,327.7 L151.5,328.0 L153.6,328.3 L155.6,328.5 L157.6,328.8 L159.6,329.1 L161.6,329.4 L163.7,329.7 L165.7,329.9 L167.7,330.2 L169.7,330.5 L171.7,330.8 L173.8,331.1 L175.8,331.4 L177.8,331.7 L179.8,332.0 L181.8,332.3 L183.8,332.6 L185.9,332.9 L187.9,333.2 L189.9,333.6 L191.9,333.9 L193.9,334.2 L196.0,334.5 L198.0,334.9 L200.0,335.2 L202.0,335.5 L204.0,335.9 L206.1,336.2 L208.1,336.6 L210.1,336.9 L212.1,337.3 L214.1,337.7 L216.2,338.0 L218.2,338.4 L220.2,338.8 L222.2,339.1 L224.2,339.5 L226.2,339.9 L228.3,340.3 L230.3,340.7 L232.3,341.1 L234.3,341.5 L236.3,341.9 L238.4,342.3 L240.4,342.7 L242.4,343.1 L244.4,343.6 L246.4,344.0 L248.5,344.4 L250.5,344.9 L252.5,345.3 L254.5,345.7 L256.5,346.2 L258.5,346.7 L260.6,347.1 L262.6,347.6 L264.6,348.1 L266.6,348.5 L268.6,349.0 L270.7,349.5 L272.7,350.0 L274.7,350.5" stroke="#DF536B"/>
<path d="M82.9,304.1 L85.0,304.4 L87.2,304.6 L89.3,304.9 L91.4,305.1 L93.6,305.4 L95.7,305.6 L97.8,305.9 L99.9,306.1 L102.1,306.4 L104.2,306.6 L106.3,306.9 L108.5,307.1 L110.6,307.4 L112.6,307.4 L114.6,307.4 L116.6,307.5 L118.6,307.5 L120.6,307.6 L122.6,307.6 L124.6,307.7 L126.6,307.7 L128.6,307.8 L130.6,307.8 L132.6,307.9 L134.6,307.9 L136.6,308.0 L138.6,308.0 L140.6,308.0 L142.7,308.1 L144.7,308.1 L146.7,308.2 L148.7,308.2 L150.7,308.3 L152.7,308.3 L154.7,308.3 L156.7,308.4 L158.7,308.4 L160.7,308.5 L162.7,308.5 L164.7,308.5 L166.7,308.6 L168.7,308.6 L170.7,308.7 L172.7,308.7 L174.7,308.7 L176.7,308.8 L178.7,308.8 L180.7,308.8 L182.7,308.9 L184.7,308.9 L186.7,309.0 L188.7,309.0 L190.7,309.0 L192.7,309.1 L194.7,309.1 L196.7,309.1 L198.7,309.2 L200.7,309.2 L202.7,309.3 L204.8,309.3 L206.8,309.3 L208.8,309.4 L210.8,309.4 L212.8,309.4 L214.8,309.5 L216.8,309.5 L218.8,309.6 L220.8,309.6 L222.8,309.6 L224.8,309.7 L226.8,309.7 L228.8,309.7 L230.8,309.8 L232.8,309.8 L234.8,309.9 L236.8,309.9 L238.8,309.9 L240.8,310.0 L242.8,310.0 L244.8,310.1 L246.8,310.1 L248.8,310.1 L250.8,310.2 L252.8,310.2 L254.8,310.3 L256.8,310.3 L258.8,310.4 L260.8,310.4 L262.8,310.5 L264.8,310.5 L266.9,310.5 L268.9,310.6 L270.9,310.6 L272.9,310.7 L274.9,310.7 L276.9,310.8 L278.9,310.8 L280.9,310.9 L282.9,310.9 L284.9,311.0 L286.9,311.0 L288.9,311.1 L290.9,311.1 L292.9,311.2 L294.9,311.2 L296.9,311.3 L298.9,311.3 L300.9,311.4 L302.9,311.5 L304.9,311.5 L306.9,311.6 L308.9,311.6 L310.9,311.7 L312.9,311.7 L314.9,311.8 L316.9,311.9 L318.9,311.9 L320.9,312.0 L322.9,312.1 L324.9,312.1 L326.9,312.2 L329.0,312.3 L331.0,312.3 L333.0,312.4 L335.0,312.5 L337.0,312.5 L339.0,312.6 L341.0,312.7 L343.0,312.8 L345.0,312.8 L347.0,312.9 L349.0,313.0 L351.0,313.1 L353.0,313.1 L355.0,313.2 L357.0,313.3 L359.0,313.4 L361.0,313.5 L363.0,313.5 L365.0,313.6 L367.0,313.7 L369.0,313.8 L371.0,313.9 L373.0,314.0 L375.0,314.1 L377.0,314.2 L379.0,314.3 L381.0,314.4 L383.0,314.5 L385.0,314.6 L387.0,314.7 L389.0,314.8 L391.0,314.9 L393.1,315.0 L395.1,315.1 L397.1,315.2 L399.1,315.3 L401.1,315.4 L403.1,315.5 L405.1,315.6 L407.1,315.7 L409.1,315.8 L411.1,316.0 L413.1,316.1 L415.1,316.2 L417.1,316.3 L419.1,316.4 L421.1,316.6 L423.1,316.7 L425.1,316.8 L427.1,316.9 L429.1,317.1 L431.1,317.2 L433.1,317.4 L435.1,317.5 L437.1,317.6 L439.1,317.8 L441.1,317.9 L443.1,318.1 L445.1,318.2 L447.1,318.4 L449.1,318.6 L451.1,318.7 L453.1,318.9 L455.2,319.1 L457.2,319.3 L459.2,319.5 L461.2,319.6 L463.2,319.8 L465.2,320.0 L467.2,320.2 L469.2,320.4 L471.2,320.7 L473.2,320.9 L475.2,321.1 L477.2,321.3 L479.2,321.6 L481.2,321.8 L483.2,322.0 L485.2,322.3 L487.2,322.5 L489.2,322.8 L491.2,323.1 L493.2,323.3 L495.2,323.6 L497.2,323.9 L499.2,324.2 L501.2,324.5 L503.2,324.8 L505.2,325.1 L507.2,325.5 L509.2,325.8 L511.2,326.1 L513.2,326.5 L515.2,326.8 L517.3,327.2 L519.3,327.5 L521.3,327.9 L523.3,328.3 L525.3,328.7 L527.3,329.1 L529.3,329.5 L531.3,329.9 L533.3,330.3 L535.3,330.8 L537.3,331.2 L539.3,331.7 L541.3,332.1 L543.3,332.6 L545.3,333.1 L547.3,333.5 L549.3,333.8 L551.3,334.0 L553.4,334.2 L555.4,334.4 L557.4,334.6 L559.4,334.8 L561.4,335.0 L563.4,335.3 L565.5,335.5 L567.5,335.7 L569.5,335.9 L571.5,336.1 L573.5,336.4 L575.5,336.6 L577.6,336.8 L579.6,337.1 L581.6,337.3 L583.6,337.5 L585.6,337.8 L587.6,338.0 L589.7,338.2 L591.7,338.5 L593.7,338.7 L595.7,338.9 L597.7,339.2 L599.7,339.4 L601.8,339.7 L603.8,339.9 L605.8,340.2 L607.8,340.4 L609.8,340.6 L611.8,340.9 L613.9,341.1 L615.9,341.4 L617.9,341.6 L619.9,341.9 L621.9,342.2 L623.9,342.4 L626.0,342.7 L628.0,342.9 L630.0,343.2 L632.0,343.5 L634.0,343.8 L636.0,344.0 L638.1,344.3 L640.1,344.6 L642.1,344.9 L644.1,345.2 L646.1,345.5 L648.1,345.9 L650.2,346.3 L652.2,346.7 L654.2,347.1 L656.2,347.5 L658.2,347.9 L660.2,348.3 L662.3,348.6 L664.3,348.9 L666.3,349.2 L668.3,349.4 L670.3,349.5 L672.3,349.6 L674.4,349.7 L676.4,349.8 L678.4,349.8 L680.4,349.9 L682.4,350.0 L684.4,350.0 L686.5,350.1 L688.5,350.1 L690.5,350.2 L692.5,350.2 L694.5,350.3 L696.5,350.3 L698.6,350.4 L700.6,350.4 L702.6,350.4 L704.6,350.4 L706.6,350.5 L708.6,350.5 L710.7,350.5 L712.7,350.5 L714.7,350.5" stroke="#141414"/>
<path d="M82.9,293.4 L84.9,293.5 L86.9,293.5 L88.9,293.6 L90.9,293.6 L92.9,293.7 L94.9,293.7 L96.9,293.7 L98.9,293.8 L100.9,293.8 L102.9,293.9 L104.9,293.9 L106.9,294.0 L108.9,294.0 L110.9,294.1 L112.9,294.1 L114.9,294.2 L116.9,294.2 L118.9,294.3 L121.0,294.3 L123.0,294.4 L125.0,294.4 L127.0,294.5 L129.0,294.5 L131.0,294.6 L133.0,294.7 L135.0,294.7 L137.0,294.8 L139.0,294.8 L141.0,294.9 L143.0,294.9 L145.0,295.0 L147.0,295.1 L149.0,295.1 L151.0,295.2 L153.0,295.2 L155.0,295.3 L157.0,295.4 L159.0,295.4 L161.0,295.5 L163.0,295.6 L165.0,295.6 L167.0,295.7 L169.0,295.8 L171.0,295.8 L173.0,295.9 L175.0,296.0 L177.0,296.0 L179.0,296.1 L181.0,296.2 L183.0,296.2 L185.0,296.3 L187.0,296.4 L189.0,296.5 L191.0,296.5 L193.0,296.6 L195.1,296.7 L197.1,296.8 L199.1,296.8 L201.1,296.9 L203.1,297.0 L205.1,297.1 L207.1,297.1 L209.1,297.2 L211.1,297.3 L213.1,297.4 L215.1,297.5 L217.1,297.5 L219.1,297.6 L221.1,297.7 L223.1,297.8 L225.1,297.9 L227.1,298.0 L229.1,298.0 L231.1,298.1 L233.1,298.2 L235.1,298.3 L237.1,298.4 L239.1,298.5 L241.1,298.6 L243.1,298.6 L245.1,298.7 L247.1,298.8 L249.1,298.9 L251.1,299.0 L253.1,299.1 L255.1,299.2 L257.1,299.3 L259.1,299.4 L261.1,299.5 L263.1,299.6 L265.1,299.7 L267.1,299.7 L269.2,299.8 L271.2,299.9 L273.2,300.0 L275.2,300.1 L277.2,300.2 L279.2,300.3 L281.2,300.4 L283.2,300.5 L285.2,300.6 L287.2,300.7 L289.2,300.8 L291.2,300.9 L293.2,301.0 L295.2,301.1 L297.2,301.3 L299.2,301.4 L301.2,301.5 L303.2,301.6 L305.2,301.7 L307.2,301.8 L309.2,301.9 L311.2,302.0 L313.2,302.1 L315.2,302.2 L317.2,302.3 L319.2,302.4 L321.2,302.6 L323.2,302.7 L325.2,302.8 L327.2,302.9 L329.2,303.0 L331.2,303.1 L333.2,303.2 L335.2,303.3 L337.2,303.5 L339.2,303.6 L341.2,303.7 L343.3,303.8 L345.3,303.9 L347.3,304.1 L349.3,304.2 L351.3,304.3 L353.3,304.4 L355.3,304.5 L357.3,304.7 L359.3,304.8 L361.3,304.9 L363.3,305.0 L365.3,305.1 L367.3,305.3 L369.3,305.4 L371.3,305.5 L373.3,305.6 L375.3,305.8 L377.3,305.9 L379.3,306.0 L381.3,306.2 L383.3,306.3 L385.3,306.4 L387.3,306.5 L389.3,306.7 L391.3,306.8 L393.3,306.9 L395.3,307.1 L397.3,307.2 L399.3,307.3 L401.3,307.5 L403.3,307.6 L405.3,307.7 L407.3,307.9 L409.3,308.0 L411.3,308.2 L413.3,308.3 L415.3,308.4 L417.3,308.6 L419.4,308.7 L421.4,308.9 L423.4,309.0 L425.4,309.1 L427.4,309.3 L429.4,309.4 L431.4,309.6 L433.4,309.7 L435.4,309.8 L437.4,310.0 L439.4,310.1 L441.4,310.3 L443.4,310.4 L445.4,310.6 L447.4,310.7 L449.4,310.9 L451.4,311.0 L453.4,311.2 L455.4,311.3 L457.4,311.5 L459.4,311.6 L461.4,311.8 L463.4,311.9 L465.4,312.1 L467.4,312.2 L469.4,312.4 L471.4,312.5 L473.4,312.7 L475.4,312.8 L477.4,313.0 L479.4,313.2 L481.4,313.3 L483.4,313.5 L485.4,313.6 L487.4,313.8 L489.4,313.9 L491.4,314.1 L493.5,314.3 L495.5,314.4 L497.5,314.6 L499.5,314.8 L501.5,314.9 L503.5,315.1 L505.5,315.2 L507.5,315.4 L509.5,315.6 L511.5,315.7 L513.5,315.9 L515.5,316.1 L517.5,316.2 L519.5,316.4 L521.5,316.6 L523.5,316.7 L525.5,316.9 L527.5,317.1 L529.5,317.2 L531.5,317.4 L533.5,317.6 L535.5,317.8 L537.5,317.9 L539.5,318.1 L541.5,318.3 L543.5,318.5 L545.5,318.6 L547.5,318.8 L549.5,319.0 L551.5,319.2 L553.5,319.3 L555.5,319.5 L557.5,319.7 L559.5,319.9 L561.5,320.1 L563.5,320.2 L565.5,320.4 L567.6,320.6 L569.6,320.8 L571.6,321.1 L573.6,321.3 L575.6,321.5 L577.6,321.7 L579.6,322.0 L581.6,322.3 L583.6,322.6 L585.6,322.8 L587.6,323.2 L589.6,323.5 L591.6,323.8 L593.6,324.2 L595.6,324.6 L597.6,325.0 L599.6,325.4 L601.6,325.9 L603.6,326.3 L605.6,326.8 L607.6,327.3 L609.6,327.8 L611.6,328.4 L613.6,328.9 L615.6,329.5 L617.6,330.0 L619.6,330.6 L621.6,331.2 L623.6,331.8 L625.6,332.4 L627.6,333.1 L629.6,333.7 L631.6,334.3 L633.6,335.0 L635.6,335.7 L637.6,336.3 L639.6,337.0 L641.7,337.7 L643.7,338.4 L645.7,339.1 L647.7,339.8 L649.7,340.5 L651.7,341.2 L653.7,341.9 L655.7,342.6 L657.7,343.3 L659.7,344.0 L661.7,344.8 L663.7,345.5 L665.7,346.2 L667.7,346.9 L669.7,347.6 L671.7,348.4 L673.7,349.1 L675.7,349.8 L677.7,350.5" stroke="#2297E6"/>
<path d="M82.9,275.4 L84.9,275.7 L86.9,275.9 L88.9,276.1 L90.9,276.3 L92.9,276.5 L95.0,276.7 L97.0,276.9 L99.0,277.1 L101.0,277.3 L103.0,277.5 L105.0,277.7 L107.0,278.0 L109.0,278.2 L111.0,278.4 L113.0,278.6 L115.0,278.8 L117.0,279.0 L119.1,279.2 L121.1,279.4 L123.1,279.6 L125.1,279.8 L127.1,280.0 L129.1,280.2 L131.1,280.4 L133.1,280.6 L135.1,280.9 L137.1,281.1 L139.1,281.3 L141.1,281.5 L143.2,281.7 L145.2,281.9 L147.2,282.1 L149.2,282.3 L151.2,282.5 L153.2,282.7 L155.2,283.0 L157.2,283.2 L159.2,283.4 L161.2,283.6 L163.2,283.8 L165.3,284.0 L167.3,284.2 L169.3,284.4 L171.3,284.7 L173.3,284.9 L175.3,285.1 L177.3,285.3 L179.3,285.5 L181.3,285.7 L183.3,286.0 L185.3,286.2 L187.3,286.4 L189.4,286.6 L191.4,286.9 L193.4,287.1 L195.4,287.3 L197.4,287.5 L199.4,287.8 L201.4,288.0 L203.4,288.2 L205.4,288.4 L207.4,288.7 L209.4,288.9 L211.4,289.1 L213.5,289.4 L215.5,289.6 L217.5,289.8 L219.5,290.1 L221.5,290.3 L223.5,290.6 L225.5,290.8 L227.5,291.0 L229.5,291.3 L231.5,291.5 L233.5,291.8 L235.6,292.0 L237.6,292.3 L239.6,292.5 L241.6,292.8 L243.6,293.0 L245.6,293.3 L247.6,293.5 L249.6,293.8 L251.6,294.1 L253.6,294.3 L255.6,294.6 L257.6,294.8 L259.7,295.1 L261.7,295.4 L263.7,295.6 L265.7,295.9 L267.7,296.2 L269.7,296.5 L271.7,296.7 L273.7,297.0 L275.7,297.3 L277.7,297.6 L279.7,297.9 L281.7,298.1 L283.8,298.4 L285.8,298.7 L287.8,299.0 L289.8,299.3 L291.8,299.6 L293.8,299.9 L295.8,300.2 L297.8,300.5 L299.8,300.8 L301.8,301.1 L303.8,301.4 L305.9,301.7 L307.9,302.0 L309.9,302.4 L311.9,302.7 L313.9,303.0 L315.9,303.3 L317.9,303.6 L319.9,304.0 L321.9,304.3 L323.9,304.6 L325.9,305.0 L327.9,305.3 L330.0,305.6 L332.0,306.0 L334.0,306.3 L336.0,306.7 L338.0,307.0 L340.0,307.4 L342.0,307.7 L344.0,308.1 L346.0,308.4 L348.0,308.8 L350.0,309.2 L352.0,309.5 L354.1,309.9 L356.1,310.3 L358.1,310.6 L360.1,311.0 L362.1,311.4 L364.1,311.8 L366.1,312.2 L368.1,312.6 L370.1,313.0 L372.1,313.4 L374.1,313.8 L376.2,314.2 L378.2,314.6 L380.2,315.0 L382.2,315.4 L384.2,315.8 L386.2,316.2 L388.2,316.6 L390.2,317.1 L392.2,317.5 L394.2,317.9 L396.2,318.3 L398.2,318.8 L400.3,319.2 L402.3,319.7 L404.3,320.1 L406.3,320.6 L408.3,321.0 L410.3,321.5 L412.3,322.0 L414.3,322.4 L416.3,322.9 L418.3,323.4 L420.3,323.9 L422.3,324.3 L424.4,324.8 L426.4,325.3 L428.4,325.8 L430.4,326.3 L432.4,326.8 L434.4,327.4 L436.4,327.9 L438.4,328.4 L440.4,328.9 L442.4,329.5 L444.4,330.0 L446.5,330.6 L448.5,331.1 L450.5,331.7 L452.5,332.2 L454.5,332.8 L456.5,333.4 L458.5,333.9 L460.5,334.5 L462.5,335.1 L464.5,335.7 L466.5,336.3 L468.5,336.9 L470.6,337.5 L472.6,338.1 L474.6,338.7 L476.6,339.4 L478.6,340.0 L480.6,340.7 L482.6,341.3 L484.6,342.0 L486.6,342.6 L488.6,343.3 L490.6,344.0 L492.6,344.8 L494.7,345.6 L496.7,346.4 L498.7,347.3 L500.7,348.3 L502.7,349.4 L504.7,350.5" stroke="#28E2E5"/>
<path d="M82.9,266.2 L84.9,266.2 L86.9,266.3 L88.9,266.3 L90.9,266.4 L92.9,266.5 L94.9,266.6 L96.9,266.6 L98.9,266.7 L101.0,266.8 L103.0,266.8 L105.0,266.9 L107.0,267.0 L109.0,267.1 L111.0,267.1 L113.0,267.2 L115.0,267.3 L117.0,267.4 L119.0,267.5 L121.0,267.6 L123.0,267.6 L125.0,267.7 L127.0,267.8 L129.0,267.9 L131.0,268.0 L133.0,268.1 L135.1,268.2 L137.1,268.3 L139.1,268.4 L141.1,268.4 L143.1,268.5 L145.1,268.6 L147.1,268.7 L149.1,268.8 L151.1,268.9 L153.1,269.0 L155.1,269.2 L157.1,269.3 L159.1,269.4 L161.1,269.5 L163.1,269.6 L165.1,269.7 L167.1,269.8 L169.1,269.9 L171.2,270.0 L173.2,270.2 L175.2,270.3 L177.2,270.4 L179.2,270.5 L181.2,270.7 L183.2,270.8 L185.2,270.9 L187.2,271.0 L189.2,271.2 L191.2,271.3 L193.2,271.4 L195.2,271.6 L197.2,271.7 L199.2,271.9 L201.2,272.0 L203.2,272.1 L205.3,272.3 L207.3,272.4 L209.3,272.6 L211.3,272.7 L213.3,272.9 L215.3,273.0 L217.3,273.2 L219.3,273.4 L221.3,273.5 L223.3,273.7 L225.3,273.9 L227.3,274.0 L229.3,274.2 L231.3,274.4 L233.3,274.5 L235.3,274.7 L237.3,274.9 L239.4,275.1 L241.4,275.3 L243.4,275.4 L245.4,275.6 L247.4,275.8 L249.4,276.0 L251.4,276.2 L253.4,276.4 L255.4,276.6 L257.4,276.8 L259.4,277.0 L261.4,277.2 L263.4,277.4 L265.4,277.6 L267.4,277.8 L269.4,278.1 L271.4,278.3 L273.4,278.5 L275.5,278.7 L277.5,279.0 L279.5,279.2 L281.5,279.4 L283.5,279.6 L285.5,279.9 L287.5,280.1 L289.5,280.4 L291.5,280.6 L293.5,280.9 L295.5,281.1 L297.5,281.4 L299.5,281.6 L301.5,281.9 L303.5,282.1 L305.5,282.4 L307.5,282.7 L309.6,282.9 L311.6,283.2 L313.6,283.5 L315.6,283.8 L317.6,284.0 L319.6,284.3 L321.6,284.6 L323.6,284.9 L325.6,285.2 L327.6,285.5 L329.6,285.8 L331.6,286.1 L333.6,286.4 L335.6,286.7 L337.6,287.0 L339.6,287.3 L341.6,287.6 L343.7,287.9 L345.7,288.3 L347.7,288.6 L349.7,288.9 L351.7,289.3 L353.7,289.6 L355.7,289.9 L357.7,290.3 L359.7,290.6 L361.7,291.0 L363.7,291.3 L365.7,291.7 L367.7,292.0 L369.7,292.4 L371.7,292.8 L373.7,293.1 L375.7,293.5 L377.7,293.9 L379.8,294.3 L381.8,294.6 L383.8,295.0 L385.8,295.4 L387.8,295.8 L389.8,296.2 L391.8,296.6 L393.8,297.0 L395.8,297.4 L397.8,297.8 L399.8,298.2 L401.8,298.7 L403.8,299.1 L405.8,299.5 L407.8,299.9 L409.8,300.4 L411.8,300.8 L413.9,301.2 L415.9,301.7 L417.9,302.1 L419.9,302.6 L421.9,303.0 L423.9,303.5 L425.9,304.0 L427.9,304.4 L429.9,304.9 L431.9,305.4 L433.9,305.9 L435.9,306.3 L437.9,306.8 L439.9,307.3 L441.9,307.8 L443.9,308.3 L445.9,308.8 L448.0,309.3 L450.0,309.8 L452.0,310.3 L454.0,310.9 L456.0,311.4 L458.0,311.9 L460.0,312.4 L462.0,313.0 L464.0,313.5 L466.0,314.1 L468.0,314.6 L470.0,315.2 L472.0,315.7 L474.0,316.3 L476.0,316.8 L478.0,317.4 L480.0,318.0 L482.0,318.5 L484.1,319.1 L486.1,319.7 L488.1,320.2 L490.1,320.8 L492.1,321.3 L494.1,321.9 L496.1,322.4 L498.1,323.0 L500.1,323.5 L502.1,324.0 L504.1,324.6 L506.1,325.1 L508.1,325.6 L510.1,326.1 L512.1,326.6 L514.1,327.1 L516.1,327.6 L518.2,328.0 L520.2,328.5 L522.2,329.0 L524.2,329.5 L526.2,330.0 L528.2,330.4 L530.2,330.9 L532.2,331.4 L534.2,331.8 L536.2,332.3 L538.2,332.8 L540.2,333.2 L542.2,333.7 L544.2,334.2 L546.2,334.6 L548.2,335.1 L550.2,335.6 L552.3,336.1 L554.3,336.5 L556.3,337.0 L558.3,337.5 L560.3,338.0 L562.3,338.5 L564.3,339.0 L566.3,339.5 L568.3,340.0 L570.3,340.5 L572.3,341.0 L574.3,341.6 L576.3,342.1 L578.3,342.6 L580.3,343.2 L582.3,343.7 L584.3,344.3 L586.3,344.9 L588.4,345.5 L590.4,346.1 L592.4,346.7 L594.4,347.3 L596.4,347.9 L598.4,348.5 L600.4,349.2 L602.4,349.8 L604.4,350.5" stroke="#DF536B"/>
<path d="M82.9,252.3 L84.9,252.4 L86.9,252.5 L88.9,252.6 L90.9,252.8 L92.9,252.9 L94.9,253.1 L96.9,253.2 L98.9,253.4 L100.9,253.5 L102.9,253.7 L104.9,253.9 L106.9,254.0 L109.0,254.2 L111.0,254.4 L113.0,254.6 L115.0,254.8 L117.0,254.9 L119.0,255.1 L121.0,255.3 L123.0,255.6 L125.0,255.8 L127.0,256.0 L129.0,256.2 L131.0,256.4 L133.0,256.6 L135.0,256.9 L137.0,257.1 L139.0,257.3 L141.0,257.6 L143.0,257.8 L145.0,258.0 L147.0,258.3 L149.0,258.5 L151.0,258.8 L153.0,259.0 L155.0,259.3 L157.1,259.6 L159.1,259.8 L161.1,260.1 L163.1,260.3 L165.1,260.6 L167.1,260.9 L169.1,261.2 L171.1,261.4 L173.1,261.7 L175.1,262.0 L177.1,262.3 L179.1,262.6 L181.1,262.9 L183.1,263.1 L185.1,263.4 L187.1,263.7 L189.1,264.0 L191.1,264.3 L193.1,264.6 L195.1,264.9 L197.1,265.2 L199.1,265.5 L201.1,265.8 L203.1,266.1 L205.1,266.4 L207.2,266.8 L209.2,267.1 L211.2,267.4 L213.2,267.7 L215.2,268.0 L217.2,268.3 L219.2,268.6 L221.2,268.9 L223.2,269.3 L225.2,269.6 L227.2,269.9 L229.2,270.2 L231.2,270.5 L233.2,270.8 L235.2,271.2 L237.2,271.5 L239.2,271.8 L241.2,272.1 L243.2,272.4 L245.2,272.7 L247.2,273.0 L249.2,273.3 L251.2,273.6 L253.2,273.9 L255.3,274.2 L257.3,274.5 L259.3,274.8 L261.3,275.1 L263.3,275.4 L265.3,275.7 L267.3,276.0 L269.3,276.3 L271.3,276.6 L273.3,276.9 L275.3,277.2 L277.3,277.5 L279.3,277.8 L281.3,278.1 L283.3,278.4 L285.3,278.7 L287.3,279.0 L289.3,279.3 L291.3,279.5 L293.3,279.8 L295.3,280.1 L297.3,280.4 L299.3,280.7 L301.3,281.0 L303.3,281.3 L305.4,281.6 L307.4,281.9 L309.4,282.2 L311.4,282.5 L313.4,282.8 L315.4,283.2 L317.4,283.5 L319.4,283.8 L321.4,284.1 L323.4,284.4 L325.4,284.7 L327.4,285.0 L329.4,285.4 L331.4,285.7 L333.4,286.0 L335.4,286.4 L337.4,286.7 L339.4,287.0 L341.4,287.4 L343.4,287.7 L345.4,288.1 L347.4,288.4 L349.4,288.8 L351.4,289.1 L353.5,289.5 L355.5,289.8 L357.5,290.2 L359.5,290.6 L361.5,291.0 L363.5,291.3 L365.5,291.7 L367.5,292.1 L369.5,292.5 L371.5,292.9 L373.5,293.3 L375.5,293.7 L377.5,294.1 L379.5,294.5 L381.5,295.0 L383.5,295.4 L385.5,295.8 L387.5,296.3 L389.5,296.7 L391.5,297.2 L393.5,297.6 L395.5,298.1 L397.5,298.5 L399.5,299.0 L401.5,299.5 L403.6,300.0 L405.6,300.5 L407.6,301.0 L409.6,301.5 L411.6,302.0 L413.6,302.5 L415.6,303.0 L417.6,303.6 L419.6,304.1 L421.6,304.7 L423.6,305.2 L425.6,305.8 L427.6,306.3 L429.6,306.9 L431.6,307.5 L433.6,308.0 L435.6,308.6 L437.6,309.2 L439.6,309.8 L441.6,310.4 L443.6,311.0 L445.6,311.6 L447.6,312.2 L449.6,312.8 L451.7,313.4 L453.7,314.1 L455.7,314.7 L457.7,315.3 L459.7,315.9 L461.7,316.6 L463.7,317.2 L465.7,317.8 L467.7,318.5 L469.7,319.1 L471.7,319.7 L473.7,320.4 L475.7,321.0 L477.7,321.7 L479.7,322.3 L481.7,323.0 L483.7,323.6 L485.7,324.2 L487.7,324.9 L489.7,325.5 L491.7,326.2 L493.7,326.8 L495.7,327.5 L497.7,328.1 L499.7,328.8 L501.8,329.4 L503.8,330.1 L505.8,330.7 L507.8,331.3 L509.8,332.0 L511.8,332.6 L513.8,333.2 L515.8,333.9 L517.8,334.5 L519.8,335.1 L521.8,335.8 L523.8,336.4 L525.8,337.0 L527.8,337.6 L529.8,338.2 L531.8,338.8 L533.8,339.4 L535.8,340.1 L537.8,340.6 L539.8,341.2 L541.8,341.8 L543.8,342.4 L545.8,343.0 L547.8,343.6 L549.9,344.1 L551.9,344.7 L553.9,345.3 L555.9,345.8 L557.9,346.4 L559.9,346.9 L561.9,347.4 L563.9,348.0 L565.9,348.5 L567.9,349.0 L569.9,349.5 L571.9,350.0 L573.9,350.5" stroke="#28E2E5"/>
<path d="M82.9,225.3 L84.9,225.3 L86.9,225.4 L88.9,225.5 L90.9,225.6 L92.9,225.7 L94.9,225.8 L96.9,225.9 L98.9,226.0 L100.9,226.0 L102.9,226.1 L104.9,226.2 L106.9,226.3 L108.9,226.4 L110.9,226.5 L112.9,226.6 L114.9,226.7 L116.9,226.8 L118.9,226.9 L120.9,227.0 L122.9,227.0 L124.9,227.1 L126.9,227.2 L128.9,227.3 L130.9,227.4 L132.9,227.5 L134.9,227.6 L136.9,227.7 L138.9,227.8 L140.9,227.9 L142.9,228.0 L144.9,228.1 L146.9,228.2 L148.9,228.3 L150.9,228.4 L152.9,228.5 L154.9,228.6 L156.9,228.7 L158.9,228.8 L160.9,228.9 L162.9,229.0 L164.9,229.1 L166.9,229.2 L168.9,229.3 L170.9,229.4 L172.9,229.5 L174.9,229.6 L176.9,229.7 L178.9,229.8 L180.9,229.9 L182.9,230.1 L184.9,230.2 L186.9,230.3 L188.9,230.4 L190.9,230.5 L192.9,230.6 L194.9,230.8 L196.9,230.9 L198.9,231.0 L200.9,231.1 L202.9,231.2 L204.9,231.4 L206.9,231.5 L208.9,231.6 L210.9,231.7 L212.9,231.9 L214.9,232.0 L216.9,232.1 L218.9,232.3 L220.9,232.4 L222.9,232.5 L224.9,232.7 L226.9,232.8 L228.9,232.9 L230.9,233.1 L232.9,233.2 L234.9,233.4 L236.9,233.5 L238.9,233.7 L240.9,233.8 L242.9,234.0 L244.9,234.1 L246.9,234.3 L248.9,234.4 L250.9,234.6 L252.9,234.7 L254.9,234.9 L256.9,235.0 L258.9,235.2 L260.9,235.4 L262.9,235.5 L264.9,235.7 L266.9,235.9 L268.9,236.1 L270.9,236.2 L272.9,236.4 L274.9,236.6 L276.9,236.8 L278.9,236.9 L280.9,237.1 L282.9,237.3 L284.9,237.5 L286.9,237.7 L288.9,237.9 L290.9,238.1 L292.9,238.3 L294.9,238.5 L296.9,238.7 L298.9,238.9 L300.9,239.1 L302.9,239.3 L304.9,239.5 L306.9,239.7 L308.9,239.9 L310.9,240.1 L312.9,240.3 L314.9,240.6 L316.9,240.8 L318.9,241.0 L320.9,241.2 L322.9,241.5 L324.9,241.7 L326.9,241.9 L328.9,242.2 L330.9,242.4 L332.9,242.6 L334.9,242.9 L336.9,243.1 L338.9,243.4 L340.9,243.6 L342.9,243.9 L344.9,244.1 L346.9,244.4 L348.9,244.7 L350.9,244.9 L352.9,245.2 L354.9,245.5 L356.9,245.7 L358.9,246.0 L360.9,246.3 L362.9,246.6 L364.9,246.8 L366.9,247.1 L368.9,247.4 L370.9,247.7 L372.9,248.0 L374.9,248.3 L376.9,248.6 L378.9,248.9 L380.9,249.2 L382.9,249.5 L384.9,249.8 L386.9,250.2 L388.9,250.5 L390.9,250.8 L392.9,251.1 L394.9,251.4 L396.9,251.8 L399.0,252.1 L401.0,252.4 L403.0,252.8 L405.0,253.1 L407.0,253.5 L409.0,253.8 L411.0,254.2 L413.0,254.5 L415.0,254.9 L417.0,255.3 L419.0,255.6 L421.0,256.0 L423.0,256.4 L425.0,256.7 L427.0,257.1 L429.0,257.5 L431.0,257.9 L433.0,258.3 L435.0,258.7 L437.0,259.1 L439.0,259.5 L441.0,259.9 L443.0,260.3 L445.0,260.7 L447.0,261.1 L449.0,261.5 L451.0,262.0 L453.0,262.4 L455.0,262.8 L457.0,263.2 L459.0,263.7 L461.0,264.1 L463.0,264.6 L465.0,265.0 L467.0,265.5 L469.0,265.9 L471.0,266.4 L473.0,266.9 L475.0,267.3 L477.0,267.8 L479.0,268.3 L481.0,268.7 L483.0,269.2 L485.0,269.7 L487.0,270.2 L489.0,270.7 L491.0,271.2 L493.0,271.7 L495.0,272.2 L497.0,272.7 L499.0,273.2 L501.0,273.8 L503.0,274.3 L505.0,274.8 L507.0,275.3 L509.0,275.9 L511.0,276.4 L513.0,277.0 L515.0,277.5 L517.0,278.1 L519.0,278.6 L521.0,279.2 L523.0,279.7 L525.0,280.3 L527.0,280.8 L529.0,281.4 L531.0,282.0 L533.0,282.6 L535.0,283.1 L537.0,283.7 L539.0,284.3 L541.0,284.9 L543.0,285.5 L545.0,286.1 L547.0,286.7 L549.0,287.3 L551.0,287.9 L553.0,288.5 L555.0,289.1 L557.0,289.7 L559.0,290.4 L561.0,291.0 L563.0,291.6 L565.0,292.2 L567.0,292.9 L569.0,293.5 L571.0,294.1 L573.0,294.8 L575.0,295.4 L577.0,296.1 L579.0,296.7 L581.0,297.4 L583.0,298.0 L585.0,298.7 L587.0,299.3 L589.0,300.0 L591.0,300.7 L593.0,301.3 L595.0,302.0 L597.0,302.7 L599.0,303.4 L601.0,304.0 L603.0,304.7 L605.0,305.4 L607.0,306.1 L609.0,306.8 L611.0,307.5 L613.0,308.2 L615.0,308.9 L617.0,309.6 L619.0,310.3 L621.0,311.0 L623.0,311.7 L625.0,312.4 L627.0,313.1 L629.0,313.8 L631.0,314.5 L633.0,315.3 L635.0,316.0 L637.0,316.7 L639.0,317.5 L641.0,318.2 L643.0,318.9 L645.0,319.7 L647.0,320.5 L649.0,321.2 L651.0,322.0 L653.0,322.7 L655.0,323.5 L657.0,324.3 L659.0,325.1 L661.0,325.9 L663.0,326.7 L665.0,327.5 L667.0,328.3 L669.0,329.1 L671.0,330.0 L673.0,330.8 L675.0,331.6 L677.0,332.5 L679.0,333.4 L681.0,334.2 L683.0,335.1 L685.0,336.0 L687.0,336.9 L689.0,337.8 L691.0,338.7 L693.0,339.6 L695.0,340.6 L697.0,341.5 L699.0,342.5 L701.0,343.4 L703.0,344.4 L705.0,345.4 L707.0,346.4 L709.0,347.4 L711.0,348.4 L713.0,349.5 L715.0,350.5" stroke="#141414"/>
<path d="M82.9,232.1 L84.9,232.3 L86.9,232.4 L88.9,232.5 L90.9,232.6 L92.9,232.7 L94.9,232.8 L96.9,232.9 L98.9,233.0 L100.9,233.1 L102.9,233.2 L105.0,233.3 L107.0,233.4 L109.0,233.5 L111.0,233.6 L113.0,233.7 L115.0,233.9 L117.0,234.0 L119.0,234.1 L121.0,234.2 L123.0,234.3 L125.0,234.4 L127.0,234.5 L129.0,234.6 L131.0,234.7 L133.0,234.9 L135.0,235.0 L137.0,235.1 L139.0,235.2 L141.0,235.3 L143.0,235.4 L145.0,235.6 L147.1,235.7 L149.1,235.8 L151.1,235.9 L153.1,236.0 L155.1,236.2 L157.1,236.3 L159.1,236.4 L161.1,236.5 L163.1,236.7 L165.1,236.8 L167.1,236.9 L169.1,237.1 L171.1,237.2 L173.1,237.3 L175.1,237.5 L177.1,237.6 L179.1,237.7 L181.1,237.9 L183.1,238.0 L185.1,238.2 L187.2,238.3 L189.2,238.4 L191.2,238.6 L193.2,238.7 L195.2,238.9 L197.2,239.0 L199.2,239.2 L201.2,239.3 L203.2,239.5 L205.2,239.6 L207.2,239.8 L209.2,240.0 L211.2,240.1 L213.2,240.3 L215.2,240.4 L217.2,240.6 L219.2,240.8 L221.2,240.9 L223.2,241.1 L225.2,241.3 L227.2,241.4 L229.3,241.6 L231.3,241.8 L233.3,242.0 L235.3,242.2 L237.3,242.3 L239.3,242.5 L241.3,242.7 L243.3,242.9 L245.3,243.1 L247.3,243.3 L249.3,243.5 L251.3,243.7 L253.3,243.9 L255.3,244.1 L257.3,244.3 L259.3,244.5 L261.3,244.7 L263.3,244.9 L265.3,245.1 L267.3,245.3 L269.3,245.5 L271.4,245.8 L273.4,246.0 L275.4,246.2 L277.4,246.4 L279.4,246.7 L281.4,246.9 L283.4,247.1 L285.4,247.3 L287.4,247.6 L289.4,247.8 L291.4,248.1 L293.4,248.3 L295.4,248.6 L297.4,248.8 L299.4,249.1 L301.4,249.3 L303.4,249.6 L305.4,249.8 L307.4,250.1 L309.4,250.4 L311.5,250.6 L313.5,250.9 L315.5,251.2 L317.5,251.5 L319.5,251.7 L321.5,252.0 L323.5,252.3 L325.5,252.6 L327.5,252.9 L329.5,253.2 L331.5,253.5 L333.5,253.8 L335.5,254.1 L337.5,254.4 L339.5,254.7 L341.5,255.0 L343.5,255.3 L345.5,255.7 L347.5,256.0 L349.5,256.3 L351.5,256.6 L353.6,257.0 L355.6,257.3 L357.6,257.6 L359.6,258.0 L361.6,258.3 L363.6,258.7 L365.6,259.0 L367.6,259.4 L369.6,259.7 L371.6,260.1 L373.6,260.5 L375.6,260.8 L377.6,261.2 L379.6,261.6 L381.6,262.0 L383.6,262.3 L385.6,262.7 L387.6,263.1 L389.6,263.5 L391.6,263.9 L393.6,264.3 L395.7,264.7 L397.7,265.1 L399.7,265.5 L401.7,265.9 L403.7,266.4 L405.7,266.8 L407.7,267.2 L409.7,267.6 L411.7,268.1 L413.7,268.5 L415.7,268.9 L417.7,269.4 L419.7,269.8 L421.7,270.3 L423.7,270.7 L425.7,271.2 L427.7,271.7 L429.7,272.1 L431.7,272.6 L433.7,273.1 L435.8,273.5 L437.8,274.0 L439.8,274.5 L441.8,275.0 L443.8,275.5 L445.8,276.0 L447.8,276.5 L449.8,277.0 L451.8,277.5 L453.8,278.0 L455.8,278.5 L457.8,279.0 L459.8,279.6 L461.8,280.1 L463.8,280.6 L465.8,281.2 L467.8,281.7 L469.8,282.3 L471.8,282.8 L473.8,283.4 L475.8,283.9 L477.9,284.5 L479.9,285.1 L481.9,285.6 L483.9,286.2 L485.9,286.8 L487.9,287.4 L489.9,287.9 L491.9,288.5 L493.9,289.1 L495.9,289.7 L497.9,290.3 L499.9,290.9 L501.9,291.6 L503.9,292.2 L505.9,292.8 L507.9,293.4 L509.9,294.1 L511.9,294.7 L513.9,295.3 L515.9,296.0 L517.9,296.6 L520.0,297.3 L522.0,297.9 L524.0,298.6 L526.0,299.3 L528.0,299.9 L530.0,300.6 L532.0,301.3 L534.0,302.0 L536.0,302.7 L538.0,303.4 L540.0,304.1 L542.0,304.9 L544.0,305.6 L546.0,306.3 L548.0,307.1 L550.0,307.9 L552.0,308.7 L554.0,309.5 L556.0,310.3 L558.0,311.1 L560.1,312.0 L562.1,312.9 L564.1,313.7 L566.1,314.7 L568.1,315.6 L570.1,316.5 L572.1,317.5 L574.1,318.5 L576.1,319.5 L578.1,320.6 L580.1,321.7 L582.1,322.8 L584.1,323.9 L586.1,325.0 L588.1,326.2 L590.1,327.4 L592.1,328.6 L594.1,329.9 L596.1,331.2 L598.1,332.5 L600.1,333.8 L602.2,335.2 L604.2,336.6 L606.2,338.0 L608.2,339.5 L610.2,341.0 L612.2,342.5 L614.2,344.0 L616.2,345.6 L618.2,347.2 L620.2,348.8 L622.2,350.5" stroke="#CD0BBC"/>
<path d="M82.9,72.5 L84.9,72.7 L86.9,72.8 L88.9,72.9 L90.9,73.0 L92.9,73.1 L94.9,73.2 L96.9,73.3 L98.9,73.4 L100.9,73.5 L102.9,73.6 L104.9,73.7 L106.9,73.9 L109.0,74.0 L111.0,74.1 L113.0,74.2 L115.0,74.3 L117.0,74.4 L119.0,74.6 L121.0,74.7 L123.0,74.8 L125.0,74.9 L127.0,75.1 L129.0,75.2 L131.0,75.3 L133.0,75.4 L135.0,75.6 L137.0,75.7 L139.0,75.8 L141.0,76.0 L143.0,76.1 L145.0,76.2 L147.0,76.4 L149.0,76.5 L151.0,76.7 L153.0,76.8 L155.0,77.0 L157.0,77.1 L159.0,77.3 L161.1,77.4 L163.1,77.6 L165.1,77.7 L167.1,77.9 L169.1,78.0 L171.1,78.2 L173.1,78.3 L175.1,78.5 L177.1,78.7 L179.1,78.8 L181.1,79.0 L183.1,79.1 L185.1,79.3 L187.1,79.5 L189.1,79.7 L191.1,79.8 L193.1,80.0 L195.1,80.2 L197.1,80.4 L199.1,80.5 L201.1,80.7 L203.1,80.9 L205.1,81.1 L207.1,81.3 L209.1,81.5 L211.2,81.7 L213.2,81.9 L215.2,82.1 L217.2,82.3 L219.2,82.5 L221.2,82.7 L223.2,82.9 L225.2,83.1 L227.2,83.3 L229.2,83.5 L231.2,83.7 L233.2,83.9 L235.2,84.1 L237.2,84.3 L239.2,84.6 L241.2,84.8 L243.2,85.0 L245.2,85.2 L247.2,85.5 L249.2,85.7 L251.2,85.9 L253.2,86.2 L255.2,86.4 L257.2,86.6 L259.2,86.9 L261.2,87.1 L263.3,87.4 L265.3,87.6 L267.3,87.9 L269.3,88.1 L271.3,88.4 L273.3,88.6 L275.3,88.9 L277.3,89.2 L279.3,89.4 L281.3,89.7 L283.3,90.0 L285.3,90.3 L287.3,90.5 L289.3,90.8 L291.3,91.1 L293.3,91.4 L295.3,91.7 L297.3,91.9 L299.3,92.2 L301.3,92.5 L303.3,92.8 L305.3,93.1 L307.3,93.4 L309.3,93.7 L311.3,94.0 L313.3,94.3 L315.4,94.7 L317.4,95.0 L319.4,95.3 L321.4,95.6 L323.4,95.9 L325.4,96.3 L327.4,96.6 L329.4,96.9 L331.4,97.3 L333.4,97.6 L335.4,97.9 L337.4,98.3 L339.4,98.6 L341.4,99.0 L343.4,99.3 L345.4,99.7 L347.4,100.0 L349.4,100.4 L351.4,100.8 L353.4,101.1 L355.4,101.5 L357.4,101.9 L359.4,102.2 L361.4,102.6 L363.4,103.0 L365.5,103.4 L367.5,103.8 L369.5,104.2 L371.5,104.6 L373.5,105.0 L375.5,105.4 L377.5,105.8 L379.5,106.2 L381.5,106.6 L383.5,107.0 L385.5,107.4 L387.5,107.8 L389.5,108.3 L391.5,108.7 L393.5,109.1 L395.5,109.6 L397.5,110.0 L399.5,110.4 L401.5,110.9 L403.5,111.3 L405.5,111.8 L407.5,112.2 L409.5,112.7 L411.5,113.2 L413.5,113.6 L415.5,114.1 L417.6,114.6 L419.6,115.0 L421.6,115.5 L423.6,116.0 L425.6,116.5 L427.6,117.0 L429.6,117.5 L431.6,118.0 L433.6,118.5 L435.6,119.0 L437.6,119.5 L439.6,120.0 L441.6,120.5 L443.6,121.0 L445.6,121.5 L447.6,122.1 L449.6,122.6 L451.6,123.1 L453.6,123.7 L455.6,124.2 L457.6,124.8 L459.6,125.3 L461.6,125.9 L463.6,126.4 L465.6,127.0 L467.7,127.5 L469.7,128.1 L471.7,128.7 L473.7,129.3 L475.7,129.8 L477.7,130.4 L479.7,131.0 L481.7,131.6 L483.7,132.2 L485.7,132.8 L487.7,133.4 L489.7,134.0 L491.7,134.6 L493.7,135.2 L495.7,135.9 L497.7,136.5 L499.7,137.1 L501.7,137.8 L503.7,138.4 L505.7,139.0 L507.7,139.7 L509.7,140.3 L511.7,141.0 L513.7,141.6 L515.7,142.3 L517.7,143.0 L519.8,143.7 L521.8,144.3 L523.8,145.0 L525.8,145.7 L527.8,146.4 L529.8,147.1 L531.8,147.8 L533.8,148.5 L535.8,149.2 L537.8,149.9 L539.8,150.6 L541.8,151.3 L543.8,152.1 L545.8,152.8 L547.8,153.5 L549.8,154.3 L551.8,155.0 L553.8,155.8 L555.8,156.5 L557.8,157.3 L559.8,158.0 L561.8,158.8 L563.8,159.6 L565.8,160.3 L567.8,161.1 L569.8,161.9 L571.9,162.7 L573.9,163.5 L575.9,164.3 L577.9,165.1 L579.9,165.9 L581.9,166.7 L583.9,167.5 L585.9,168.4 L587.9,169.2 L589.9,170.0 L591.9,170.9 L593.9,171.7 L595.9,172.5 L597.9,173.2 L599.9,173.8 L601.9,174.4 L603.9,175.0 L605.9,175.6 L607.9,176.2 L609.9,176.9 L611.9,177.5 L613.9,178.2 L615.9,178.8 L617.9,179.5 L619.9,180.1 L621.9,180.8 L623.9,181.4 L625.9,182.1 L627.9,182.8 L629.9,183.5 L631.9,184.2 L634.0,184.8 L636.0,185.5 L638.0,186.2 L640.0,186.9 L642.0,187.6 L644.0,188.4 L646.0,189.1 L648.0,189.8 L650.0,190.5 L652.0,191.2 L654.0,192.0 L656.0,192.7 L658.0,193.4 L660.0,194.2 L662.0,194.9 L664.0,195.7 L666.0,196.4 L668.0,197.2 L670.0,197.9 L672.0,198.7 L674.0,199.5 L676.0,200.2 L678.0,201.0 L680.0,201.8 L682.0,202.6 L684.0,203.4 L686.0,204.1 L688.0,204.9 L690.0,205.7 L692.0,206.5 L694.0,207.3 L696.0,208.1 L698.0,208.9 L700.0,209.7 L702.0,210.5 L704.0,211.3 L706.0,212.1 L708.0,213.0 L710.1,213.8 L712.1,214.6 L714.1,215.4 L716.1,216.2 L718.1,217.1 L720.1,217.9 L722.1,218.7 L724.1,219.5 L726.1,220.4 L728.1,221.2 L730.1,222.1 L732.1,222.9 L734.1,223.7 L736.1,224.6 L738.1,225.4 L740.1,226.3 L742.1,227.1 L744.1,228.0 L746.1,228.9 L748.1,229.7 L750.1,230.6 L752.1,231.5 L754.1,232.4 L756.1,233.3 L758.1,234.2 L760.1,235.1 L762.1,236.0 L764.1,237.0 L766.1,237.9 L768.1,238.9 L770.1,239.8 L772.1,240.8 L774.1,241.8 L776.1,242.8 L778.1,243.8 L780.1,244.9 L782.1,245.9 L784.1,247.0 L786.2,248.1 L788.2,249.2 L790.2,250.3 L792.2,251.4 L794.2,252.5 L796.2,253.7 L798.2,254.9 L800.2,256.1 L802.2,257.3 L804.2,258.5 L806.2,259.8 L808.2,261.0 L810.2,262.3 L812.2,263.7 L814.2,265.0 L816.2,266.4 L818.2,267.8 L820.2,269.2 L822.2,270.7 L824.2,272.1 L826.2,273.6 L828.2,275.2 L830.2,276.8 L832.2,278.4 L834.2,280.0 L836.2,281.7 L838.2,283.4 L840.2,285.1 L842.2,286.9 L844.2,288.7 L846.2,290.6 L848.2,292.4 L850.2,294.4 L852.2,296.3 L854.2,298.3 L856.2,300.3 L858.2,302.3 L860.2,304.4 L862.3,306.5 L864.3,308.7 L866.3,310.9 L868.3,313.1 L870.3,315.3 L872.3,317.6 L874.3,319.9 L876.3,322.3 L878.3,324.7 L880.3,327.1 L882.3,329.6 L884.3,332.1 L886.3,334.6 L888.3,337.1 L890.3,339.7 L892.3,342.4 L894.3,345.1 L896.3,347.8 L898.3,350.5" stroke="#28E2E5"/>
<path d="M82.9,508.8 L84.9,508.4 L86.9,507.9 L88.9,507.5 L90.9,507.0 L92.9,506.5 L94.9,506.0 L96.9,505.5 L98.9,505.0 L100.9,504.5 L102.9,504.0 L104.9,503.5 L106.9,503.0 L108.9,502.5 L110.9,502.0 L112.9,501.4 L114.9,500.9 L116.9,500.3 L118.9,499.8 L120.9,499.2 L122.9,498.7 L124.9,498.1 L126.9,497.5 L128.9,497.0 L130.9,496.4 L132.9,495.8 L134.9,495.2 L137.0,494.6 L139.0,494.0 L141.0,493.4 L143.0,492.8 L145.0,492.1 L147.0,491.5 L149.0,490.9 L151.0,490.2 L153.0,489.6 L155.0,488.9 L157.0,488.3 L159.0,487.6 L161.0,486.9 L163.0,486.3 L165.0,485.6 L167.0,484.9 L169.0,484.2 L171.0,483.5 L173.0,482.8 L175.0,482.0 L177.0,481.3 L179.0,480.6 L181.0,479.9 L183.0,479.1 L185.0,478.4 L187.0,477.6 L189.0,476.8 L191.0,476.1 L193.0,475.3 L195.0,474.5 L197.0,473.7 L199.0,472.9 L201.0,472.1 L203.0,471.3 L205.0,470.5 L207.0,469.6 L209.0,468.8 L211.0,468.0 L213.0,467.1 L215.0,466.3 L217.0,465.4 L219.0,464.5 L221.0,463.7 L223.0,462.8 L225.0,461.9 L227.0,461.0 L229.0,460.1 L231.0,459.2 L233.0,458.2 L235.0,457.3 L237.0,456.4 L239.0,455.4 L241.0,454.5 L243.0,453.5 L245.1,452.6 L247.1,451.6 L249.1,450.6 L251.1,449.6 L253.1,448.6 L255.1,447.6 L257.1,446.6 L259.1,445.6 L261.1,444.5 L263.1,443.5 L265.1,442.5 L267.1,441.4 L269.1,440.3 L271.1,439.3 L273.1,438.2 L275.1,437.1 L277.1,436.0 L279.1,434.9 L281.1,433.8 L283.1,432.7 L285.1,431.6 L287.1,430.4 L289.1,429.3 L291.1,428.1 L293.1,427.0 L295.1,425.8 L297.1,424.7 L299.1,423.5 L301.1,422.3 L303.1,421.2 L305.1,420.0 L307.1,418.8 L309.1,417.6 L311.1,416.4 L313.1,415.2 L315.1,414.0 L317.1,412.8 L319.1,411.6 L321.1,410.4 L323.1,409.1 L325.1,407.9 L327.1,406.7 L329.1,405.5 L331.1,404.2 L333.1,403.0 L335.1,401.7 L337.1,400.4 L339.1,399.2 L341.1,397.9 L343.1,396.6 L345.1,395.2 L347.1,393.9 L349.1,392.6 L351.2,391.2 L353.2,389.8 L355.2,388.4 L357.2,387.0 L359.2,385.6 L361.2,384.1 L363.2,382.7 L365.2,381.2 L367.2,379.7 L369.2,378.2 L371.2,376.7 L373.2,375.1 L375.2,373.6 L377.2,372.0 L379.2,370.4 L381.2,368.8 L383.2,367.2 L385.2,365.6 L387.2,363.9 L389.2,362.3 L391.2,360.6 L393.2,359.0 L395.2,357.3 L397.2,355.6 L399.2,353.9 L401.2,352.2 L403.2,350.5" stroke="#CD0BBC"/>
<path d="M82.9,350.5 L403.2,350.5" stroke="#000000"/>
<path d="M403.2,350.5 L898.6,350.5" stroke="#CD0BBC"/>
</g>
<g stroke="#2e2e2e" stroke-width="1.1" fill="none">
<rect x="50.95" y="52.5" width="880.5" height="542.0"/>
<line x1="79.85" y1="594.5" x2="79.85" y2="603.4"/>
<line x1="79.85" y1="52.5" x2="79.85" y2="46.8"/>
<line x1="249.91" y1="594.5" x2="249.91" y2="603.4"/>
<line x1="249.91" y1="52.5" x2="249.91" y2="46.8"/>
<line x1="419.97" y1="594.5" x2="419.97" y2="603.4"/>
<line x1="419.97" y1="52.5" x2="419.97" y2="46.8"/>
<line x1="590.03" y1="594.5" x2="590.03" y2="603.4"/>
<line x1="590.03" y1="52.5" x2="590.03" y2="46.8"/>
<line x1="760.09" y1="594.5" x2="760.09" y2="603.4"/>
<line x1="760.09" y1="52.5" x2="760.09" y2="46.8"/>
<line x1="930.15" y1="594.5" x2="930.15" y2="603.4"/>
<line x1="930.15" y1="52.5" x2="930.15" y2="46.8"/>
<line x1="50.95" y1="83.5" x2="42.05" y2="83.5"/>
<line x1="50.95" y1="172.5" x2="42.05" y2="172.5"/>
<line x1="50.95" y1="261.5" x2="42.05" y2="261.5"/>
<line x1="50.95" y1="350.5" x2="42.05" y2="350.5"/>
<line x1="50.95" y1="439.5" x2="42.05" y2="439.5"/>
<line x1="50.95" y1="528.5" x2="42.05" y2="528.5"/>
</g>
<g font-family="'Liberation Sans', Arial, sans-serif" font-size="14.0px" fill="#000" stroke="#000" stroke-width="0.35" text-anchor="middle">
<text transform="translate(79.85,624.7) rotate(0.03)">−7</text>
<text transform="translate(249.91,624.7) rotate(0.03)">−6</text>
<text transform="translate(419.97,624.7) rotate(0.03)">−5</text>
<text transform="translate(590.03,624.7) rotate(0.03)">−4</text>
<text transform="translate(760.09,624.7) rotate(0.03)">−3</text>
<text transform="translate(930.15,624.7) rotate(0.03)">−2</text>
<text transform="translate(79.85,32.6) rotate(0.03)">55</text>
<text transform="translate(249.91,32.6) rotate(0.03)">48</text>
<text transform="translate(419.97,32.6) rotate(0.03)">37</text>
<text transform="translate(590.03,32.6) rotate(0.03)">21</text>
<text transform="translate(760.09,32.6) rotate(0.03)">6</text>
<text transform="translate(930.15,32.6) rotate(0.03)">0</text>
<text transform="translate(30.9,83.5) rotate(-89.97)">1.5</text>
<text transform="translate(30.9,172.5) rotate(-89.97)">1.0</text>
<text transform="translate(30.9,261.5) rotate(-89.97)">0.5</text>
<text transform="translate(30.9,350.5) rotate(-89.97)">0.0</text>
<text transform="translate(30.9,439.5) rotate(-89.97)">−0.5</text>
<text transform="translate(30.9,528.5) rotate(-89.97)">−1.0</text>
<text transform="translate(491.2,658.8) rotate(0.03)">Log Lambda</text>
<text transform="translate(10.7,323.3) rotate(-89.97)">Coefficients</text>
</g>
<text transform="translate(0.7,28.15) rotate(0.05) scale(0.94,1)" font-family="'Liberation Serif', serif" font-size="41.6px" fill="#111">A</text>
<text transform="translate(965.5,26.6) rotate(0.05) scale(0.85,1)" font-family="'Liberation Serif', serif" font-size="40.8px" fill="#111">B</text>
<rect x="1851" y="218" width="17.1" height="81.6" fill="#A9A9A9"/>
<g stroke="#A9A9A9" stroke-width="1" fill="none">
<line x1="1052.39" y1="310.2" x2="1052.39" y2="466.2"/>
<line x1="1159.13" y1="389.7" x2="1159.13" y2="515.7"/>
<line x1="1221.58" y1="436.9" x2="1221.58" y2="543.9"/>
<line x1="1265.88" y1="458.0" x2="1265.88" y2="556.6"/>
<line x1="1300.24" y1="468.1" x2="1300.24" y2="564.9"/>
<line x1="1328.32" y1="474.2" x2="1328.32" y2="569.8"/>
<line x1="1352.06" y1="475.7" x2="1352.06" y2="573.7"/>
<line x1="1372.62" y1="475.8" x2="1372.62" y2="574.2"/>
<line x1="1390.76" y1="475.4" x2="1390.76" y2="574.0"/>
<line x1="1406.99" y1="473.0" x2="1406.99" y2="571.0"/>
<line x1="1421.67" y1="469.1" x2="1421.67" y2="566.7"/>
<line x1="1435.07" y1="463.4" x2="1435.07" y2="561.6"/>
<line x1="1447.39" y1="457.2" x2="1447.39" y2="554.2"/>
<line x1="1458.80" y1="449.4" x2="1458.80" y2="545.0"/>
<line x1="1469.43" y1="441.0" x2="1469.43" y2="535.0"/>
<line x1="1479.37" y1="432.2" x2="1479.37" y2="524.2"/>
<line x1="1488.70" y1="423.3" x2="1488.70" y2="513.5"/>
<line x1="1497.51" y1="413.2" x2="1497.51" y2="502.4"/>
<line x1="1505.83" y1="402.3" x2="1505.83" y2="492.1"/>
<line x1="1513.73" y1="391.4" x2="1513.73" y2="482.2"/>
<line x1="1521.25" y1="380.4" x2="1521.25" y2="472.4"/>
<line x1="1528.41" y1="369.2" x2="1528.41" y2="462.6"/>
<line x1="1535.26" y1="358.6" x2="1535.26" y2="452.6"/>
<line x1="1541.81" y1="350.3" x2="1541.81" y2="442.3"/>
<line x1="1548.10" y1="342.4" x2="1548.10" y2="432.4"/>
<line x1="1554.14" y1="333.8" x2="1554.14" y2="423.0"/>
<line x1="1559.95" y1="325.7" x2="1559.95" y2="414.7"/>
<line x1="1565.55" y1="318.0" x2="1565.55" y2="406.8"/>
<line x1="1570.95" y1="310.6" x2="1570.95" y2="399.4"/>
<line x1="1576.17" y1="303.2" x2="1576.17" y2="392.0"/>
<line x1="1581.22" y1="295.3" x2="1581.22" y2="385.3"/>
<line x1="1586.11" y1="287.3" x2="1586.11" y2="378.7"/>
<line x1="1590.85" y1="278.9" x2="1590.85" y2="371.5"/>
<line x1="1595.45" y1="270.3" x2="1595.45" y2="365.3"/>
<line x1="1599.91" y1="262.3" x2="1599.91" y2="358.3"/>
<line x1="1604.25" y1="254.0" x2="1604.25" y2="352.0"/>
<line x1="1608.47" y1="245.7" x2="1608.47" y2="344.9"/>
<line x1="1612.58" y1="239.1" x2="1612.58" y2="337.9"/>
<line x1="1616.58" y1="235.7" x2="1616.58" y2="332.3"/>
<line x1="1620.48" y1="233.2" x2="1620.48" y2="326.4"/>
<line x1="1624.28" y1="231.9" x2="1624.28" y2="321.1"/>
<line x1="1627.99" y1="230.9" x2="1627.99" y2="316.7"/>
<line x1="1631.61" y1="229.6" x2="1631.61" y2="313.6"/>
<line x1="1635.16" y1="227.4" x2="1635.16" y2="311.2"/>
<line x1="1638.62" y1="226.1" x2="1638.62" y2="308.3"/>
<line x1="1642.00" y1="224.6" x2="1642.00" y2="305.0"/>
<line x1="1645.31" y1="222.4" x2="1645.31" y2="302.6"/>
<line x1="1648.55" y1="220.3" x2="1648.55" y2="300.7"/>
<line x1="1651.73" y1="218.6" x2="1651.73" y2="300.0"/>
<line x1="1654.84" y1="218.0" x2="1654.84" y2="299.6"/>
<line x1="1657.89" y1="218.0" x2="1657.89" y2="299.6"/>
<line x1="1660.88" y1="218.0" x2="1660.88" y2="299.6"/>
<line x1="1663.81" y1="218.0" x2="1663.81" y2="299.6"/>
<line x1="1666.69" y1="218.0" x2="1666.69" y2="299.6"/>
<line x1="1669.52" y1="218.0" x2="1669.52" y2="299.6"/>
<line x1="1672.29" y1="218.0" x2="1672.29" y2="299.6"/>
<line x1="1675.02" y1="218.0" x2="1675.02" y2="299.6"/>
<line x1="1677.70" y1="218.0" x2="1677.70" y2="299.6"/>
<line x1="1680.33" y1="218.0" x2="1680.33" y2="299.6"/>
<line x1="1682.92" y1="218.0" x2="1682.92" y2="299.6"/>
<line x1="1685.46" y1="218.0" x2="1685.46" y2="299.6"/>
<line x1="1687.97" y1="218.0" x2="1687.97" y2="299.6"/>
<line x1="1690.43" y1="218.0" x2="1690.43" y2="299.6"/>
<line x1="1692.86" y1="218.0" x2="1692.86" y2="299.6"/>
<line x1="1695.25" y1="218.0" x2="1695.25" y2="299.6"/>
<line x1="1697.60" y1="218.0" x2="1697.60" y2="299.6"/>
<line x1="1699.91" y1="218.0" x2="1699.91" y2="299.6"/>
<line x1="1702.19" y1="218.0" x2="1702.19" y2="299.6"/>
<line x1="1704.44" y1="218.0" x2="1704.44" y2="299.6"/>
<line x1="1706.66" y1="218.0" x2="1706.66" y2="299.6"/>
<line x1="1708.84" y1="218.0" x2="1708.84" y2="299.6"/>
<line x1="1711.00" y1="218.0" x2="1711.00" y2="299.6"/>
<line x1="1713.12" y1="218.0" x2="1713.12" y2="299.6"/>
<line x1="1715.22" y1="218.0" x2="1715.22" y2="299.6"/>
<line x1="1717.28" y1="218.0" x2="1717.28" y2="299.6"/>
<line x1="1719.32" y1="218.0" x2="1719.32" y2="299.6"/>
<line x1="1721.34" y1="218.0" x2="1721.34" y2="299.6"/>
<line x1="1723.32" y1="218.0" x2="1723.32" y2="299.6"/>
<line x1="1725.28" y1="218.0" x2="1725.28" y2="299.6"/>
<line x1="1727.22" y1="218.0" x2="1727.22" y2="299.6"/>
<line x1="1729.14" y1="218.0" x2="1729.14" y2="299.6"/>
<line x1="1731.02" y1="218.0" x2="1731.02" y2="299.6"/>
<line x1="1732.89" y1="218.0" x2="1732.89" y2="299.6"/>
<line x1="1734.74" y1="218.0" x2="1734.74" y2="299.6"/>
<line x1="1736.56" y1="218.0" x2="1736.56" y2="299.6"/>
<line x1="1738.36" y1="218.0" x2="1738.36" y2="299.6"/>
<line x1="1740.14" y1="218.0" x2="1740.14" y2="299.6"/>
<line x1="1741.90" y1="218.0" x2="1741.90" y2="299.6"/>
<line x1="1743.64" y1="218.0" x2="1743.64" y2="299.6"/>
<line x1="1745.36" y1="218.0" x2="1745.36" y2="299.6"/>
<line x1="1747.06" y1="218.0" x2="1747.06" y2="299.6"/>
<line x1="1748.75" y1="218.0" x2="1748.75" y2="299.6"/>
<line x1="1750.41" y1="218.0" x2="1750.41" y2="299.6"/>
<line x1="1752.06" y1="218.0" x2="1752.06" y2="299.6"/>
<line x1="1753.69" y1="218.0" x2="1753.69" y2="299.6"/>
<line x1="1755.30" y1="218.0" x2="1755.30" y2="299.6"/>
<line x1="1756.90" y1="218.0" x2="1756.90" y2="299.6"/>
<line x1="1758.47" y1="218.0" x2="1758.47" y2="299.6"/>
<line x1="1760.04" y1="218.0" x2="1760.04" y2="299.6"/>
<line x1="1761.59" y1="218.0" x2="1761.59" y2="299.6"/>
<line x1="1763.12" y1="218.0" x2="1763.12" y2="299.6"/>
<line x1="1764.64" y1="218.0" x2="1764.64" y2="299.6"/>
<line x1="1766.14" y1="218.0" x2="1766.14" y2="299.6"/>
<line x1="1767.63" y1="218.0" x2="1767.63" y2="299.6"/>
<line x1="1769.10" y1="218.0" x2="1769.10" y2="299.6"/>
<line x1="1770.56" y1="218.0" x2="1770.56" y2="299.6"/>
<line x1="1772.01" y1="218.0" x2="1772.01" y2="299.6"/>
<line x1="1773.44" y1="218.0" x2="1773.44" y2="299.6"/>
<line x1="1774.86" y1="218.0" x2="1774.86" y2="299.6"/>
<line x1="1776.26" y1="218.0" x2="1776.26" y2="299.6"/>
<line x1="1777.66" y1="218.0" x2="1777.66" y2="299.6"/>
<line x1="1779.04" y1="218.0" x2="1779.04" y2="299.6"/>
<line x1="1780.41" y1="218.0" x2="1780.41" y2="299.6"/>
<line x1="1781.76" y1="218.0" x2="1781.76" y2="299.6"/>
<line x1="1783.11" y1="218.0" x2="1783.11" y2="299.6"/>
<line x1="1784.44" y1="218.0" x2="1784.44" y2="299.6"/>
<line x1="1785.76" y1="218.0" x2="1785.76" y2="299.6"/>
<line x1="1787.08" y1="218.0" x2="1787.08" y2="299.6"/>
<line x1="1788.38" y1="218.0" x2="1788.38" y2="299.6"/>
<line x1="1789.66" y1="218.0" x2="1789.66" y2="299.6"/>
<line x1="1790.94" y1="218.0" x2="1790.94" y2="299.6"/>
<line x1="1792.21" y1="218.0" x2="1792.21" y2="299.6"/>
<line x1="1793.47" y1="218.0" x2="1793.47" y2="299.6"/>
<line x1="1794.71" y1="218.0" x2="1794.71" y2="299.6"/>
<line x1="1795.95" y1="218.0" x2="1795.95" y2="299.6"/>
<line x1="1797.18" y1="218.0" x2="1797.18" y2="299.6"/>
<line x1="1798.39" y1="218.0" x2="1798.39" y2="299.6"/>
<line x1="1799.60" y1="218.0" x2="1799.60" y2="299.6"/>
<line x1="1800.80" y1="218.0" x2="1800.80" y2="299.6"/>
<line x1="1801.99" y1="218.0" x2="1801.99" y2="299.6"/>
<line x1="1803.17" y1="218.0" x2="1803.17" y2="299.6"/>
<line x1="1804.34" y1="218.0" x2="1804.34" y2="299.6"/>
<line x1="1805.50" y1="218.0" x2="1805.50" y2="299.6"/>
<line x1="1806.66" y1="218.0" x2="1806.66" y2="299.6"/>
<line x1="1807.80" y1="218.0" x2="1807.80" y2="299.6"/>
<line x1="1808.94" y1="218.0" x2="1808.94" y2="299.6"/>
<line x1="1810.07" y1="218.0" x2="1810.07" y2="299.6"/>
<line x1="1811.19" y1="218.0" x2="1811.19" y2="299.6"/>
<line x1="1812.30" y1="218.0" x2="1812.30" y2="299.6"/>
<line x1="1813.40" y1="218.0" x2="1813.40" y2="299.6"/>
<line x1="1814.50" y1="218.0" x2="1814.50" y2="299.6"/>
<line x1="1815.59" y1="218.0" x2="1815.59" y2="299.6"/>
<line x1="1816.67" y1="218.0" x2="1816.67" y2="299.6"/>
<line x1="1817.74" y1="218.0" x2="1817.74" y2="299.6"/>
<line x1="1818.81" y1="218.0" x2="1818.81" y2="299.6"/>
<line x1="1819.87" y1="218.0" x2="1819.87" y2="299.6"/>
<line x1="1820.92" y1="218.0" x2="1820.92" y2="299.6"/>
<line x1="1821.96" y1="218.0" x2="1821.96" y2="299.6"/>
<line x1="1823.00" y1="218.0" x2="1823.00" y2="299.6"/>
<line x1="1824.03" y1="218.0" x2="1824.03" y2="299.6"/>
<line x1="1825.05" y1="218.0" x2="1825.05" y2="299.6"/>
<line x1="1826.07" y1="218.0" x2="1826.07" y2="299.6"/>
<line x1="1827.08" y1="218.0" x2="1827.08" y2="299.6"/>
<line x1="1828.08" y1="218.0" x2="1828.08" y2="299.6"/>
<line x1="1829.08" y1="218.0" x2="1829.08" y2="299.6"/>
<line x1="1830.07" y1="218.0" x2="1830.07" y2="299.6"/>
<line x1="1831.05" y1="218.0" x2="1831.05" y2="299.6"/>
<line x1="1832.03" y1="218.0" x2="1832.03" y2="299.6"/>
<line x1="1833.00" y1="218.0" x2="1833.00" y2="299.6"/>
<line x1="1833.97" y1="218.0" x2="1833.97" y2="299.6"/>
<line x1="1834.93" y1="218.0" x2="1834.93" y2="299.6"/>
<line x1="1835.88" y1="218.0" x2="1835.88" y2="299.6"/>
<line x1="1836.83" y1="218.0" x2="1836.83" y2="299.6"/>
<line x1="1837.77" y1="218.0" x2="1837.77" y2="299.6"/>
<line x1="1838.71" y1="218.0" x2="1838.71" y2="299.6"/>
<line x1="1839.64" y1="218.0" x2="1839.64" y2="299.6"/>
<line x1="1840.56" y1="218.0" x2="1840.56" y2="299.6"/>
<line x1="1841.48" y1="218.0" x2="1841.48" y2="299.6"/>
<line x1="1842.39" y1="218.0" x2="1842.39" y2="299.6"/>
<line x1="1843.30" y1="218.0" x2="1843.30" y2="299.6"/>
<line x1="1844.21" y1="218.0" x2="1844.21" y2="299.6"/>
<line x1="1845.10" y1="218.0" x2="1845.10" y2="299.6"/>
<line x1="1846.00" y1="218.0" x2="1846.00" y2="299.6"/>
<line x1="1846.88" y1="218.0" x2="1846.88" y2="299.6"/>
<line x1="1847.77" y1="218.0" x2="1847.77" y2="299.6"/>
<line x1="1848.64" y1="218.0" x2="1848.64" y2="299.6"/>
<line x1="1849.52" y1="218.0" x2="1849.52" y2="299.6"/>
<line x1="1850.38" y1="218.0" x2="1850.38" y2="299.6"/>
<line x1="1851.25" y1="218.0" x2="1851.25" y2="299.6"/>
<line x1="1852.11" y1="218.0" x2="1852.11" y2="299.6"/>
<line x1="1852.96" y1="218.0" x2="1852.96" y2="299.6"/>
<line x1="1853.81" y1="218.0" x2="1853.81" y2="299.6"/>
<line x1="1854.65" y1="218.0" x2="1854.65" y2="299.6"/>
<line x1="1855.49" y1="218.0" x2="1855.49" y2="299.6"/>
<line x1="1856.32" y1="218.0" x2="1856.32" y2="299.6"/>
<line x1="1857.15" y1="218.0" x2="1857.15" y2="299.6"/>
<line x1="1857.98" y1="218.0" x2="1857.98" y2="299.6"/>
<line x1="1858.80" y1="218.0" x2="1858.80" y2="299.6"/>
<line x1="1859.62" y1="218.0" x2="1859.62" y2="299.6"/>
<line x1="1860.43" y1="218.0" x2="1860.43" y2="299.6"/>
<line x1="1861.24" y1="218.0" x2="1861.24" y2="299.6"/>
<line x1="1862.04" y1="218.0" x2="1862.04" y2="299.6"/>
<line x1="1862.84" y1="218.0" x2="1862.84" y2="299.6"/>
<line x1="1863.64" y1="218.0" x2="1863.64" y2="299.6"/>
<line x1="1864.43" y1="218.0" x2="1864.43" y2="299.6"/>
<line x1="1865.22" y1="218.0" x2="1865.22" y2="299.6"/>
<line x1="1866.00" y1="218.0" x2="1866.00" y2="299.6"/>
<line x1="1866.78" y1="218.0" x2="1866.78" y2="299.6"/>
<line x1="1867.56" y1="218.0" x2="1867.56" y2="299.6"/>
</g>
<g fill="#FF0000" stroke="none">
<circle cx="1052.39" cy="388.2" r="2.5"/>
<circle cx="1159.13" cy="452.7" r="2.5"/>
<circle cx="1221.58" cy="490.4" r="2.5"/>
<circle cx="1265.88" cy="507.3" r="2.5"/>
<circle cx="1300.24" cy="516.5" r="2.5"/>
<circle cx="1328.32" cy="522.0" r="2.5"/>
<circle cx="1352.06" cy="524.7" r="2.5"/>
<circle cx="1372.62" cy="525.0" r="2.5"/>
<circle cx="1390.76" cy="524.7" r="2.5"/>
<circle cx="1406.99" cy="522.0" r="2.5"/>
<circle cx="1421.67" cy="517.9" r="2.5"/>
<circle cx="1435.07" cy="512.5" r="2.5"/>
<circle cx="1447.39" cy="505.7" r="2.5"/>
<circle cx="1458.80" cy="497.2" r="2.5"/>
<circle cx="1469.43" cy="488.0" r="2.5"/>
<circle cx="1479.37" cy="478.2" r="2.5"/>
<circle cx="1488.70" cy="468.4" r="2.5"/>
<circle cx="1497.51" cy="457.8" r="2.5"/>
<circle cx="1505.83" cy="447.2" r="2.5"/>
<circle cx="1513.73" cy="436.8" r="2.5"/>
<circle cx="1521.25" cy="426.4" r="2.5"/>
<circle cx="1528.41" cy="415.9" r="2.5"/>
<circle cx="1535.26" cy="405.6" r="2.5"/>
<circle cx="1541.81" cy="396.3" r="2.5"/>
<circle cx="1548.10" cy="387.4" r="2.5"/>
<circle cx="1554.14" cy="378.4" r="2.5"/>
<circle cx="1559.95" cy="370.2" r="2.5"/>
<circle cx="1565.55" cy="362.4" r="2.5"/>
<circle cx="1570.95" cy="355.0" r="2.5"/>
<circle cx="1576.17" cy="347.6" r="2.5"/>
<circle cx="1581.22" cy="340.3" r="2.5"/>
<circle cx="1586.11" cy="333.0" r="2.5"/>
<circle cx="1590.85" cy="325.2" r="2.5"/>
<circle cx="1595.45" cy="317.8" r="2.5"/>
<circle cx="1599.91" cy="310.3" r="2.5"/>
<circle cx="1604.25" cy="303.0" r="2.5"/>
<circle cx="1608.47" cy="295.3" r="2.5"/>
<circle cx="1612.58" cy="288.5" r="2.5"/>
<circle cx="1616.58" cy="284.0" r="2.5"/>
<circle cx="1620.48" cy="279.8" r="2.5"/>
<circle cx="1624.28" cy="276.5" r="2.5"/>
<circle cx="1627.99" cy="273.8" r="2.5"/>
<circle cx="1631.61" cy="271.6" r="2.5"/>
<circle cx="1635.16" cy="269.3" r="2.5"/>
<circle cx="1638.62" cy="267.2" r="2.5"/>
<circle cx="1642.00" cy="264.8" r="2.5"/>
<circle cx="1645.31" cy="262.5" r="2.5"/>
<circle cx="1648.55" cy="260.5" r="2.5"/>
<circle cx="1651.73" cy="259.3" r="2.5"/>
<circle cx="1654.84" cy="258.8" r="2.5"/>
<circle cx="1657.89" cy="258.8" r="2.5"/>
<circle cx="1660.88" cy="258.8" r="2.5"/>
<circle cx="1663.81" cy="258.8" r="2.5"/>
<circle cx="1666.69" cy="258.8" r="2.5"/>
<circle cx="1669.52" cy="258.8" r="2.5"/>
<circle cx="1672.29" cy="258.8" r="2.5"/>
<circle cx="1675.02" cy="258.8" r="2.5"/>
<circle cx="1677.70" cy="258.8" r="2.5"/>
<circle cx="1680.33" cy="258.8" r="2.5"/>
<circle cx="1682.92" cy="258.8" r="2.5"/>
<circle cx="1685.46" cy="258.8" r="2.5"/>
<circle cx="1687.97" cy="258.8" r="2.5"/>
<circle cx="1690.43" cy="258.8" r="2.5"/>
<circle cx="1692.86" cy="258.8" r="2.5"/>
<circle cx="1695.25" cy="258.8" r="2.5"/>
<circle cx="1697.60" cy="258.8" r="2.5"/>
<circle cx="1699.91" cy="258.8" r="2.5"/>
<circle cx="1702.19" cy="258.8" r="2.5"/>
<circle cx="1704.44" cy="258.8" r="2.5"/>
<circle cx="1706.66" cy="258.8" r="2.5"/>
<circle cx="1708.84" cy="258.8" r="2.5"/>
<circle cx="1711.00" cy="258.8" r="2.5"/>
<circle cx="1713.12" cy="258.8" r="2.5"/>
<circle cx="1715.22" cy="258.8" r="2.5"/>
<circle cx="1717.28" cy="258.8" r="2.5"/>
<circle cx="1719.32" cy="258.8" r="2.5"/>
<circle cx="1721.34" cy="258.8" r="2.5"/>
<circle cx="1723.32" cy="258.8" r="2.5"/>
<circle cx="1725.28" cy="258.8" r="2.5"/>
<circle cx="1727.22" cy="258.8" r="2.5"/>
<circle cx="1729.14" cy="258.8" r="2.5"/>
<circle cx="1731.02" cy="258.8" r="2.5"/>
<circle cx="1732.89" cy="258.8" r="2.5"/>
<circle cx="1734.74" cy="258.8" r="2.5"/>
<circle cx="1736.56" cy="258.8" r="2.5"/>
<circle cx="1738.36" cy="258.8" r="2.5"/>
<circle cx="1740.14" cy="258.8" r="2.5"/>
<circle cx="1741.90" cy="258.8" r="2.5"/>
<circle cx="1743.64" cy="258.8" r="2.5"/>
<circle cx="1745.36" cy="258.8" r="2.5"/>
<circle cx="1747.06" cy="258.8" r="2.5"/>
<circle cx="1748.75" cy="258.8" r="2.5"/>
<circle cx="1750.41" cy="258.8" r="2.5"/>
<circle cx="1752.06" cy="258.8" r="2.5"/>
<circle cx="1753.69" cy="258.8" r="2.5"/>
<circle cx="1755.30" cy="258.8" r="2.5"/>
<circle cx="1756.90" cy="258.8" r="2.5"/>
<circle cx="1758.47" cy="258.8" r="2.5"/>
<circle cx="1760.04" cy="258.8" r="2.5"/>
<circle cx="1761.59" cy="258.8" r="2.5"/>
<circle cx="1763.12" cy="258.8" r="2.5"/>
<circle cx="1764.64" cy="258.8" r="2.5"/>
<circle cx="1766.14" cy="258.8" r="2.5"/>
<circle cx="1767.63" cy="258.8" r="2.5"/>
<circle cx="1769.10" cy="258.8" r="2.5"/>
<circle cx="1770.56" cy="258.8" r="2.5"/>
<circle cx="1772.01" cy="258.8" r="2.5"/>
<circle cx="1773.44" cy="258.8" r="2.5"/>
<circle cx="1774.86" cy="258.8" r="2.5"/>
<circle cx="1776.26" cy="258.8" r="2.5"/>
<circle cx="1777.66" cy="258.8" r="2.5"/>
<circle cx="1779.04" cy="258.8" r="2.5"/>
<circle cx="1780.41" cy="258.8" r="2.5"/>
<circle cx="1781.76" cy="258.8" r="2.5"/>
<circle cx="1783.11" cy="258.8" r="2.5"/>
<circle cx="1784.44" cy="258.8" r="2.5"/>
<circle cx="1785.76" cy="258.8" r="2.5"/>
<circle cx="1787.08" cy="258.8" r="2.5"/>
<circle cx="1788.38" cy="258.8" r="2.5"/>
<circle cx="1789.66" cy="258.8" r="2.5"/>
<circle cx="1790.94" cy="258.8" r="2.5"/>
<circle cx="1792.21" cy="258.8" r="2.5"/>
<circle cx="1793.47" cy="258.8" r="2.5"/>
<circle cx="1794.71" cy="258.8" r="2.5"/>
<circle cx="1795.95" cy="258.8" r="2.5"/>
<circle cx="1797.18" cy="258.8" r="2.5"/>
<circle cx="1798.39" cy="258.8" r="2.5"/>
<circle cx="1799.60" cy="258.8" r="2.5"/>
<circle cx="1800.80" cy="258.8" r="2.5"/>
<circle cx="1801.99" cy="258.8" r="2.5"/>
<circle cx="1803.17" cy="258.8" r="2.5"/>
<circle cx="1804.34" cy="258.8" r="2.5"/>
<circle cx="1805.50" cy="258.8" r="2.5"/>
<circle cx="1806.66" cy="258.8" r="2.5"/>
<circle cx="1807.80" cy="258.8" r="2.5"/>
<circle cx="1808.94" cy="258.8" r="2.5"/>
<circle cx="1810.07" cy="258.8" r="2.5"/>
<circle cx="1811.19" cy="258.8" r="2.5"/>
<circle cx="1812.30" cy="258.8" r="2.5"/>
<circle cx="1813.40" cy="258.8" r="2.5"/>
<circle cx="1814.50" cy="258.8" r="2.5"/>
<circle cx="1815.59" cy="258.8" r="2.5"/>
<circle cx="1816.67" cy="258.8" r="2.5"/>
<circle cx="1817.74" cy="258.8" r="2.5"/>
<circle cx="1818.81" cy="258.8" r="2.5"/>
<circle cx="1819.87" cy="258.8" r="2.5"/>
<circle cx="1820.92" cy="258.8" r="2.5"/>
<circle cx="1821.96" cy="258.8" r="2.5"/>
<circle cx="1823.00" cy="258.8" r="2.5"/>
<circle cx="1824.03" cy="258.8" r="2.5"/>
<circle cx="1825.05" cy="258.8" r="2.5"/>
<circle cx="1826.07" cy="258.8" r="2.5"/>
<circle cx="1827.08" cy="258.8" r="2.5"/>
<circle cx="1828.08" cy="258.8" r="2.5"/>
<circle cx="1829.08" cy="258.8" r="2.5"/>
<circle cx="1830.07" cy="258.8" r="2.5"/>
<circle cx="1831.05" cy="258.8" r="2.5"/>
<circle cx="1832.03" cy="258.8" r="2.5"/>
<circle cx="1833.00" cy="258.8" r="2.5"/>
<circle cx="1833.97" cy="258.8" r="2.5"/>
<circle cx="1834.93" cy="258.8" r="2.5"/>
<circle cx="1835.88" cy="258.8" r="2.5"/>
<circle cx="1836.83" cy="258.8" r="2.5"/>
<circle cx="1837.77" cy="258.8" r="2.5"/>
<circle cx="1838.71" cy="258.8" r="2.5"/>
<circle cx="1839.64" cy="258.8" r="2.5"/>
<circle cx="1840.56" cy="258.8" r="2.5"/>
<circle cx="1841.48" cy="258.8" r="2.5"/>
<circle cx="1842.39" cy="258.8" r="2.5"/>
<circle cx="1843.30" cy="258.8" r="2.5"/>
<circle cx="1844.21" cy="258.8" r="2.5"/>
<circle cx="1845.10" cy="258.8" r="2.5"/>
<circle cx="1846.00" cy="258.8" r="2.5"/>
<circle cx="1846.88" cy="258.8" r="2.5"/>
<circle cx="1847.77" cy="258.8" r="2.5"/>
<circle cx="1848.64" cy="258.8" r="2.5"/>
<circle cx="1849.52" cy="258.8" r="2.5"/>
<circle cx="1850.38" cy="258.8" r="2.5"/>
<circle cx="1851.25" cy="258.8" r="2.5"/>
<circle cx="1852.11" cy="258.8" r="2.5"/>
<circle cx="1852.96" cy="258.8" r="2.5"/>
<circle cx="1853.81" cy="258.8" r="2.5"/>
<circle cx="1854.65" cy="258.8" r="2.5"/>
<circle cx="1855.49" cy="258.8" r="2.5"/>
<circle cx="1856.32" cy="258.8" r="2.5"/>
<circle cx="1857.15" cy="258.8" r="2.5"/>
<circle cx="1857.98" cy="258.8" r="2.5"/>
<circle cx="1858.80" cy="258.8" r="2.5"/>
<circle cx="1859.62" cy="258.8" r="2.5"/>
<circle cx="1860.43" cy="258.8" r="2.5"/>
<circle cx="1861.24" cy="258.8" r="2.5"/>
<circle cx="1862.04" cy="258.8" r="2.5"/>
<circle cx="1862.84" cy="258.8" r="2.5"/>
<circle cx="1863.64" cy="258.8" r="2.5"/>
<circle cx="1864.43" cy="258.8" r="2.5"/>
<circle cx="1865.22" cy="258.8" r="2.5"/>
<circle cx="1866.00" cy="258.8" r="2.5"/>
<circle cx="1866.78" cy="258.8" r="2.5"/>
<circle cx="1867.56" cy="258.8" r="2.5"/>
</g>
<g stroke="#000" stroke-width="1.1" stroke-dasharray="1 2.4" fill="none">
<line x1="1372.55" y1="52.5" x2="1372.55" y2="594.5"/>
<line x1="1479.4" y1="52.5" x2="1479.4" y2="594.5"/>
</g>
<g stroke="#2e2e2e" stroke-width="1.1" fill="none">
<rect x="1019.9" y="52.5" width="880.6" height="542.0"/>
<line x1="1050.46" y1="594.5" x2="1050.46" y2="603.4"/>
<line x1="1204.46" y1="594.5" x2="1204.46" y2="603.4"/>
<line x1="1358.46" y1="594.5" x2="1358.46" y2="603.4"/>
<line x1="1512.46" y1="594.5" x2="1512.46" y2="603.4"/>
<line x1="1666.46" y1="594.5" x2="1666.46" y2="603.4"/>
<line x1="1820.46" y1="594.5" x2="1820.46" y2="603.4"/>
<line x1="1019.9" y1="551.5" x2="1011.00" y2="551.5"/>
<line x1="1019.9" y1="478.0" x2="1011.00" y2="478.0"/>
<line x1="1019.9" y1="404.4" x2="1011.00" y2="404.4"/>
<line x1="1019.9" y1="330.9" x2="1011.00" y2="330.9"/>
<line x1="1019.9" y1="257.4" x2="1011.00" y2="257.4"/>
<line x1="1019.9" y1="183.9" x2="1011.00" y2="183.9"/>
<line x1="1019.9" y1="110.3" x2="1011.00" y2="110.3"/>
</g>
<g font-family="'Liberation Sans', Arial, sans-serif" font-size="14.0px" fill="#000" stroke="#000" stroke-width="0.35" text-anchor="middle">
<text transform="translate(1050.46,624.7) rotate(0.03)">−6</text>
<text transform="translate(1204.46,624.7) rotate(0.03)">−5</text>
<text transform="translate(1358.46,624.7) rotate(0.03)">−4</text>
<text transform="translate(1512.46,624.7) rotate(0.03)">−3</text>
<text transform="translate(1666.46,624.7) rotate(0.03)">−2</text>
<text transform="translate(1820.46,624.7) rotate(0.03)">−1</text>
<text transform="translate(1047.20,32.6) rotate(0.03)">55</text>
<text transform="translate(1095.30,32.6) rotate(0.03)">47</text>
<text transform="translate(1159.13,32.6) rotate(0.03)">42</text>
<text transform="translate(1221.58,32.6) rotate(0.03)">36</text>
<text transform="translate(1265.88,32.6) rotate(0.03)">33</text>
<text transform="translate(1300.24,32.6) rotate(0.03)">27</text>
<text transform="translate(1328.32,32.6) rotate(0.03)">26</text>
<text transform="translate(1372.62,32.6) rotate(0.03)">19</text>
<text transform="translate(1406.99,32.6) rotate(0.03)">15</text>
<text transform="translate(1435.07,32.6) rotate(0.03)">13</text>
<text transform="translate(1458.80,32.6) rotate(0.03)">9</text>
<text transform="translate(1479.37,32.6) rotate(0.03)">7</text>
<text transform="translate(1505.83,32.6) rotate(0.03)">6</text>
<text transform="translate(1528.41,32.6) rotate(0.03)">5</text>
<text transform="translate(1548.10,32.6) rotate(0.03)">5</text>
<text transform="translate(1570.95,32.6) rotate(0.03)">3</text>
<text transform="translate(1590.85,32.6) rotate(0.03)">2</text>
<text transform="translate(1612.58,32.6) rotate(0.03)">2</text>
<text transform="translate(1635.16,32.6) rotate(0.03)">1</text>
<text transform="translate(1654.84,32.6) rotate(0.03)">0</text>
<text transform="translate(1675.02,32.6) rotate(0.03)">0</text>
<text transform="translate(1695.25,32.6) rotate(0.03)">0</text>
<text transform="translate(1715.22,32.6) rotate(0.03)">0</text>
<text transform="translate(1734.74,32.6) rotate(0.03)">0</text>
<text transform="translate(1755.30,32.6) rotate(0.03)">0</text>
<text transform="translate(1774.86,32.6) rotate(0.03)">0</text>
<text transform="translate(1794.71,32.6) rotate(0.03)">0</text>
<text transform="translate(1814.50,32.6) rotate(0.03)">0</text>
<text transform="translate(1834.93,32.6) rotate(0.03)">0</text>
<text transform="translate(1854.65,32.6) rotate(0.03)">0</text>
<text transform="translate(1000.2,551.5) rotate(-89.97)">0.90</text>
<text transform="translate(1000.2,478.0) rotate(-89.97)">0.95</text>
<text transform="translate(1000.2,404.4) rotate(-89.97)">1.00</text>
<text transform="translate(1000.2,330.9) rotate(-89.97)">1.05</text>
<text transform="translate(1000.2,257.4) rotate(-89.97)">1.10</text>
<text transform="translate(1000.2,183.9) rotate(-89.97)">1.15</text>
<text transform="translate(1000.2,110.3) rotate(-89.97)">1.20</text>
<text transform="translate(1446.4,647.5) rotate(0.03)">Log Lambda</text>
<text transform="translate(975.7,322.5) rotate(-89.97)">Binomial Deviance</text>
</g>
</svg>
</body></html>
